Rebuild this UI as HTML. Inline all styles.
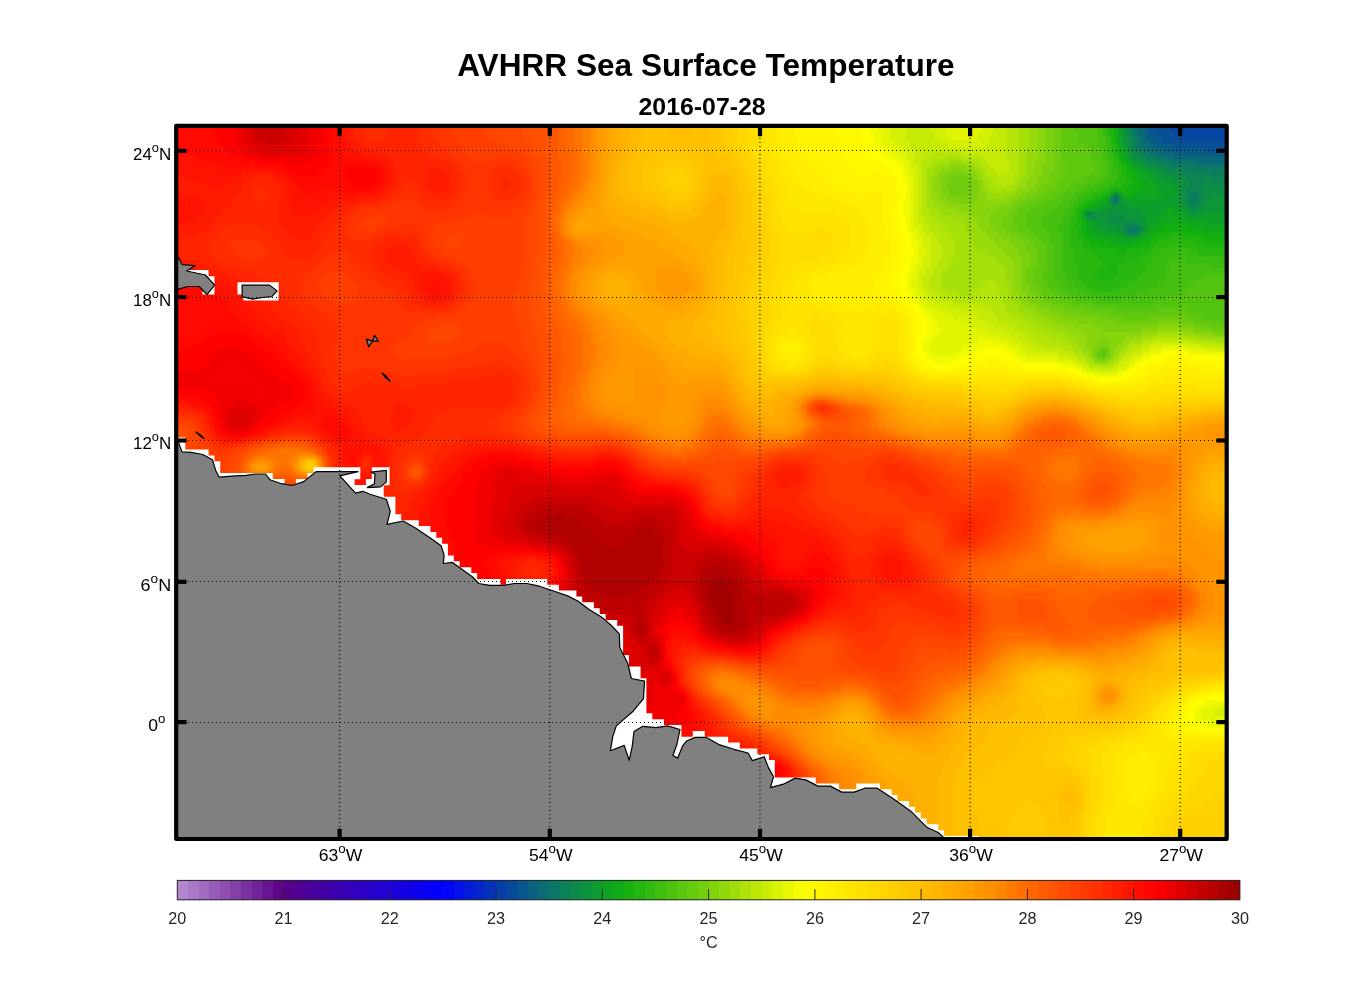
<!DOCTYPE html><html><head><meta charset="utf-8"><title>AVHRR Sea Surface Temperature</title>
<style>html,body{margin:0;padding:0;background:#fff}svg{display:block}text{font-family:"Liberation Sans",sans-serif}</style></head><body>
<svg width="1356" height="1000" viewBox="0 0 1356 1000">
<defs><clipPath id="cp"><rect x="177.2" y="126.9" width="1048.2" height="711.0"/></clipPath>
<filter id="bl" x="-10%" y="-10%" width="120%" height="120%" color-interpolation-filters="sRGB"><feGaussianBlur stdDeviation="1.3"/></filter></defs>
<rect width="1356" height="1000" fill="#fff"/>
<g clip-path="url(#cp)"><g filter="url(#bl)">
<g shape-rendering="crispEdges">
<path fill="#0744a2" d="M1170 104h80v28h-80zM1174 132h76v4h-76zM1182 136h68v4h-68z"/>
<path fill="#085095" d="M1150 104h20v28h-20zM1154 132h20v4h-20zM1158 136h24v4h-24zM1162 140h88v4h-88zM1174 144h76v4h-76zM1206 148h44v4h-44z"/>
<path fill="#085c87" d="M1146 104h4v28h-4zM1146 132h8v4h-8zM1146 136h12v4h-12zM1150 140h12v4h-12zM1154 144h20v4h-20zM1166 148h40v4h-40zM1178 152h72v4h-72z"/>
<path fill="#09687a" d="M1138 104h8v28h-8zM1138 132h8v4h-8zM1142 136h4v4h-4zM1142 140h8v4h-8zM1146 144h8v4h-8zM1150 148h16v4h-16zM1158 152h20v4h-20zM1174 156h76v4h-76zM1198 160h52v4h-52zM1114 196h4v4h-4z"/>
<path fill="#0a746c" d="M1134 104h4v28h-4zM1134 132h4v4h-4zM1138 136h4v4h-4zM1138 140h4v4h-4zM1138 144h8v4h-8zM1142 148h8v4h-8zM1150 152h8v4h-8zM1158 156h16v4h-16zM1170 160h28v4h-28zM1190 164h60v4h-60zM1114 200h4v4h-4zM1130 228h8v4h-8z"/>
<path fill="#0b7d5f" d="M1130 104h4v28h-4zM1130 132h4v4h-4zM1134 136h4v4h-4zM1134 140h4v4h-4zM1134 144h4v4h-4zM1138 148h4v4h-4zM1142 152h8v4h-8zM1146 156h12v4h-12zM1158 160h12v4h-12zM1170 164h20v4h-20zM1186 168h64v4h-64zM1210 172h40v4h-40zM1190 192h8v4h-8zM1190 196h8v4h-8zM1190 200h8v4h-8zM1130 224h4v4h-4zM1126 228h4v4h-4z"/>
<path fill="#0c8552" d="M1126 104h4v28h-4zM1130 136h4v4h-4zM1130 140h4v4h-4zM1130 144h4v4h-4zM1134 148h4v4h-4zM1138 152h4v4h-4zM1142 156h4v4h-4zM1146 160h12v4h-12zM1158 164h12v4h-12zM1166 168h20v4h-20zM1178 172h32v4h-32zM1186 176h64v4h-64zM1190 180h16v4h-16zM1210 180h40v4h-40zM1190 184h12v4h-12zM1186 188h16v4h-16zM1186 192h4v4h-4zM1198 192h4v4h-4zM1110 196h4v4h-4zM1186 196h4v4h-4zM1198 196h4v4h-4zM1110 200h4v4h-4zM1186 200h4v4h-4zM1198 200h4v4h-4zM1190 204h8v4h-8zM1086 212h8v4h-8zM1126 224h4v4h-4zM1134 224h4v4h-4zM1138 228h4v4h-4zM1130 232h8v4h-8z"/>
<path fill="#0d8e45" d="M1126 132h4v4h-4zM1126 136h4v4h-4zM1126 140h4v4h-4zM1126 144h4v4h-4zM1130 148h4v4h-4zM1130 152h8v4h-8zM1134 156h8v4h-8zM1142 160h4v4h-4zM1146 164h12v4h-12zM1158 168h8v4h-8zM1166 172h12v4h-12zM1174 176h12v4h-12zM1182 180h8v4h-8zM1206 180h4v4h-4zM1182 184h8v4h-8zM1202 184h48v4h-48zM1182 188h4v4h-4zM1202 188h48v4h-48zM1114 192h4v4h-4zM1182 192h4v4h-4zM1202 192h48v4h-48zM1118 196h4v4h-4zM1182 196h4v4h-4zM1202 196h8v4h-8zM1118 200h4v4h-4zM1182 200h4v4h-4zM1202 200h4v4h-4zM1114 204h4v4h-4zM1186 204h4v4h-4zM1198 204h4v4h-4zM1190 208h8v4h-8zM1110 212h12v4h-12zM1090 216h4v4h-4zM1106 216h20v4h-20zM1110 220h28v4h-28zM1118 224h8v4h-8zM1138 224h4v4h-4zM1122 228h4v4h-4zM1126 232h4v4h-4z"/>
<path fill="#0d9637" d="M1122 104h4v28h-4zM1122 132h4v4h-4zM1122 136h4v4h-4zM1122 140h4v4h-4zM1126 148h4v4h-4zM1130 156h4v4h-4zM1134 160h8v4h-8zM1142 164h4v4h-4zM1146 168h12v4h-12zM1154 172h12v4h-12zM1158 176h16v4h-16zM1166 180h16v4h-16zM1174 184h8v4h-8zM1178 188h4v4h-4zM1178 192h4v4h-4zM1178 196h4v4h-4zM1210 196h40v4h-40zM1178 200h4v4h-4zM1206 200h44v4h-44zM1110 204h4v4h-4zM1118 204h12v4h-12zM1182 204h4v4h-4zM1202 204h48v4h-48zM1102 208h40v4h-40zM1186 208h4v4h-4zM1198 208h52v4h-52zM1094 212h16v4h-16zM1122 212h24v4h-24zM1190 212h12v4h-12zM1086 216h4v4h-4zM1094 216h12v4h-12zM1126 216h20v4h-20zM1098 220h12v4h-12zM1138 220h8v4h-8zM1098 224h20v4h-20zM1142 224h4v4h-4zM1106 228h16v4h-16zM1142 228h4v4h-4zM1118 232h8v4h-8zM1138 232h4v4h-4z"/>
<path fill="#0e9f2a" d="M1118 104h4v28h-4zM1118 132h4v4h-4zM1122 144h4v4h-4zM1122 148h4v4h-4zM1126 152h4v4h-4zM1126 156h4v4h-4zM1130 160h4v4h-4zM1134 164h8v4h-8zM1138 168h8v4h-8zM1146 172h8v4h-8zM1150 176h8v4h-8zM1154 180h12v4h-12zM1158 184h16v4h-16zM1158 188h20v4h-20zM1110 192h4v4h-4zM1118 192h4v4h-4zM1162 192h16v4h-16zM1158 196h20v4h-20zM1106 200h4v4h-4zM1122 200h56v4h-56zM1102 204h8v4h-8zM1130 204h52v4h-52zM1090 208h12v4h-12zM1142 208h24v4h-24zM1174 208h12v4h-12zM1082 212h4v4h-4zM1146 212h16v4h-16zM1182 212h8v4h-8zM1202 212h48v4h-48zM1146 216h12v4h-12zM1186 216h64v4h-64zM1090 220h8v4h-8zM1146 220h8v4h-8zM1206 220h44v4h-44zM1090 224h8v4h-8zM1146 224h4v4h-4zM1094 228h12v4h-12zM1146 228h4v4h-4zM1102 232h16v4h-16zM1142 232h4v4h-4zM1122 236h16v4h-16z"/>
<path fill="#0fa71d" d="M1118 136h4v4h-4zM1118 140h4v4h-4zM1118 144h4v4h-4zM1118 148h4v4h-4zM1122 152h4v4h-4zM1122 156h4v4h-4zM1126 160h4v4h-4zM1130 164h4v4h-4zM1134 168h4v4h-4zM1138 172h8v4h-8zM1138 176h12v4h-12zM1142 180h12v4h-12zM1142 184h16v4h-16zM1142 188h16v4h-16zM1134 192h28v4h-28zM1106 196h4v4h-4zM1122 196h36v4h-36zM1098 200h8v4h-8zM1094 204h8v4h-8zM1086 208h4v4h-4zM1166 208h8v4h-8zM1162 212h20v4h-20zM1082 216h4v4h-4zM1158 216h28v4h-28zM1086 220h4v4h-4zM1154 220h20v4h-20zM1178 220h28v4h-28zM1086 224h4v4h-4zM1150 224h12v4h-12zM1190 224h60v4h-60zM1086 228h8v4h-8zM1150 228h8v4h-8zM1202 228h48v4h-48zM1090 232h12v4h-12zM1146 232h4v4h-4zM1098 236h24v4h-24zM1138 236h8v4h-8zM1110 240h24v4h-24z"/>
<path fill="#10b010" d="M1114 104h4v28h-4zM1114 132h4v4h-4zM1114 136h4v4h-4zM1114 140h4v4h-4zM1118 152h4v4h-4zM1118 156h4v4h-4zM1122 160h4v4h-4zM1126 164h4v4h-4zM1126 168h8v4h-8zM1130 172h8v4h-8zM1130 176h8v4h-8zM1134 180h8v4h-8zM1130 184h12v4h-12zM1114 188h4v4h-4zM1126 188h16v4h-16zM1122 192h12v4h-12zM1102 196h4v4h-4zM1094 200h4v4h-4zM1086 204h8v4h-8zM1082 208h4v4h-4zM1082 220h4v4h-4zM1174 220h4v4h-4zM1082 224h4v4h-4zM1162 224h28v4h-28zM1082 228h4v4h-4zM1158 228h44v4h-44zM1082 232h8v4h-8zM1150 232h12v4h-12zM1190 232h60v4h-60zM1086 236h12v4h-12zM1146 236h8v4h-8zM1202 236h48v4h-48zM1090 240h20v4h-20zM1134 240h16v4h-16zM1098 244h44v4h-44zM1118 248h8v4h-8z"/>
<path fill="#1db410" d="M1110 104h4v28h-4zM1110 132h4v4h-4zM1110 136h4v4h-4zM1114 144h4v4h-4zM1114 148h4v4h-4zM1114 152h4v4h-4zM1118 160h4v4h-4zM1122 164h4v4h-4zM1122 168h4v4h-4zM1122 172h8v4h-8zM1126 176h4v4h-4zM1126 180h8v4h-8zM1122 184h8v4h-8zM1110 188h4v4h-4zM1118 188h8v4h-8zM1102 192h8v4h-8zM1094 196h8v4h-8zM1086 200h8v4h-8zM1082 204h4v4h-4zM1078 208h4v4h-4zM1078 212h4v4h-4zM1078 216h4v4h-4zM1078 220h4v4h-4zM1074 224h8v4h-8zM1078 228h4v4h-4zM1078 232h4v4h-4zM1162 232h28v4h-28zM1078 236h8v4h-8zM1154 236h16v4h-16zM1182 236h20v4h-20zM1082 240h8v4h-8zM1150 240h8v4h-8zM1194 240h56v4h-56zM1082 244h16v4h-16zM1142 244h12v4h-12zM1202 244h48v4h-48zM1086 248h32v4h-32zM1126 248h24v4h-24zM1094 252h48v4h-48zM1098 256h40v4h-40zM1102 260h24v4h-24zM1106 264h12v4h-12zM1098 268h20v4h-20zM1094 272h24v4h-24zM1098 276h16v4h-16z"/>
<path fill="#2ab810" d="M1106 104h4v28h-4zM1106 132h4v4h-4zM1110 140h4v4h-4zM1110 144h4v4h-4zM1110 148h4v4h-4zM1110 152h4v4h-4zM1114 156h4v4h-4zM1114 160h4v4h-4zM1114 164h8v4h-8zM1118 168h4v4h-4zM1118 172h4v4h-4zM1118 176h8v4h-8zM1114 180h12v4h-12zM1110 184h12v4h-12zM1102 188h8v4h-8zM1090 192h12v4h-12zM1086 196h8v4h-8zM1078 200h8v4h-8zM1078 204h4v4h-4zM1074 208h4v4h-4zM1074 212h4v4h-4zM1070 216h8v4h-8zM1070 220h8v4h-8zM1070 224h4v4h-4zM1070 228h8v4h-8zM1070 232h8v4h-8zM1070 236h8v4h-8zM1170 236h12v4h-12zM1070 240h12v4h-12zM1158 240h36v4h-36zM1070 244h12v4h-12zM1154 244h20v4h-20zM1178 244h24v4h-24zM1074 248h12v4h-12zM1150 248h12v4h-12zM1190 248h60v4h-60zM1074 252h20v4h-20zM1142 252h16v4h-16zM1198 252h52v4h-52zM1074 256h24v4h-24zM1138 256h16v4h-16zM1222 256h28v4h-28zM1074 260h28v4h-28zM1126 260h24v4h-24zM1078 264h28v4h-28zM1118 264h28v4h-28zM1078 268h20v4h-20zM1118 268h28v4h-28zM1078 272h16v4h-16zM1118 272h24v4h-24zM1078 276h20v4h-20zM1114 276h24v4h-24zM1082 280h52v4h-52zM1086 284h40v4h-40zM1094 288h24v4h-24z"/>
<path fill="#38bc0f" d="M1102 104h4v28h-4zM1102 132h4v4h-4zM1106 136h4v4h-4zM1106 140h4v4h-4zM1106 144h4v4h-4zM1106 148h4v4h-4zM1106 152h4v4h-4zM1106 156h8v4h-8zM1110 160h4v4h-4zM1110 164h4v4h-4zM1110 168h8v4h-8zM1110 172h8v4h-8zM1110 176h8v4h-8zM1106 180h8v4h-8zM1098 184h12v4h-12zM1090 188h12v4h-12zM1082 192h8v4h-8zM1078 196h8v4h-8zM1074 200h4v4h-4zM1070 204h8v4h-8zM1066 208h8v4h-8zM1066 212h8v4h-8zM1062 216h8v4h-8zM1062 220h8v4h-8zM1058 224h12v4h-12zM1058 228h12v4h-12zM1062 232h8v4h-8zM1062 236h8v4h-8zM1062 240h8v4h-8zM1062 244h8v4h-8zM1174 244h4v4h-4zM1062 248h12v4h-12zM1162 248h28v4h-28zM1062 252h12v4h-12zM1158 252h40v4h-40zM1062 256h12v4h-12zM1154 256h68v4h-68zM1062 260h12v4h-12zM1150 260h20v4h-20zM1186 260h64v4h-64zM1062 264h16v4h-16zM1146 264h24v4h-24zM1210 264h40v4h-40zM1062 268h16v4h-16zM1146 268h20v4h-20zM1066 272h12v4h-12zM1142 272h24v4h-24zM1066 276h12v4h-12zM1138 276h28v4h-28zM1070 280h12v4h-12zM1134 280h28v4h-28zM1074 284h12v4h-12zM1126 284h32v4h-32zM1078 288h16v4h-16zM1118 288h28v4h-28zM1086 292h52v4h-52zM1102 296h20v4h-20z"/>
<path fill="#45c00f" d="M1098 104h4v28h-4zM1098 132h4v4h-4zM1098 136h8v4h-8zM1098 140h8v4h-8zM1098 144h8v4h-8zM1102 148h4v4h-4zM1102 152h4v4h-4zM1102 156h4v4h-4zM1102 160h8v4h-8zM1106 164h4v4h-4zM1106 168h4v4h-4zM1102 172h8v4h-8zM1102 176h8v4h-8zM1094 180h12v4h-12zM1086 184h12v4h-12zM1078 188h12v4h-12zM1074 192h8v4h-8zM1070 196h8v4h-8zM1062 200h12v4h-12zM1058 204h12v4h-12zM1054 208h12v4h-12zM1046 212h20v4h-20zM1042 216h20v4h-20zM1042 220h20v4h-20zM1042 224h16v4h-16zM1046 228h12v4h-12zM1050 232h12v4h-12zM1050 236h12v4h-12zM1050 240h12v4h-12zM1054 244h8v4h-8zM1054 248h8v4h-8zM1054 252h8v4h-8zM1054 256h8v4h-8zM1054 260h8v4h-8zM1170 260h16v4h-16zM1054 264h8v4h-8zM1170 264h40v4h-40zM1054 268h8v4h-8zM1166 268h84v4h-84zM1054 272h12v4h-12zM1166 272h84v4h-84zM1054 276h12v4h-12zM1166 276h36v4h-36zM1054 280h16v4h-16zM1162 280h32v4h-32zM1058 284h16v4h-16zM1158 284h32v4h-32zM1062 288h16v4h-16zM1146 288h40v4h-40zM1070 292h16v4h-16zM1138 292h40v4h-40zM1078 296h24v4h-24zM1122 296h44v4h-44zM1094 300h60v4h-60z"/>
<path fill="#52c40f" d="M1074 104h24v28h-24zM1078 132h20v4h-20zM1078 136h20v4h-20zM1078 140h20v4h-20zM1086 144h12v4h-12zM1090 148h12v4h-12zM1090 152h12v4h-12zM1090 156h12v4h-12zM1094 160h8v4h-8zM1094 164h12v4h-12zM1094 168h12v4h-12zM1090 172h12v4h-12zM1082 176h20v4h-20zM1074 180h20v4h-20zM1070 184h16v4h-16zM1066 188h12v4h-12zM1062 192h12v4h-12zM1054 196h16v4h-16zM1046 200h16v4h-16zM1038 204h20v4h-20zM1030 208h24v4h-24zM1026 212h20v4h-20zM1026 216h16v4h-16zM1026 220h16v4h-16zM1026 224h16v4h-16zM1030 228h16v4h-16zM1034 232h16v4h-16zM1038 236h12v4h-12zM1042 240h8v4h-8zM1046 244h8v4h-8zM1046 248h8v4h-8zM1046 252h8v4h-8zM1046 256h8v4h-8zM1046 260h8v4h-8zM1046 264h8v4h-8zM1046 268h8v4h-8zM1042 272h12v4h-12zM1042 276h12v4h-12zM1202 276h48v4h-48zM1046 280h8v4h-8zM1194 280h56v4h-56zM1046 284h12v4h-12zM1190 284h60v4h-60zM1050 288h12v4h-12zM1186 288h64v4h-64zM1054 292h16v4h-16zM1178 292h72v4h-72zM1062 296h16v4h-16zM1166 296h84v4h-84zM1074 300h20v4h-20zM1154 300h96v4h-96zM1094 304h156v4h-156zM1118 308h40v4h-40zM1186 308h64v4h-64zM1194 312h56v4h-56zM1202 316h48v4h-48zM1222 320h28v4h-28zM1102 352h4v4h-4z"/>
<path fill="#60c80e" d="M1062 104h12v28h-12zM1062 132h16v4h-16zM1062 136h16v4h-16zM1062 140h16v4h-16zM1062 144h24v4h-24zM1062 148h28v4h-28zM1062 152h28v4h-28zM1062 156h28v4h-28zM1062 160h32v4h-32zM1066 164h28v4h-28zM1066 168h28v4h-28zM1062 172h28v4h-28zM1062 176h20v4h-20zM1058 180h16v4h-16zM1058 184h12v4h-12zM1050 188h16v4h-16zM1046 192h16v4h-16zM1038 196h16v4h-16zM1030 200h16v4h-16zM1022 204h16v4h-16zM1018 208h12v4h-12zM1014 212h12v4h-12zM1014 216h12v4h-12zM1014 220h12v4h-12zM1014 224h12v4h-12zM1018 228h12v4h-12zM1022 232h12v4h-12zM1030 236h8v4h-8zM1034 240h8v4h-8zM1034 244h12v4h-12zM1038 248h8v4h-8zM1038 252h8v4h-8zM1038 256h8v4h-8zM1038 260h8v4h-8zM1038 264h8v4h-8zM1034 268h12v4h-12zM1034 272h8v4h-8zM1034 276h8v4h-8zM1034 280h12v4h-12zM1038 284h8v4h-8zM1038 288h12v4h-12zM1042 292h12v4h-12zM1046 296h16v4h-16zM1054 300h20v4h-20zM1066 304h28v4h-28zM1086 308h32v4h-32zM1158 308h28v4h-28zM1110 312h84v4h-84zM1122 316h28v4h-28zM1186 316h16v4h-16zM1194 320h28v4h-28zM1210 324h40v4h-40zM1102 348h4v4h-4zM1098 352h4v4h-4z"/>
<path fill="#6dcc0e" d="M1054 104h8v28h-8zM1054 132h8v4h-8zM1054 136h8v4h-8zM1054 140h8v4h-8zM1054 144h8v4h-8zM1054 148h8v4h-8zM1054 152h8v4h-8zM1054 156h8v4h-8zM1054 160h8v4h-8zM1054 164h12v4h-12zM1054 168h12v4h-12zM1050 172h12v4h-12zM950 176h16v4h-16zM1050 176h12v4h-12zM950 180h20v4h-20zM1046 180h12v4h-12zM946 184h24v4h-24zM1042 184h16v4h-16zM950 188h20v4h-20zM1038 188h12v4h-12zM950 192h20v4h-20zM1034 192h12v4h-12zM1026 196h12v4h-12zM1018 200h12v4h-12zM1014 204h8v4h-8zM1010 208h8v4h-8zM1006 212h8v4h-8zM1002 216h12v4h-12zM1002 220h12v4h-12zM1002 224h12v4h-12zM1006 228h12v4h-12zM1010 232h12v4h-12zM1018 236h12v4h-12zM1022 240h12v4h-12zM1026 244h8v4h-8zM1026 248h12v4h-12zM1030 252h8v4h-8zM1030 256h8v4h-8zM1030 260h8v4h-8zM1030 264h8v4h-8zM1026 268h8v4h-8zM1026 272h8v4h-8zM1026 276h8v4h-8zM1026 280h8v4h-8zM1030 284h8v4h-8zM1030 288h8v4h-8zM1034 292h8v4h-8zM1038 296h8v4h-8zM1042 300h12v4h-12zM1050 304h16v4h-16zM1062 308h24v4h-24zM1074 312h36v4h-36zM1098 316h24v4h-24zM1150 316h36v4h-36zM1114 320h44v4h-44zM1182 320h12v4h-12zM1194 324h16v4h-16zM1210 328h40v4h-40zM1098 348h4v4h-4zM1106 348h4v4h-4zM1094 352h4v4h-4zM1106 352h4v4h-4zM1098 356h8v4h-8z"/>
<path fill="#7ad00e" d="M1046 104h8v28h-8zM1046 132h8v4h-8zM1046 136h8v4h-8zM1046 140h8v4h-8zM1046 144h8v4h-8zM1046 148h8v4h-8zM1046 152h8v4h-8zM1046 156h8v4h-8zM1046 160h8v4h-8zM1042 164h12v4h-12zM954 168h8v4h-8zM1042 168h12v4h-12zM946 172h24v4h-24zM1042 172h8v4h-8zM942 176h8v4h-8zM966 176h8v4h-8zM1038 176h12v4h-12zM942 180h8v4h-8zM970 180h8v4h-8zM1038 180h8v4h-8zM942 184h4v4h-4zM970 184h8v4h-8zM1034 184h8v4h-8zM942 188h8v4h-8zM970 188h8v4h-8zM1030 188h8v4h-8zM942 192h8v4h-8zM970 192h8v4h-8zM1022 192h12v4h-12zM946 196h32v4h-32zM1018 196h8v4h-8zM954 200h20v4h-20zM1010 200h8v4h-8zM1002 204h12v4h-12zM994 208h16v4h-16zM990 212h16v4h-16zM990 216h12v4h-12zM990 220h12v4h-12zM990 224h12v4h-12zM994 228h12v4h-12zM998 232h12v4h-12zM1002 236h16v4h-16zM1010 240h12v4h-12zM1014 244h12v4h-12zM1018 248h8v4h-8zM1018 252h12v4h-12zM1022 256h8v4h-8zM1022 260h8v4h-8zM1022 264h8v4h-8zM1022 268h4v4h-4zM1022 272h4v4h-4zM1022 276h4v4h-4zM1022 280h4v4h-4zM1022 284h8v4h-8zM1022 288h8v4h-8zM1026 292h8v4h-8zM1026 296h12v4h-12zM1030 300h12v4h-12zM1038 304h12v4h-12zM1046 308h16v4h-16zM1054 312h20v4h-20zM1062 316h36v4h-36zM1078 320h36v4h-36zM1158 320h24v4h-24zM1094 324h64v4h-64zM1178 324h16v4h-16zM1102 328h40v4h-40zM1194 328h16v4h-16zM1214 332h36v4h-36zM1098 340h12v4h-12zM1094 344h16v4h-16zM1094 348h4v4h-4zM1094 356h4v4h-4zM1106 356h4v4h-4z"/>
<path fill="#89d50c" d="M1038 104h8v28h-8zM1038 132h8v4h-8zM1038 136h8v4h-8zM1038 140h8v4h-8zM1038 144h8v4h-8zM1038 148h8v4h-8zM1038 152h8v4h-8zM1038 156h8v4h-8zM1034 160h12v4h-12zM950 164h16v4h-16zM1034 164h8v4h-8zM942 168h12v4h-12zM962 168h12v4h-12zM1034 168h8v4h-8zM938 172h8v4h-8zM970 172h8v4h-8zM1034 172h8v4h-8zM938 176h4v4h-4zM974 176h4v4h-4zM1030 176h8v4h-8zM934 180h8v4h-8zM978 180h4v4h-4zM1026 180h12v4h-12zM934 184h8v4h-8zM978 184h4v4h-4zM1026 184h8v4h-8zM934 188h8v4h-8zM978 188h4v4h-4zM1018 188h12v4h-12zM938 192h4v4h-4zM978 192h8v4h-8zM1014 192h8v4h-8zM938 196h8v4h-8zM978 196h8v4h-8zM1006 196h12v4h-12zM942 200h12v4h-12zM974 200h36v4h-36zM946 204h56v4h-56zM958 208h36v4h-36zM970 212h20v4h-20zM974 216h16v4h-16zM978 220h12v4h-12zM978 224h12v4h-12zM982 228h12v4h-12zM986 232h12v4h-12zM990 236h12v4h-12zM994 240h16v4h-16zM998 244h16v4h-16zM1002 248h16v4h-16zM1006 252h12v4h-12zM1010 256h12v4h-12zM1014 260h8v4h-8zM1014 264h8v4h-8zM1014 268h8v4h-8zM1014 272h8v4h-8zM1014 276h8v4h-8zM1014 280h8v4h-8zM1014 284h8v4h-8zM1014 288h8v4h-8zM1018 292h8v4h-8zM1018 296h8v4h-8zM1022 300h8v4h-8zM1026 304h12v4h-12zM1034 308h12v4h-12zM1038 312h16v4h-16zM1046 316h16v4h-16zM1054 320h24v4h-24zM1066 324h28v4h-28zM1158 324h20v4h-20zM1074 328h28v4h-28zM1142 328h16v4h-16zM1182 328h12v4h-12zM1082 332h60v4h-60zM1194 332h20v4h-20zM1086 336h40v4h-40zM1086 340h12v4h-12zM1110 340h12v4h-12zM1086 344h8v4h-8zM1110 344h8v4h-8zM1090 348h4v4h-4zM1110 348h4v4h-4zM1090 352h4v4h-4zM1110 352h4v4h-4zM1110 356h4v4h-4zM1098 360h8v4h-8z"/>
<path fill="#98da0b" d="M1030 104h8v28h-8zM1030 132h8v4h-8zM1030 136h8v4h-8zM1030 140h8v4h-8zM1030 144h8v4h-8zM1026 148h12v4h-12zM1026 152h12v4h-12zM1026 156h12v4h-12zM950 160h12v4h-12zM1026 160h8v4h-8zM938 164h12v4h-12zM966 164h8v4h-8zM1026 164h8v4h-8zM934 168h8v4h-8zM974 168h4v4h-4zM1026 168h8v4h-8zM934 172h4v4h-4zM978 172h4v4h-4zM1026 172h8v4h-8zM930 176h8v4h-8zM978 176h4v4h-4zM1022 176h8v4h-8zM930 180h4v4h-4zM982 180h4v4h-4zM1018 180h8v4h-8zM930 184h4v4h-4zM982 184h4v4h-4zM1018 184h8v4h-8zM930 188h4v4h-4zM982 188h8v4h-8zM1014 188h4v4h-4zM930 192h8v4h-8zM986 192h12v4h-12zM1002 192h12v4h-12zM930 196h8v4h-8zM986 196h20v4h-20zM934 200h8v4h-8zM934 204h12v4h-12zM938 208h20v4h-20zM942 212h28v4h-28zM954 216h20v4h-20zM962 220h16v4h-16zM966 224h12v4h-12zM966 228h16v4h-16zM970 232h16v4h-16zM970 236h20v4h-20zM974 240h20v4h-20zM974 244h24v4h-24zM978 248h24v4h-24zM986 252h20v4h-20zM994 256h16v4h-16zM998 260h16v4h-16zM1002 264h12v4h-12zM1006 268h8v4h-8zM1006 272h8v4h-8zM1006 276h8v4h-8zM1006 280h8v4h-8zM1010 284h4v4h-4zM1010 288h4v4h-4zM1010 292h8v4h-8zM1010 296h8v4h-8zM1014 300h8v4h-8zM1018 304h8v4h-8zM1018 308h16v4h-16zM1026 312h12v4h-12zM1034 316h12v4h-12zM1038 320h16v4h-16zM1046 324h20v4h-20zM1054 328h20v4h-20zM1158 328h24v4h-24zM1066 332h16v4h-16zM1142 332h16v4h-16zM1182 332h12v4h-12zM1070 336h16v4h-16zM1126 336h16v4h-16zM1202 336h48v4h-48zM1074 340h12v4h-12zM1122 340h8v4h-8zM1078 344h8v4h-8zM1118 344h8v4h-8zM1082 348h8v4h-8zM1114 348h8v4h-8zM1086 352h4v4h-4zM1114 352h4v4h-4zM1090 356h4v4h-4zM1094 360h4v4h-4zM1106 360h4v4h-4z"/>
<path fill="#a6e009" d="M1018 104h12v28h-12zM1018 132h12v4h-12zM1018 136h12v4h-12zM1018 140h12v4h-12zM1018 144h12v4h-12zM1018 148h8v4h-8zM1018 152h8v4h-8zM946 156h12v4h-12zM1018 156h8v4h-8zM934 160h16v4h-16zM962 160h16v4h-16zM1018 160h8v4h-8zM930 164h8v4h-8zM974 164h8v4h-8zM1018 164h8v4h-8zM926 168h8v4h-8zM978 168h8v4h-8zM1018 168h8v4h-8zM926 172h8v4h-8zM982 172h4v4h-4zM1018 172h8v4h-8zM926 176h4v4h-4zM982 176h8v4h-8zM1014 176h8v4h-8zM926 180h4v4h-4zM986 180h8v4h-8zM1014 180h4v4h-4zM926 184h4v4h-4zM986 184h12v4h-12zM1006 184h12v4h-12zM926 188h4v4h-4zM990 188h24v4h-24zM926 192h4v4h-4zM998 192h4v4h-4zM926 196h4v4h-4zM926 200h8v4h-8zM926 204h8v4h-8zM930 208h8v4h-8zM930 212h12v4h-12zM934 216h20v4h-20zM938 220h24v4h-24zM942 224h24v4h-24zM946 228h20v4h-20zM950 232h20v4h-20zM954 236h16v4h-16zM954 240h20v4h-20zM954 244h20v4h-20zM954 248h24v4h-24zM954 252h32v4h-32zM954 256h40v4h-40zM950 260h48v4h-48zM950 264h52v4h-52zM946 268h60v4h-60zM942 272h64v4h-64zM942 276h64v4h-64zM942 280h44v4h-44zM994 280h12v4h-12zM942 284h40v4h-40zM998 284h12v4h-12zM946 288h32v4h-32zM998 288h12v4h-12zM958 292h12v4h-12zM1002 292h8v4h-8zM1002 296h8v4h-8zM1002 300h12v4h-12zM1006 304h12v4h-12zM1006 308h12v4h-12zM1010 312h16v4h-16zM1018 316h16v4h-16zM1022 320h16v4h-16zM1030 324h16v4h-16zM1034 328h20v4h-20zM1042 332h24v4h-24zM1158 332h24v4h-24zM1050 336h20v4h-20zM1142 336h12v4h-12zM1186 336h16v4h-16zM1062 340h12v4h-12zM1130 340h12v4h-12zM1214 340h36v4h-36zM1070 344h8v4h-8zM1126 344h4v4h-4zM1074 348h8v4h-8zM1122 348h4v4h-4zM1082 352h4v4h-4zM1118 352h4v4h-4zM1086 356h4v4h-4zM1114 356h4v4h-4zM1090 360h4v4h-4zM1110 360h4v4h-4z"/>
<path fill="#b5e508" d="M1006 104h12v28h-12zM1006 132h12v4h-12zM1006 136h12v4h-12zM1006 140h12v4h-12zM1006 144h12v4h-12zM1006 148h12v4h-12zM930 152h32v4h-32zM1006 152h12v4h-12zM926 156h20v4h-20zM958 156h24v4h-24zM1006 156h12v4h-12zM922 160h12v4h-12zM978 160h8v4h-8zM1010 160h8v4h-8zM922 164h8v4h-8zM982 164h8v4h-8zM1010 164h8v4h-8zM922 168h4v4h-4zM986 168h8v4h-8zM1010 168h8v4h-8zM922 172h4v4h-4zM986 172h12v4h-12zM1006 172h12v4h-12zM922 176h4v4h-4zM990 176h24v4h-24zM922 180h4v4h-4zM994 180h20v4h-20zM922 184h4v4h-4zM998 184h8v4h-8zM922 188h4v4h-4zM922 192h4v4h-4zM922 196h4v4h-4zM922 200h4v4h-4zM922 204h4v4h-4zM922 208h8v4h-8zM922 212h8v4h-8zM926 216h8v4h-8zM926 220h12v4h-12zM930 224h12v4h-12zM930 228h16v4h-16zM934 232h16v4h-16zM938 236h16v4h-16zM938 240h16v4h-16zM942 244h12v4h-12zM942 248h12v4h-12zM942 252h12v4h-12zM942 256h12v4h-12zM938 260h12v4h-12zM938 264h12v4h-12zM934 268h12v4h-12zM934 272h8v4h-8zM930 276h12v4h-12zM930 280h12v4h-12zM986 280h8v4h-8zM930 284h12v4h-12zM982 284h16v4h-16zM934 288h12v4h-12zM978 288h20v4h-20zM938 292h20v4h-20zM970 292h32v4h-32zM942 296h60v4h-60zM954 300h48v4h-48zM982 304h24v4h-24zM990 308h16v4h-16zM994 312h16v4h-16zM998 316h20v4h-20zM1006 320h16v4h-16zM1014 324h16v4h-16zM1018 328h16v4h-16zM1026 332h16v4h-16zM1030 336h20v4h-20zM1154 336h32v4h-32zM1034 340h28v4h-28zM1142 340h8v4h-8zM1194 340h20v4h-20zM1042 344h28v4h-28zM1130 344h12v4h-12zM1062 348h12v4h-12zM1126 348h8v4h-8zM1074 352h8v4h-8zM1122 352h4v4h-4zM1078 356h8v4h-8zM1118 356h4v4h-4zM1086 360h4v4h-4zM1114 360h4v4h-4zM1090 364h24v4h-24z"/>
<path fill="#c4ea06" d="M906 104h24v28h-24zM994 104h12v28h-12zM906 132h28v4h-28zM990 132h16v4h-16zM906 136h28v4h-28zM990 136h16v4h-16zM910 140h32v4h-32zM990 140h16v4h-16zM910 144h36v4h-36zM986 144h20v4h-20zM914 148h92v4h-92zM914 152h16v4h-16zM962 152h44v4h-44zM914 156h12v4h-12zM982 156h24v4h-24zM914 160h8v4h-8zM986 160h24v4h-24zM918 164h4v4h-4zM990 164h20v4h-20zM918 168h4v4h-4zM994 168h16v4h-16zM918 172h4v4h-4zM998 172h8v4h-8zM918 176h4v4h-4zM918 180h4v4h-4zM918 184h4v4h-4zM918 188h4v4h-4zM918 192h4v4h-4zM918 196h4v4h-4zM918 200h4v4h-4zM918 204h4v4h-4zM918 208h4v4h-4zM918 212h4v4h-4zM918 216h8v4h-8zM918 220h8v4h-8zM922 224h8v4h-8zM922 228h8v4h-8zM926 232h8v4h-8zM930 236h8v4h-8zM930 240h8v4h-8zM930 244h12v4h-12zM930 248h12v4h-12zM930 252h12v4h-12zM930 256h12v4h-12zM930 260h8v4h-8zM930 264h8v4h-8zM926 268h8v4h-8zM926 272h8v4h-8zM922 276h8v4h-8zM922 280h8v4h-8zM922 284h8v4h-8zM926 288h8v4h-8zM926 292h12v4h-12zM930 296h12v4h-12zM934 300h20v4h-20zM946 304h36v4h-36zM958 308h32v4h-32zM970 312h24v4h-24zM978 316h20v4h-20zM986 320h20v4h-20zM994 324h20v4h-20zM1002 328h16v4h-16zM1010 332h16v4h-16zM1018 336h12v4h-12zM1022 340h12v4h-12zM1150 340h44v4h-44zM1026 344h16v4h-16zM1142 344h8v4h-8zM1202 344h48v4h-48zM1034 348h28v4h-28zM1134 348h8v4h-8zM1058 352h16v4h-16zM1126 352h8v4h-8zM1070 356h8v4h-8zM1122 356h8v4h-8zM1078 360h8v4h-8zM1118 360h4v4h-4zM1086 364h4v4h-4zM1114 364h4v4h-4zM1098 368h12v4h-12z"/>
<path fill="#d3ef05" d="M890 104h16v28h-16zM930 104h16v28h-16zM982 104h12v28h-12zM890 132h16v4h-16zM934 132h12v4h-12zM978 132h12v4h-12zM890 136h16v4h-16zM934 136h16v4h-16zM978 136h12v4h-12zM894 140h16v4h-16zM942 140h48v4h-48zM898 144h12v4h-12zM946 144h40v4h-40zM902 148h12v4h-12zM906 152h8v4h-8zM906 156h8v4h-8zM910 160h4v4h-4zM910 164h8v4h-8zM910 168h8v4h-8zM914 172h4v4h-4zM914 176h4v4h-4zM914 180h4v4h-4zM914 184h4v4h-4zM914 188h4v4h-4zM914 192h4v4h-4zM914 196h4v4h-4zM914 200h4v4h-4zM914 204h4v4h-4zM914 208h4v4h-4zM914 212h4v4h-4zM914 216h4v4h-4zM914 220h4v4h-4zM914 224h8v4h-8zM918 228h4v4h-4zM918 232h8v4h-8zM922 236h8v4h-8zM922 240h8v4h-8zM922 244h8v4h-8zM926 248h4v4h-4zM926 252h4v4h-4zM922 256h8v4h-8zM922 260h8v4h-8zM922 264h8v4h-8zM918 268h8v4h-8zM918 272h8v4h-8zM918 276h4v4h-4zM918 280h4v4h-4zM918 284h4v4h-4zM918 288h8v4h-8zM922 292h4v4h-4zM922 296h8v4h-8zM926 300h8v4h-8zM930 304h16v4h-16zM938 308h20v4h-20zM946 312h24v4h-24zM954 316h24v4h-24zM962 320h24v4h-24zM970 324h24v4h-24zM978 328h24v4h-24zM990 332h20v4h-20zM1002 336h16v4h-16zM1010 340h12v4h-12zM1018 344h8v4h-8zM1150 344h12v4h-12zM1186 344h16v4h-16zM1022 348h12v4h-12zM1142 348h8v4h-8zM1210 348h40v4h-40zM1026 352h32v4h-32zM1134 352h8v4h-8zM1058 356h12v4h-12zM1130 356h4v4h-4zM1074 360h4v4h-4zM1122 360h8v4h-8zM1082 364h4v4h-4zM1118 364h8v4h-8zM1086 368h12v4h-12zM1110 368h8v4h-8zM1218 708h32v4h-32zM1214 712h36v4h-36z"/>
<path fill="#e1f503" d="M878 104h12v28h-12zM946 104h36v28h-36zM882 132h8v4h-8zM946 132h32v4h-32zM882 136h8v4h-8zM950 136h28v4h-28zM882 140h12v4h-12zM886 144h12v4h-12zM890 148h12v4h-12zM894 152h12v4h-12zM898 156h8v4h-8zM902 160h8v4h-8zM906 164h4v4h-4zM906 168h4v4h-4zM906 172h8v4h-8zM910 176h4v4h-4zM910 180h4v4h-4zM910 184h4v4h-4zM910 188h4v4h-4zM910 192h4v4h-4zM910 196h4v4h-4zM910 200h4v4h-4zM910 204h4v4h-4zM910 208h4v4h-4zM910 212h4v4h-4zM910 216h4v4h-4zM910 220h4v4h-4zM910 224h4v4h-4zM910 228h8v4h-8zM914 232h4v4h-4zM914 236h8v4h-8zM918 240h4v4h-4zM918 244h4v4h-4zM918 248h8v4h-8zM918 252h8v4h-8zM918 256h4v4h-4zM918 260h4v4h-4zM914 264h8v4h-8zM914 268h4v4h-4zM914 272h4v4h-4zM910 276h8v4h-8zM910 280h8v4h-8zM910 284h8v4h-8zM914 288h4v4h-4zM914 292h8v4h-8zM918 296h4v4h-4zM918 300h8v4h-8zM922 304h8v4h-8zM926 308h12v4h-12zM930 312h16v4h-16zM934 316h20v4h-20zM938 320h24v4h-24zM938 324h32v4h-32zM942 328h36v4h-36zM938 332h52v4h-52zM934 336h68v4h-68zM930 340h48v4h-48zM994 340h16v4h-16zM930 344h40v4h-40zM1006 344h12v4h-12zM1162 344h24v4h-24zM930 348h32v4h-32zM1014 348h8v4h-8zM1150 348h12v4h-12zM1190 348h20v4h-20zM934 352h20v4h-20zM1018 352h8v4h-8zM1142 352h8v4h-8zM1026 356h32v4h-32zM1134 356h8v4h-8zM1058 360h16v4h-16zM1130 360h4v4h-4zM1074 364h8v4h-8zM1126 364h4v4h-4zM1082 368h4v4h-4zM1118 368h8v4h-8zM1094 372h24v4h-24zM1210 704h40v4h-40zM1202 708h16v4h-16zM1202 712h12v4h-12zM1202 716h48v4h-48zM1210 720h40v4h-40z"/>
<path fill="#f0fa02" d="M870 104h8v28h-8zM870 132h12v4h-12zM874 136h8v4h-8zM874 140h8v4h-8zM874 144h12v4h-12zM878 148h12v4h-12zM882 152h12v4h-12zM886 156h12v4h-12zM894 160h8v4h-8zM898 164h8v4h-8zM902 168h4v4h-4zM902 172h4v4h-4zM902 176h8v4h-8zM906 180h4v4h-4zM906 184h4v4h-4zM906 188h4v4h-4zM906 192h4v4h-4zM906 196h4v4h-4zM902 200h8v4h-8zM902 204h8v4h-8zM902 208h8v4h-8zM902 212h8v4h-8zM906 216h4v4h-4zM906 220h4v4h-4zM906 224h4v4h-4zM906 228h4v4h-4zM910 232h4v4h-4zM910 236h4v4h-4zM910 240h8v4h-8zM910 244h8v4h-8zM914 248h4v4h-4zM914 252h4v4h-4zM910 256h8v4h-8zM910 260h8v4h-8zM910 264h4v4h-4zM910 268h4v4h-4zM906 272h8v4h-8zM906 276h4v4h-4zM906 280h4v4h-4zM906 284h4v4h-4zM906 288h8v4h-8zM910 292h4v4h-4zM910 296h8v4h-8zM914 300h4v4h-4zM918 304h4v4h-4zM922 308h4v4h-4zM922 312h8v4h-8zM926 316h8v4h-8zM926 320h12v4h-12zM930 324h8v4h-8zM930 328h12v4h-12zM926 332h12v4h-12zM926 336h8v4h-8zM922 340h8v4h-8zM978 340h16v4h-16zM922 344h8v4h-8zM970 344h36v4h-36zM922 348h8v4h-8zM962 348h20v4h-20zM1002 348h12v4h-12zM1162 348h28v4h-28zM926 352h8v4h-8zM954 352h20v4h-20zM1010 352h8v4h-8zM1150 352h12v4h-12zM1190 352h60v4h-60zM926 356h36v4h-36zM1014 356h12v4h-12zM1142 356h8v4h-8zM934 360h16v4h-16zM1022 360h36v4h-36zM1134 360h8v4h-8zM1062 364h12v4h-12zM1130 364h8v4h-8zM1078 368h4v4h-4zM1126 368h4v4h-4zM1086 372h8v4h-8zM1118 372h4v4h-4zM1206 700h44v4h-44zM1198 704h12v4h-12zM1194 708h8v4h-8zM1194 712h8v4h-8zM1194 716h8v4h-8zM1194 720h16v4h-16zM1206 724h44v4h-44z"/>
<path fill="#ffff00" d="M862 104h8v28h-8zM862 132h8v4h-8zM862 136h12v4h-12zM862 140h12v4h-12zM862 144h12v4h-12zM866 148h12v4h-12zM866 152h16v4h-16zM870 156h16v4h-16zM878 160h16v4h-16zM886 164h12v4h-12zM894 168h8v4h-8zM894 172h8v4h-8zM898 176h4v4h-4zM898 180h8v4h-8zM898 184h8v4h-8zM902 188h4v4h-4zM902 192h4v4h-4zM898 196h8v4h-8zM898 200h4v4h-4zM898 204h4v4h-4zM898 208h4v4h-4zM898 212h4v4h-4zM898 216h8v4h-8zM898 220h8v4h-8zM898 224h8v4h-8zM902 228h4v4h-4zM902 232h8v4h-8zM906 236h4v4h-4zM906 240h4v4h-4zM906 244h4v4h-4zM906 248h8v4h-8zM906 252h8v4h-8zM906 256h4v4h-4zM906 260h4v4h-4zM902 264h8v4h-8zM902 268h8v4h-8zM898 272h8v4h-8zM898 276h8v4h-8zM898 280h8v4h-8zM898 284h8v4h-8zM902 288h4v4h-4zM902 292h8v4h-8zM906 296h4v4h-4zM910 300h4v4h-4zM910 304h8v4h-8zM914 308h8v4h-8zM918 312h4v4h-4zM918 316h8v4h-8zM922 320h4v4h-4zM922 324h8v4h-8zM922 328h8v4h-8zM922 332h4v4h-4zM918 336h8v4h-8zM918 340h4v4h-4zM918 344h4v4h-4zM918 348h4v4h-4zM982 348h20v4h-20zM918 352h8v4h-8zM974 352h36v4h-36zM1162 352h28v4h-28zM922 356h4v4h-4zM962 356h16v4h-16zM1006 356h8v4h-8zM1150 356h12v4h-12zM1190 356h60v4h-60zM926 360h8v4h-8zM950 360h20v4h-20zM1014 360h8v4h-8zM1142 360h8v4h-8zM934 364h20v4h-20zM1022 364h40v4h-40zM1138 364h8v4h-8zM1066 368h12v4h-12zM1130 368h8v4h-8zM1078 372h8v4h-8zM1122 372h8v4h-8zM1090 376h32v4h-32zM1206 696h44v4h-44zM1198 700h8v4h-8zM1190 704h8v4h-8zM1190 708h4v4h-4zM1186 712h8v4h-8zM1186 716h8v4h-8zM1186 720h8v4h-8zM1190 724h16v4h-16zM1206 728h44v4h-44z"/>
<path fill="#fff900" d="M834 104h28v28h-28zM834 132h28v4h-28zM834 136h28v4h-28zM838 140h24v4h-24zM838 144h24v4h-24zM842 148h24v4h-24zM842 152h24v4h-24zM842 156h28v4h-28zM846 160h32v4h-32zM846 164h40v4h-40zM850 168h44v4h-44zM858 172h12v4h-12zM882 172h12v4h-12zM890 176h8v4h-8zM890 180h8v4h-8zM894 184h4v4h-4zM894 188h8v4h-8zM894 192h8v4h-8zM894 196h4v4h-4zM894 200h4v4h-4zM890 204h8v4h-8zM890 208h8v4h-8zM890 212h8v4h-8zM890 216h8v4h-8zM894 220h4v4h-4zM894 224h4v4h-4zM894 228h8v4h-8zM898 232h4v4h-4zM898 236h8v4h-8zM898 240h8v4h-8zM898 244h8v4h-8zM898 248h8v4h-8zM898 252h8v4h-8zM898 256h8v4h-8zM898 260h8v4h-8zM898 264h4v4h-4zM894 268h8v4h-8zM890 272h8v4h-8zM890 276h8v4h-8zM890 280h8v4h-8zM890 284h8v4h-8zM894 288h8v4h-8zM894 292h8v4h-8zM898 296h8v4h-8zM902 300h8v4h-8zM906 304h4v4h-4zM910 308h4v4h-4zM910 312h8v4h-8zM914 316h4v4h-4zM914 320h8v4h-8zM914 324h8v4h-8zM914 328h8v4h-8zM914 332h8v4h-8zM914 336h4v4h-4zM914 340h4v4h-4zM914 344h4v4h-4zM914 348h4v4h-4zM914 352h4v4h-4zM914 356h8v4h-8zM978 356h28v4h-28zM1162 356h28v4h-28zM918 360h8v4h-8zM970 360h16v4h-16zM1002 360h12v4h-12zM1150 360h16v4h-16zM1190 360h60v4h-60zM922 364h12v4h-12zM954 364h20v4h-20zM1010 364h12v4h-12zM1146 364h8v4h-8zM1218 364h32v4h-32zM934 368h16v4h-16zM1026 368h40v4h-40zM1138 368h8v4h-8zM1074 372h4v4h-4zM1130 372h12v4h-12zM1086 376h4v4h-4zM1122 376h12v4h-12zM1098 380h20v4h-20zM1214 692h36v4h-36zM1198 696h8v4h-8zM1190 700h8v4h-8zM1186 704h4v4h-4zM1182 708h8v4h-8zM1182 712h4v4h-4zM1178 716h8v4h-8zM1178 720h8v4h-8zM1182 724h8v4h-8zM1186 728h20v4h-20z"/>
<path fill="#fff400" d="M794 104h40v28h-40zM794 132h40v4h-40zM798 136h36v4h-36zM798 140h40v4h-40zM798 144h40v4h-40zM802 148h40v4h-40zM802 152h40v4h-40zM806 156h36v4h-36zM810 160h36v4h-36zM814 164h32v4h-32zM818 168h32v4h-32zM822 172h36v4h-36zM870 172h12v4h-12zM830 176h60v4h-60zM834 180h56v4h-56zM838 184h56v4h-56zM846 188h48v4h-48zM862 192h4v4h-4zM882 192h12v4h-12zM882 196h12v4h-12zM882 200h12v4h-12zM882 204h8v4h-8zM882 208h8v4h-8zM882 212h8v4h-8zM882 216h8v4h-8zM882 220h12v4h-12zM886 224h8v4h-8zM886 228h8v4h-8zM886 232h12v4h-12zM890 236h8v4h-8zM890 240h8v4h-8zM890 244h8v4h-8zM890 248h8v4h-8zM890 252h8v4h-8zM890 256h8v4h-8zM886 260h12v4h-12zM886 264h12v4h-12zM882 268h12v4h-12zM878 272h12v4h-12zM874 276h16v4h-16zM874 280h16v4h-16zM874 284h16v4h-16zM878 288h16v4h-16zM882 292h12v4h-12zM886 296h12v4h-12zM894 300h8v4h-8zM898 304h8v4h-8zM902 308h8v4h-8zM906 312h4v4h-4zM910 316h4v4h-4zM910 320h4v4h-4zM910 324h4v4h-4zM910 328h4v4h-4zM910 332h4v4h-4zM910 336h4v4h-4zM910 340h4v4h-4zM910 344h4v4h-4zM786 348h8v4h-8zM910 348h4v4h-4zM910 352h4v4h-4zM910 356h4v4h-4zM914 360h4v4h-4zM986 360h16v4h-16zM1166 360h24v4h-24zM918 364h4v4h-4zM974 364h36v4h-36zM1154 364h64v4h-64zM922 368h12v4h-12zM950 368h28v4h-28zM1010 368h16v4h-16zM1146 368h12v4h-12zM1198 368h52v4h-52zM1058 372h16v4h-16zM1142 372h8v4h-8zM1078 376h8v4h-8zM1134 376h12v4h-12zM1090 380h8v4h-8zM1118 380h16v4h-16zM1202 692h12v4h-12zM1190 696h8v4h-8zM1186 700h4v4h-4zM1182 704h4v4h-4zM1178 708h4v4h-4zM1174 712h8v4h-8zM1174 716h4v4h-4zM1174 720h4v4h-4zM1174 724h8v4h-8zM1174 728h12v4h-12zM1182 732h68v4h-68z"/>
<path fill="#ffee00" d="M778 104h16v28h-16zM778 132h16v4h-16zM778 136h20v4h-20zM778 140h20v4h-20zM782 144h16v4h-16zM782 148h20v4h-20zM782 152h20v4h-20zM786 156h20v4h-20zM786 160h24v4h-24zM790 164h24v4h-24zM790 168h28v4h-28zM794 172h28v4h-28zM794 176h36v4h-36zM798 180h36v4h-36zM802 184h36v4h-36zM810 188h36v4h-36zM822 192h40v4h-40zM866 192h16v4h-16zM834 196h48v4h-48zM842 200h40v4h-40zM854 204h28v4h-28zM858 208h24v4h-24zM862 212h20v4h-20zM866 216h16v4h-16zM866 220h16v4h-16zM870 224h16v4h-16zM870 228h16v4h-16zM870 232h16v4h-16zM870 236h20v4h-20zM870 240h20v4h-20zM870 244h20v4h-20zM866 248h24v4h-24zM866 252h24v4h-24zM862 256h28v4h-28zM858 260h28v4h-28zM854 264h32v4h-32zM846 268h36v4h-36zM826 272h52v4h-52zM814 276h60v4h-60zM810 280h64v4h-64zM810 284h64v4h-64zM810 288h68v4h-68zM810 292h72v4h-72zM814 296h72v4h-72zM830 300h64v4h-64zM846 304h28v4h-28zM886 304h12v4h-12zM854 308h8v4h-8zM894 308h8v4h-8zM898 312h8v4h-8zM902 316h8v4h-8zM906 320h4v4h-4zM906 324h4v4h-4zM906 328h4v4h-4zM906 332h4v4h-4zM906 336h4v4h-4zM782 340h20v4h-20zM906 340h4v4h-4zM778 344h24v4h-24zM906 344h4v4h-4zM778 348h8v4h-8zM794 348h8v4h-8zM906 348h4v4h-4zM778 352h24v4h-24zM906 352h4v4h-4zM782 356h16v4h-16zM906 356h4v4h-4zM910 360h4v4h-4zM914 364h4v4h-4zM918 368h4v4h-4zM978 368h32v4h-32zM1158 368h40v4h-40zM926 372h64v4h-64zM998 372h60v4h-60zM1150 372h24v4h-24zM1182 372h68v4h-68zM1070 376h8v4h-8zM1146 376h16v4h-16zM1194 376h56v4h-56zM1082 380h8v4h-8zM1134 380h16v4h-16zM1094 384h44v4h-44zM1206 688h44v4h-44zM1194 692h8v4h-8zM1186 696h4v4h-4zM1178 700h8v4h-8zM1174 704h8v4h-8zM1170 708h8v4h-8zM1170 712h4v4h-4zM1166 716h8v4h-8zM1166 720h8v4h-8zM1166 724h8v4h-8zM1166 728h8v4h-8zM1166 732h16v4h-16zM1170 736h80v4h-80zM1138 752h12v4h-12zM1130 756h24v4h-24zM1126 760h28v4h-28zM1126 764h32v4h-32zM1126 768h32v4h-32zM1126 772h28v4h-28zM1126 776h28v4h-28zM1126 780h28v4h-28zM1126 784h28v4h-28zM1126 788h24v4h-24zM1126 792h20v4h-20zM1130 796h12v4h-12zM1130 800h8v4h-8z"/>
<path fill="#ffe800" d="M766 104h12v28h-12zM766 132h12v4h-12zM766 136h12v4h-12zM766 140h12v4h-12zM770 144h12v4h-12zM770 148h12v4h-12zM770 152h12v4h-12zM774 156h12v4h-12zM774 160h12v4h-12zM778 164h12v4h-12zM778 168h12v4h-12zM778 172h16v4h-16zM782 176h12v4h-12zM782 180h16v4h-16zM782 184h20v4h-20zM786 188h24v4h-24zM786 192h36v4h-36zM786 196h48v4h-48zM790 200h52v4h-52zM790 204h64v4h-64zM794 208h64v4h-64zM834 212h28v4h-28zM842 216h24v4h-24zM846 220h20v4h-20zM850 224h20v4h-20zM850 228h20v4h-20zM850 232h20v4h-20zM850 236h20v4h-20zM850 240h20v4h-20zM850 244h20v4h-20zM846 248h20v4h-20zM846 252h20v4h-20zM842 256h20v4h-20zM838 260h20v4h-20zM826 264h28v4h-28zM810 268h36v4h-36zM802 272h24v4h-24zM798 276h16v4h-16zM798 280h12v4h-12zM794 284h16v4h-16zM794 288h16v4h-16zM794 292h16v4h-16zM798 296h16v4h-16zM802 300h28v4h-28zM810 304h36v4h-36zM874 304h12v4h-12zM830 308h24v4h-24zM862 308h32v4h-32zM838 312h60v4h-60zM842 316h36v4h-36zM894 316h8v4h-8zM842 320h32v4h-32zM898 320h8v4h-8zM846 324h28v4h-28zM898 324h8v4h-8zM786 328h8v4h-8zM846 328h28v4h-28zM898 328h8v4h-8zM782 332h20v4h-20zM846 332h28v4h-28zM902 332h4v4h-4zM778 336h28v4h-28zM846 336h28v4h-28zM898 336h8v4h-8zM774 340h8v4h-8zM802 340h4v4h-4zM842 340h32v4h-32zM898 340h8v4h-8zM774 344h4v4h-4zM802 344h8v4h-8zM846 344h28v4h-28zM898 344h8v4h-8zM774 348h4v4h-4zM802 348h8v4h-8zM846 348h28v4h-28zM898 348h8v4h-8zM774 352h4v4h-4zM802 352h4v4h-4zM850 352h20v4h-20zM902 352h4v4h-4zM774 356h8v4h-8zM798 356h8v4h-8zM902 356h4v4h-4zM778 360h24v4h-24zM906 360h4v4h-4zM786 364h8v4h-8zM910 364h4v4h-4zM910 368h8v4h-8zM918 372h8v4h-8zM990 372h8v4h-8zM1174 372h8v4h-8zM930 376h140v4h-140zM1162 376h32v4h-32zM1074 380h8v4h-8zM1150 380h100v4h-100zM1086 384h8v4h-8zM1138 384h24v4h-24zM1198 384h52v4h-52zM1102 388h44v4h-44zM1218 684h32v4h-32zM1198 688h8v4h-8zM1186 692h8v4h-8zM1178 696h8v4h-8zM1174 700h4v4h-4zM1170 704h4v4h-4zM1166 708h4v4h-4zM1162 712h8v4h-8zM1162 716h4v4h-4zM1158 720h8v4h-8zM1158 724h8v4h-8zM1154 728h12v4h-12zM1154 732h12v4h-12zM1150 736h20v4h-20zM1142 740h108v4h-108zM1130 744h72v4h-72zM1122 748h64v4h-64zM1118 752h20v4h-20zM1150 752h28v4h-28zM1114 756h16v4h-16zM1154 756h20v4h-20zM1114 760h12v4h-12zM1154 760h20v4h-20zM1114 764h12v4h-12zM1158 764h12v4h-12zM1114 768h12v4h-12zM1158 768h12v4h-12zM1114 772h12v4h-12zM1154 772h16v4h-16zM1118 776h8v4h-8zM1154 776h16v4h-16zM1118 780h8v4h-8zM1154 780h12v4h-12zM1118 784h8v4h-8zM1154 784h12v4h-12zM1118 788h8v4h-8zM1150 788h12v4h-12zM1114 792h12v4h-12zM1146 792h12v4h-12zM1114 796h16v4h-16zM1142 796h16v4h-16zM1114 800h16v4h-16zM1138 800h16v4h-16zM1110 804h40v4h-40zM1110 808h40v4h-40zM1110 812h36v4h-36zM1106 816h40v4h-40zM1106 820h40v4h-40zM1106 824h36v4h-36zM1106 828h36v4h-36zM1106 832h36v4h-36zM1106 836h36v28h-36z"/>
<path fill="#ffe200" d="M754 104h12v28h-12zM754 132h12v4h-12zM758 136h8v4h-8zM758 140h8v4h-8zM758 144h12v4h-12zM758 148h12v4h-12zM762 152h8v4h-8zM762 156h12v4h-12zM766 160h8v4h-8zM766 164h12v4h-12zM770 168h8v4h-8zM770 172h8v4h-8zM770 176h12v4h-12zM774 180h8v4h-8zM774 184h8v4h-8zM774 188h12v4h-12zM774 192h12v4h-12zM778 196h8v4h-8zM778 200h12v4h-12zM778 204h12v4h-12zM778 208h16v4h-16zM782 212h52v4h-52zM782 216h60v4h-60zM782 220h64v4h-64zM786 224h64v4h-64zM790 228h20v4h-20zM826 228h24v4h-24zM794 232h8v4h-8zM834 232h16v4h-16zM834 236h16v4h-16zM834 240h16v4h-16zM834 244h16v4h-16zM834 248h12v4h-12zM830 252h16v4h-16zM822 256h20v4h-20zM798 260h40v4h-40zM794 264h32v4h-32zM790 268h20v4h-20zM786 272h16v4h-16zM786 276h12v4h-12zM782 280h16v4h-16zM782 284h12v4h-12zM782 288h12v4h-12zM782 292h12v4h-12zM782 296h16v4h-16zM782 300h20v4h-20zM782 304h28v4h-28zM786 308h44v4h-44zM782 312h56v4h-56zM782 316h28v4h-28zM822 316h20v4h-20zM878 316h16v4h-16zM778 320h32v4h-32zM830 320h12v4h-12zM874 320h24v4h-24zM778 324h28v4h-28zM834 324h12v4h-12zM874 324h24v4h-24zM774 328h12v4h-12zM794 328h16v4h-16zM834 328h12v4h-12zM874 328h24v4h-24zM770 332h12v4h-12zM802 332h8v4h-8zM838 332h8v4h-8zM874 332h28v4h-28zM770 336h8v4h-8zM806 336h8v4h-8zM838 336h8v4h-8zM874 336h24v4h-24zM770 340h4v4h-4zM806 340h8v4h-8zM834 340h8v4h-8zM874 340h24v4h-24zM770 344h4v4h-4zM810 344h4v4h-4zM838 344h8v4h-8zM874 344h24v4h-24zM770 348h4v4h-4zM810 348h4v4h-4zM838 348h8v4h-8zM874 348h24v4h-24zM770 352h4v4h-4zM806 352h8v4h-8zM842 352h8v4h-8zM870 352h8v4h-8zM894 352h8v4h-8zM770 356h4v4h-4zM806 356h4v4h-4zM846 356h28v4h-28zM894 356h8v4h-8zM770 360h8v4h-8zM802 360h4v4h-4zM858 360h8v4h-8zM898 360h8v4h-8zM774 364h12v4h-12zM794 364h8v4h-8zM902 364h8v4h-8zM906 368h4v4h-4zM914 372h4v4h-4zM922 376h8v4h-8zM942 380h84v4h-84zM1062 380h12v4h-12zM1082 384h4v4h-4zM1162 384h36v4h-36zM1094 388h8v4h-8zM1146 388h104v4h-104zM1110 392h44v4h-44zM1202 684h16v4h-16zM1190 688h8v4h-8zM1182 692h4v4h-4zM1174 696h4v4h-4zM1166 700h8v4h-8zM1162 704h8v4h-8zM1158 708h8v4h-8zM1158 712h4v4h-4zM1154 716h8v4h-8zM1154 720h4v4h-4zM1150 724h8v4h-8zM1146 728h8v4h-8zM1142 732h12v4h-12zM1134 736h16v4h-16zM1122 740h20v4h-20zM1114 744h16v4h-16zM1202 744h48v4h-48zM1106 748h16v4h-16zM1186 748h64v4h-64zM1102 752h16v4h-16zM1178 752h20v4h-20zM1102 756h12v4h-12zM1174 756h16v4h-16zM1102 760h12v4h-12zM1174 760h16v4h-16zM1102 764h12v4h-12zM1170 764h16v4h-16zM1106 768h8v4h-8zM1170 768h16v4h-16zM1106 772h8v4h-8zM1170 772h12v4h-12zM1106 776h12v4h-12zM1170 776h12v4h-12zM1106 780h12v4h-12zM1166 780h16v4h-16zM1106 784h12v4h-12zM1166 784h12v4h-12zM1106 788h12v4h-12zM1162 788h12v4h-12zM1106 792h8v4h-8zM1158 792h12v4h-12zM1106 796h8v4h-8zM1158 796h12v4h-12zM1102 800h12v4h-12zM1154 800h12v4h-12zM1102 804h8v4h-8zM1150 804h12v4h-12zM1102 808h8v4h-8zM1150 808h8v4h-8zM1098 812h12v4h-12zM1146 812h12v4h-12zM1098 816h8v4h-8zM1146 816h8v4h-8zM1098 820h8v4h-8zM1146 820h8v4h-8zM1098 824h8v4h-8zM1142 824h12v4h-12zM1098 828h8v4h-8zM1142 828h12v4h-12zM1098 832h8v4h-8zM1142 832h12v4h-12zM1098 836h8v28h-8zM1142 836h12v28h-12z"/>
<path fill="#ffdd00" d="M746 104h8v28h-8zM746 132h8v4h-8zM746 136h12v4h-12zM750 140h8v4h-8zM750 144h8v4h-8zM750 148h8v4h-8zM754 152h8v4h-8zM754 156h8v4h-8zM758 160h8v4h-8zM758 164h8v4h-8zM762 168h8v4h-8zM762 172h8v4h-8zM762 176h8v4h-8zM766 180h8v4h-8zM766 184h8v4h-8zM766 188h8v4h-8zM766 192h8v4h-8zM770 196h8v4h-8zM770 200h8v4h-8zM770 204h8v4h-8zM770 208h8v4h-8zM770 212h12v4h-12zM774 216h8v4h-8zM774 220h8v4h-8zM774 224h12v4h-12zM774 228h16v4h-16zM810 228h16v4h-16zM778 232h16v4h-16zM802 232h32v4h-32zM778 236h56v4h-56zM778 240h56v4h-56zM778 244h56v4h-56zM778 248h56v4h-56zM778 252h52v4h-52zM778 256h44v4h-44zM778 260h20v4h-20zM778 264h16v4h-16zM774 268h16v4h-16zM774 272h12v4h-12zM774 276h12v4h-12zM770 280h12v4h-12zM770 284h12v4h-12zM770 288h12v4h-12zM770 292h12v4h-12zM770 296h12v4h-12zM770 300h12v4h-12zM770 304h12v4h-12zM770 308h16v4h-16zM770 312h12v4h-12zM770 316h12v4h-12zM810 316h12v4h-12zM770 320h8v4h-8zM810 320h20v4h-20zM766 324h12v4h-12zM806 324h28v4h-28zM766 328h8v4h-8zM810 328h24v4h-24zM766 332h4v4h-4zM810 332h28v4h-28zM766 336h4v4h-4zM814 336h24v4h-24zM766 340h4v4h-4zM814 340h20v4h-20zM766 344h4v4h-4zM814 344h24v4h-24zM766 348h4v4h-4zM814 348h24v4h-24zM766 352h4v4h-4zM814 352h28v4h-28zM878 352h16v4h-16zM766 356h4v4h-4zM810 356h8v4h-8zM834 356h12v4h-12zM874 356h20v4h-20zM766 360h4v4h-4zM806 360h8v4h-8zM842 360h16v4h-16zM866 360h16v4h-16zM890 360h8v4h-8zM770 364h4v4h-4zM802 364h8v4h-8zM854 364h16v4h-16zM898 364h4v4h-4zM774 368h28v4h-28zM902 368h4v4h-4zM906 372h8v4h-8zM914 376h8v4h-8zM922 380h20v4h-20zM1026 380h36v4h-36zM962 384h56v4h-56zM1070 384h12v4h-12zM982 388h24v4h-24zM1086 388h8v4h-8zM1098 392h12v4h-12zM1154 392h96v4h-96zM1118 396h44v4h-44zM1214 680h36v4h-36zM1194 684h8v4h-8zM1182 688h8v4h-8zM1174 692h8v4h-8zM1166 696h8v4h-8zM1162 700h4v4h-4zM1158 704h4v4h-4zM1154 708h4v4h-4zM1150 712h8v4h-8zM1150 716h4v4h-4zM1146 720h8v4h-8zM1142 724h8v4h-8zM1138 728h8v4h-8zM1130 732h12v4h-12zM1118 736h16v4h-16zM1106 740h16v4h-16zM1098 744h16v4h-16zM1090 748h16v4h-16zM1090 752h12v4h-12zM1198 752h52v4h-52zM1090 756h12v4h-12zM1190 756h32v4h-32zM1090 760h12v4h-12zM1190 760h16v4h-16zM1090 764h12v4h-12zM1186 764h16v4h-16zM1094 768h12v4h-12zM1186 768h16v4h-16zM1094 772h12v4h-12zM1182 772h20v4h-20zM1098 776h8v4h-8zM1182 776h16v4h-16zM1098 780h8v4h-8zM1182 780h16v4h-16zM1098 784h8v4h-8zM1178 784h16v4h-16zM1098 788h8v4h-8zM1174 788h16v4h-16zM1098 792h8v4h-8zM1170 792h16v4h-16zM1098 796h8v4h-8zM1170 796h12v4h-12zM1094 800h8v4h-8zM1166 800h12v4h-12zM1094 804h8v4h-8zM1162 804h12v4h-12zM1094 808h8v4h-8zM1158 808h12v4h-12zM1094 812h4v4h-4zM1158 812h12v4h-12zM1094 816h4v4h-4zM1154 816h12v4h-12zM1090 820h8v4h-8zM1154 820h12v4h-12zM1090 824h8v4h-8zM1154 824h8v4h-8zM1090 828h8v4h-8zM1154 828h8v4h-8zM1090 832h8v4h-8zM1154 832h8v4h-8zM1090 836h8v28h-8zM1154 836h8v28h-8z"/>
<path fill="#ffd700" d="M738 104h8v28h-8zM738 132h8v4h-8zM738 136h8v4h-8zM738 140h12v4h-12zM742 144h8v4h-8zM742 148h8v4h-8zM746 152h8v4h-8zM746 156h8v4h-8zM750 160h8v4h-8zM750 164h8v4h-8zM754 168h8v4h-8zM754 172h8v4h-8zM758 176h4v4h-4zM758 180h8v4h-8zM758 184h8v4h-8zM758 188h8v4h-8zM762 192h4v4h-4zM762 196h8v4h-8zM762 200h8v4h-8zM762 204h8v4h-8zM762 208h8v4h-8zM766 212h4v4h-4zM766 216h8v4h-8zM766 220h8v4h-8zM766 224h8v4h-8zM766 228h8v4h-8zM766 232h12v4h-12zM770 236h8v4h-8zM770 240h8v4h-8zM770 244h8v4h-8zM770 248h8v4h-8zM770 252h8v4h-8zM766 256h12v4h-12zM766 260h12v4h-12zM766 264h12v4h-12zM766 268h8v4h-8zM762 272h12v4h-12zM762 276h12v4h-12zM758 280h12v4h-12zM758 284h12v4h-12zM758 288h12v4h-12zM758 292h12v4h-12zM758 296h12v4h-12zM758 300h12v4h-12zM758 304h12v4h-12zM758 308h12v4h-12zM758 312h12v4h-12zM758 316h12v4h-12zM758 320h12v4h-12zM758 324h8v4h-8zM758 328h8v4h-8zM758 332h8v4h-8zM758 336h8v4h-8zM758 340h8v4h-8zM758 344h8v4h-8zM758 348h8v4h-8zM762 352h4v4h-4zM762 356h4v4h-4zM818 356h16v4h-16zM762 360h4v4h-4zM814 360h28v4h-28zM882 360h8v4h-8zM766 364h4v4h-4zM810 364h8v4h-8zM838 364h16v4h-16zM870 364h28v4h-28zM766 368h8v4h-8zM802 368h8v4h-8zM854 368h16v4h-16zM894 368h8v4h-8zM774 372h24v4h-24zM902 372h4v4h-4zM906 376h8v4h-8zM914 380h8v4h-8zM926 384h36v4h-36zM1018 384h52v4h-52zM962 388h20v4h-20zM1006 388h12v4h-12zM1078 388h8v4h-8zM982 392h24v4h-24zM1090 392h8v4h-8zM1102 396h16v4h-16zM1162 396h88v4h-88zM1118 400h52v4h-52zM1222 676h28v4h-28zM1198 680h16v4h-16zM1182 684h12v4h-12zM1174 688h8v4h-8zM1166 692h8v4h-8zM1158 696h8v4h-8zM1154 700h8v4h-8zM1150 704h8v4h-8zM1150 708h4v4h-4zM1146 712h4v4h-4zM1142 716h8v4h-8zM1138 720h8v4h-8zM1134 724h8v4h-8zM1126 728h12v4h-12zM1114 732h16v4h-16zM1102 736h16v4h-16zM1086 740h20v4h-20zM1078 744h20v4h-20zM1074 748h16v4h-16zM1074 752h16v4h-16zM1078 756h12v4h-12zM1222 756h28v4h-28zM1078 760h12v4h-12zM1206 760h44v4h-44zM1082 764h8v4h-8zM1202 764h48v4h-48zM1086 768h8v4h-8zM1202 768h48v4h-48zM1086 772h8v4h-8zM1202 772h48v4h-48zM1090 776h8v4h-8zM1198 776h52v4h-52zM1090 780h8v4h-8zM1198 780h52v4h-52zM1090 784h8v4h-8zM1194 784h56v4h-56zM1090 788h8v4h-8zM1190 788h60v4h-60zM1090 792h8v4h-8zM1186 792h36v4h-36zM1090 796h8v4h-8zM1182 796h28v4h-28zM1090 800h4v4h-4zM1178 800h28v4h-28zM1090 804h4v4h-4zM1174 804h24v4h-24zM1090 808h4v4h-4zM1170 808h24v4h-24zM1086 812h8v4h-8zM1170 812h16v4h-16zM1086 816h8v4h-8zM1166 816h16v4h-16zM1086 820h4v4h-4zM1166 820h12v4h-12zM1086 824h4v4h-4zM1162 824h16v4h-16zM1086 828h4v4h-4zM1162 828h12v4h-12zM1086 832h4v4h-4zM1162 832h12v4h-12zM1086 836h4v28h-4zM1162 836h12v28h-12z"/>
<path fill="#ffd100" d="M730 104h8v28h-8zM730 132h8v4h-8zM730 136h8v4h-8zM734 140h4v4h-4zM734 144h8v4h-8zM734 148h8v4h-8zM738 152h8v4h-8zM738 156h8v4h-8zM742 160h8v4h-8zM742 164h8v4h-8zM670 168h16v4h-16zM746 168h8v4h-8zM666 172h24v4h-24zM746 172h8v4h-8zM666 176h24v4h-24zM750 176h8v4h-8zM666 180h24v4h-24zM750 180h8v4h-8zM666 184h24v4h-24zM750 184h8v4h-8zM674 188h12v4h-12zM754 188h4v4h-4zM754 192h8v4h-8zM754 196h8v4h-8zM754 200h8v4h-8zM754 204h8v4h-8zM758 208h4v4h-4zM758 212h8v4h-8zM758 216h8v4h-8zM758 220h8v4h-8zM758 224h8v4h-8zM758 228h8v4h-8zM758 232h8v4h-8zM758 236h12v4h-12zM758 240h12v4h-12zM758 244h12v4h-12zM758 248h12v4h-12zM758 252h12v4h-12zM758 256h8v4h-8zM758 260h8v4h-8zM754 264h12v4h-12zM754 268h12v4h-12zM754 272h8v4h-8zM750 276h12v4h-12zM750 280h8v4h-8zM750 284h8v4h-8zM750 288h8v4h-8zM746 292h12v4h-12zM746 296h12v4h-12zM746 300h12v4h-12zM746 304h12v4h-12zM746 308h12v4h-12zM746 312h12v4h-12zM746 316h12v4h-12zM750 320h8v4h-8zM750 324h8v4h-8zM750 328h8v4h-8zM750 332h8v4h-8zM750 336h8v4h-8zM754 340h4v4h-4zM754 344h4v4h-4zM754 348h4v4h-4zM754 352h8v4h-8zM758 356h4v4h-4zM758 360h4v4h-4zM758 364h8v4h-8zM818 364h20v4h-20zM762 368h4v4h-4zM810 368h8v4h-8zM838 368h16v4h-16zM870 368h24v4h-24zM766 372h8v4h-8zM798 372h8v4h-8zM890 372h12v4h-12zM782 376h4v4h-4zM898 376h8v4h-8zM906 380h8v4h-8zM914 384h12v4h-12zM930 388h32v4h-32zM1018 388h12v4h-12zM1066 388h12v4h-12zM966 392h16v4h-16zM1006 392h12v4h-12zM1082 392h8v4h-8zM978 396h28v4h-28zM1094 396h8v4h-8zM1106 400h12v4h-12zM1170 400h80v4h-80zM1122 404h52v4h-52zM1138 408h12v4h-12zM306 464h8v4h-8zM1222 672h28v4h-28zM1210 676h12v4h-12zM1182 680h16v4h-16zM1174 684h8v4h-8zM1166 688h8v4h-8zM1158 692h8v4h-8zM1150 696h8v4h-8zM1150 700h4v4h-4zM1146 704h4v4h-4zM1142 708h8v4h-8zM1138 712h8v4h-8zM1138 716h4v4h-4zM1130 720h8v4h-8zM1126 724h8v4h-8zM1114 728h12v4h-12zM1090 732h24v4h-24zM1066 736h36v4h-36zM1062 740h24v4h-24zM1062 744h16v4h-16zM1058 748h16v4h-16zM1058 752h16v4h-16zM1062 756h16v4h-16zM1062 760h16v4h-16zM1070 764h12v4h-12zM1074 768h12v4h-12zM1078 772h8v4h-8zM1082 776h8v4h-8zM1082 780h8v4h-8zM1086 784h4v4h-4zM1086 788h4v4h-4zM1086 792h4v4h-4zM1222 792h28v4h-28zM1086 796h4v4h-4zM1210 796h40v4h-40zM1086 800h4v4h-4zM1206 800h44v4h-44zM1086 804h4v4h-4zM1198 804h52v4h-52zM1086 808h4v4h-4zM1194 808h56v4h-56zM1082 812h4v4h-4zM1186 812h64v4h-64zM1082 816h4v4h-4zM1182 816h68v4h-68zM1082 820h4v4h-4zM1178 820h72v4h-72zM1082 824h4v4h-4zM1178 824h72v4h-72zM1082 828h4v4h-4zM1174 828h76v4h-76zM1082 832h4v4h-4zM1174 832h76v4h-76zM1082 836h4v28h-4zM1174 836h76v28h-76z"/>
<path fill="#ffcb00" d="M722 104h8v28h-8zM722 132h8v4h-8zM722 136h8v4h-8zM722 140h12v4h-12zM726 144h8v4h-8zM726 148h8v4h-8zM730 152h8v4h-8zM730 156h8v4h-8zM666 160h24v4h-24zM734 160h8v4h-8zM658 164h36v4h-36zM738 164h4v4h-4zM654 168h16v4h-16zM686 168h12v4h-12zM738 168h8v4h-8zM654 172h12v4h-12zM690 172h8v4h-8zM742 172h4v4h-4zM654 176h12v4h-12zM690 176h8v4h-8zM742 176h8v4h-8zM654 180h12v4h-12zM690 180h8v4h-8zM742 180h8v4h-8zM658 184h8v4h-8zM690 184h8v4h-8zM746 184h4v4h-4zM662 188h12v4h-12zM686 188h8v4h-8zM746 188h8v4h-8zM666 192h24v4h-24zM746 192h8v4h-8zM674 196h12v4h-12zM746 196h8v4h-8zM750 200h4v4h-4zM750 204h4v4h-4zM750 208h8v4h-8zM750 212h8v4h-8zM750 216h8v4h-8zM750 220h8v4h-8zM750 224h8v4h-8zM750 228h8v4h-8zM750 232h8v4h-8zM750 236h8v4h-8zM750 240h8v4h-8zM750 244h8v4h-8zM750 248h8v4h-8zM746 252h12v4h-12zM746 256h12v4h-12zM746 260h12v4h-12zM746 264h8v4h-8zM742 268h12v4h-12zM742 272h12v4h-12zM742 276h8v4h-8zM742 280h8v4h-8zM738 284h12v4h-12zM738 288h12v4h-12zM738 292h8v4h-8zM738 296h8v4h-8zM738 300h8v4h-8zM738 304h8v4h-8zM738 308h8v4h-8zM738 312h8v4h-8zM738 316h8v4h-8zM738 320h12v4h-12zM738 324h12v4h-12zM738 328h12v4h-12zM742 332h8v4h-8zM742 336h8v4h-8zM746 340h8v4h-8zM746 344h8v4h-8zM750 348h4v4h-4zM750 352h4v4h-4zM750 356h8v4h-8zM750 360h8v4h-8zM754 364h4v4h-4zM754 368h8v4h-8zM818 368h20v4h-20zM758 372h8v4h-8zM806 372h12v4h-12zM838 372h52v4h-52zM762 376h20v4h-20zM786 376h20v4h-20zM886 376h12v4h-12zM898 380h8v4h-8zM906 384h8v4h-8zM914 388h16v4h-16zM1030 388h36v4h-36zM930 392h36v4h-36zM1018 392h8v4h-8zM1074 392h8v4h-8zM962 396h16v4h-16zM1006 396h8v4h-8zM1086 396h8v4h-8zM978 400h28v4h-28zM1098 400h8v4h-8zM986 404h12v4h-12zM1110 404h12v4h-12zM1174 404h32v4h-32zM1122 408h16v4h-16zM1150 408h24v4h-24zM1138 412h16v4h-16zM1222 668h28v4h-28zM1214 672h8v4h-8zM1182 676h28v4h-28zM1046 680h24v4h-24zM1170 680h12v4h-12zM1042 684h32v4h-32zM1162 684h12v4h-12zM1042 688h32v4h-32zM1154 688h12v4h-12zM1046 692h28v4h-28zM1146 692h12v4h-12zM1050 696h16v4h-16zM1146 696h4v4h-4zM1142 700h8v4h-8zM1138 704h8v4h-8zM1134 708h8v4h-8zM1134 712h4v4h-4zM1130 716h8v4h-8zM1122 720h8v4h-8zM1066 724h8v4h-8zM1114 724h12v4h-12zM1054 728h60v4h-60zM1050 732h40v4h-40zM1046 736h20v4h-20zM1046 740h16v4h-16zM1042 744h20v4h-20zM1042 748h16v4h-16zM1042 752h16v4h-16zM1042 756h20v4h-20zM1042 760h20v4h-20zM1046 764h24v4h-24zM1050 768h24v4h-24zM1054 772h24v4h-24zM1074 776h8v4h-8zM1078 780h4v4h-4zM1082 784h4v4h-4zM1082 788h4v4h-4zM1082 792h4v4h-4zM1082 796h4v4h-4zM1022 800h8v4h-8zM1082 800h4v4h-4zM1014 804h28v4h-28zM1082 804h4v4h-4zM1014 808h28v4h-28zM1082 808h4v4h-4zM1010 812h36v4h-36zM1078 812h4v4h-4zM1010 816h36v4h-36zM1078 816h4v4h-4zM1010 820h36v4h-36zM1078 820h4v4h-4zM1010 824h36v4h-36zM1078 824h4v4h-4zM1010 828h36v4h-36zM1074 828h8v4h-8zM1010 832h36v4h-36zM1074 832h8v4h-8zM1010 836h36v28h-36zM1074 836h8v28h-8z"/>
<path fill="#ffc600" d="M710 104h12v28h-12zM710 132h12v4h-12zM710 136h12v4h-12zM710 140h12v4h-12zM710 144h16v4h-16zM714 148h12v4h-12zM654 152h44v4h-44zM714 152h16v4h-16zM650 156h52v4h-52zM722 156h8v4h-8zM646 160h20v4h-20zM690 160h12v4h-12zM726 160h8v4h-8zM642 164h16v4h-16zM694 164h12v4h-12zM730 164h8v4h-8zM642 168h12v4h-12zM698 168h8v4h-8zM734 168h4v4h-4zM642 172h12v4h-12zM698 172h8v4h-8zM734 172h8v4h-8zM642 176h12v4h-12zM698 176h4v4h-4zM738 176h4v4h-4zM642 180h12v4h-12zM698 180h4v4h-4zM738 180h4v4h-4zM646 184h12v4h-12zM698 184h4v4h-4zM738 184h8v4h-8zM650 188h12v4h-12zM694 188h8v4h-8zM738 188h8v4h-8zM654 192h12v4h-12zM690 192h8v4h-8zM742 192h4v4h-4zM658 196h16v4h-16zM686 196h12v4h-12zM742 196h4v4h-4zM666 200h24v4h-24zM742 200h8v4h-8zM742 204h8v4h-8zM742 208h8v4h-8zM742 212h8v4h-8zM742 216h8v4h-8zM742 220h8v4h-8zM742 224h8v4h-8zM742 228h8v4h-8zM742 232h8v4h-8zM742 236h8v4h-8zM738 240h12v4h-12zM738 244h12v4h-12zM738 248h12v4h-12zM738 252h8v4h-8zM734 256h12v4h-12zM734 260h12v4h-12zM734 264h12v4h-12zM734 268h8v4h-8zM734 272h8v4h-8zM734 276h8v4h-8zM730 280h12v4h-12zM730 284h8v4h-8zM730 288h8v4h-8zM730 292h8v4h-8zM730 296h8v4h-8zM730 300h8v4h-8zM726 304h12v4h-12zM726 308h12v4h-12zM726 312h12v4h-12zM726 316h12v4h-12zM726 320h12v4h-12zM726 324h12v4h-12zM726 328h12v4h-12zM730 332h12v4h-12zM734 336h8v4h-8zM734 340h12v4h-12zM738 344h8v4h-8zM742 348h8v4h-8zM742 352h8v4h-8zM746 356h4v4h-4zM746 360h4v4h-4zM746 364h8v4h-8zM750 368h4v4h-4zM750 372h8v4h-8zM818 372h20v4h-20zM754 376h8v4h-8zM806 376h8v4h-8zM842 376h44v4h-44zM758 380h40v4h-40zM886 380h12v4h-12zM898 384h8v4h-8zM906 388h8v4h-8zM914 392h16v4h-16zM1026 392h16v4h-16zM1062 392h12v4h-12zM930 396h32v4h-32zM1014 396h8v4h-8zM1078 396h8v4h-8zM962 400h16v4h-16zM1006 400h8v4h-8zM1090 400h8v4h-8zM974 404h12v4h-12zM998 404h8v4h-8zM1102 404h8v4h-8zM1206 404h44v4h-44zM986 408h12v4h-12zM1110 408h12v4h-12zM1174 408h20v4h-20zM1122 412h16v4h-16zM1154 412h20v4h-20zM1134 416h20v4h-20zM306 460h8v4h-8zM302 464h4v4h-4zM306 468h8v4h-8zM1218 664h32v4h-32zM1214 668h8v4h-8zM1050 672h12v4h-12zM1174 672h40v4h-40zM1038 676h40v4h-40zM1166 676h16v4h-16zM1034 680h12v4h-12zM1070 680h12v4h-12zM1154 680h16v4h-16zM1030 684h12v4h-12zM1074 684h8v4h-8zM1146 684h16v4h-16zM1030 688h12v4h-12zM1074 688h8v4h-8zM1142 688h12v4h-12zM1030 692h16v4h-16zM1074 692h8v4h-8zM1138 692h8v4h-8zM1034 696h16v4h-16zM1066 696h12v4h-12zM1138 696h8v4h-8zM1038 700h40v4h-40zM1134 700h8v4h-8zM1042 704h36v4h-36zM1130 704h8v4h-8zM1042 708h36v4h-36zM1130 708h4v4h-4zM1046 712h32v4h-32zM1126 712h8v4h-8zM1046 716h36v4h-36zM1118 716h12v4h-12zM1042 720h44v4h-44zM1110 720h12v4h-12zM1042 724h24v4h-24zM1074 724h40v4h-40zM1038 728h16v4h-16zM1030 732h20v4h-20zM1026 736h20v4h-20zM1022 740h24v4h-24zM1022 744h20v4h-20zM1018 748h24v4h-24zM1014 752h28v4h-28zM1010 756h32v4h-32zM1002 760h40v4h-40zM994 764h52v4h-52zM986 768h64v4h-64zM982 772h72v4h-72zM978 776h96v4h-96zM974 780h92v4h-92zM1070 780h8v4h-8zM974 784h88v4h-88zM1074 784h8v4h-8zM974 788h84v4h-84zM1078 788h4v4h-4zM974 792h84v4h-84zM1078 792h4v4h-4zM974 796h84v4h-84zM1078 796h4v4h-4zM974 800h48v4h-48zM1030 800h28v4h-28zM1078 800h4v4h-4zM974 804h40v4h-40zM1042 804h16v4h-16zM1078 804h4v4h-4zM974 808h40v4h-40zM1042 808h16v4h-16zM1078 808h4v4h-4zM978 812h32v4h-32zM1046 812h12v4h-12zM1074 812h4v4h-4zM978 816h32v4h-32zM1046 816h12v4h-12zM1070 816h8v4h-8zM978 820h32v4h-32zM1046 820h16v4h-16zM1070 820h8v4h-8zM978 824h32v4h-32zM1046 824h32v4h-32zM982 828h28v4h-28zM1046 828h28v4h-28zM982 832h28v4h-28zM1046 832h28v4h-28zM982 836h28v28h-28zM1046 836h28v28h-28z"/>
<path fill="#ffc000" d="M642 104h28v28h-28zM690 104h20v28h-20zM642 132h32v4h-32zM686 132h24v4h-24zM642 136h68v4h-68zM638 140h72v4h-72zM638 144h72v4h-72zM638 148h76v4h-76zM634 152h20v4h-20zM698 152h16v4h-16zM634 156h16v4h-16zM702 156h20v4h-20zM630 160h16v4h-16zM702 160h24v4h-24zM630 164h12v4h-12zM706 164h24v4h-24zM626 168h16v4h-16zM706 168h28v4h-28zM626 172h16v4h-16zM706 172h8v4h-8zM726 172h8v4h-8zM626 176h16v4h-16zM702 176h8v4h-8zM730 176h8v4h-8zM626 180h16v4h-16zM702 180h8v4h-8zM730 180h8v4h-8zM630 184h16v4h-16zM702 184h8v4h-8zM734 184h4v4h-4zM630 188h20v4h-20zM702 188h4v4h-4zM734 188h4v4h-4zM638 192h16v4h-16zM698 192h8v4h-8zM734 192h8v4h-8zM642 196h16v4h-16zM698 196h4v4h-4zM734 196h8v4h-8zM650 200h16v4h-16zM690 200h12v4h-12zM734 200h8v4h-8zM658 204h40v4h-40zM734 204h8v4h-8zM666 208h24v4h-24zM734 208h8v4h-8zM734 212h8v4h-8zM734 216h8v4h-8zM734 220h8v4h-8zM734 224h8v4h-8zM734 228h8v4h-8zM734 232h8v4h-8zM730 236h12v4h-12zM730 240h8v4h-8zM726 244h12v4h-12zM726 248h12v4h-12zM726 252h12v4h-12zM726 256h8v4h-8zM722 260h12v4h-12zM722 264h12v4h-12zM722 268h12v4h-12zM722 272h12v4h-12zM722 276h12v4h-12zM722 280h8v4h-8zM722 284h8v4h-8zM722 288h8v4h-8zM722 292h8v4h-8zM722 296h8v4h-8zM718 300h12v4h-12zM718 304h8v4h-8zM714 308h12v4h-12zM714 312h12v4h-12zM714 316h12v4h-12zM710 320h16v4h-16zM710 324h16v4h-16zM714 328h12v4h-12zM714 332h16v4h-16zM718 336h16v4h-16zM722 340h12v4h-12zM726 344h12v4h-12zM730 348h12v4h-12zM734 352h8v4h-8zM738 356h8v4h-8zM738 360h8v4h-8zM742 364h4v4h-4zM742 368h8v4h-8zM742 372h8v4h-8zM746 376h8v4h-8zM814 376h28v4h-28zM746 380h12v4h-12zM798 380h16v4h-16zM850 380h36v4h-36zM750 384h44v4h-44zM882 384h16v4h-16zM754 388h20v4h-20zM894 388h12v4h-12zM902 392h12v4h-12zM1042 392h20v4h-20zM914 396h16v4h-16zM1022 396h8v4h-8zM1070 396h8v4h-8zM926 400h36v4h-36zM1014 400h8v4h-8zM1082 400h8v4h-8zM958 404h16v4h-16zM1006 404h8v4h-8zM1094 404h8v4h-8zM974 408h12v4h-12zM998 408h8v4h-8zM1106 408h4v4h-4zM1194 408h56v4h-56zM982 412h16v4h-16zM1114 412h8v4h-8zM1174 412h16v4h-16zM1122 416h12v4h-12zM1154 416h20v4h-20zM1134 420h24v4h-24zM314 464h4v4h-4zM1174 648h20v4h-20zM1170 652h80v4h-80zM1166 656h84v4h-84zM1166 660h84v4h-84zM1166 664h52v4h-52zM1046 668h16v4h-16zM1162 668h52v4h-52zM1034 672h16v4h-16zM1062 672h16v4h-16zM1154 672h20v4h-20zM1026 676h12v4h-12zM1078 676h8v4h-8zM1146 676h20v4h-20zM1022 680h12v4h-12zM1082 680h4v4h-4zM1138 680h16v4h-16zM1022 684h8v4h-8zM1082 684h8v4h-8zM1134 684h12v4h-12zM1022 688h8v4h-8zM1082 688h4v4h-4zM1130 688h12v4h-12zM1018 692h12v4h-12zM1082 692h4v4h-4zM1130 692h8v4h-8zM1018 696h16v4h-16zM1078 696h8v4h-8zM1130 696h8v4h-8zM1018 700h20v4h-20zM1078 700h8v4h-8zM1126 700h8v4h-8zM1018 704h24v4h-24zM1078 704h8v4h-8zM1126 704h4v4h-4zM1018 708h24v4h-24zM1078 708h8v4h-8zM1122 708h8v4h-8zM1014 712h32v4h-32zM1078 712h12v4h-12zM1118 712h8v4h-8zM1006 716h40v4h-40zM1082 716h36v4h-36zM998 720h44v4h-44zM1086 720h24v4h-24zM994 724h48v4h-48zM990 728h48v4h-48zM986 732h44v4h-44zM986 736h40v4h-40zM982 740h40v4h-40zM978 744h44v4h-44zM974 748h44v4h-44zM970 752h44v4h-44zM966 756h44v4h-44zM962 760h40v4h-40zM962 764h32v4h-32zM958 768h28v4h-28zM958 772h24v4h-24zM954 776h24v4h-24zM954 780h20v4h-20zM1066 780h4v4h-4zM954 784h20v4h-20zM1062 784h12v4h-12zM954 788h20v4h-20zM1058 788h20v4h-20zM954 792h20v4h-20zM1058 792h8v4h-8zM1074 792h4v4h-4zM954 796h20v4h-20zM1058 796h8v4h-8zM1074 796h4v4h-4zM954 800h20v4h-20zM1058 800h8v4h-8zM1074 800h4v4h-4zM954 804h20v4h-20zM1058 804h20v4h-20zM954 808h20v4h-20zM1058 808h20v4h-20zM954 812h24v4h-24zM1058 812h16v4h-16zM954 816h24v4h-24zM1058 816h12v4h-12zM954 820h24v4h-24zM1062 820h8v4h-8zM954 824h24v4h-24zM954 828h28v4h-28zM758 832h36v4h-36zM954 832h28v4h-28zM154 836h568v28h-568zM754 836h44v28h-44zM954 836h28v28h-28z"/>
<path fill="#ffb900" d="M630 104h12v28h-12zM670 104h20v28h-20zM630 132h12v4h-12zM674 132h12v4h-12zM626 136h16v4h-16zM626 140h12v4h-12zM626 144h12v4h-12zM626 148h12v4h-12zM626 152h8v4h-8zM622 156h12v4h-12zM622 160h8v4h-8zM618 164h12v4h-12zM618 168h8v4h-8zM618 172h8v4h-8zM714 172h12v4h-12zM618 176h8v4h-8zM710 176h20v4h-20zM618 180h8v4h-8zM710 180h20v4h-20zM618 184h12v4h-12zM710 184h24v4h-24zM618 188h12v4h-12zM706 188h28v4h-28zM618 192h20v4h-20zM706 192h8v4h-8zM722 192h12v4h-12zM622 196h20v4h-20zM702 196h8v4h-8zM726 196h8v4h-8zM626 200h24v4h-24zM702 200h8v4h-8zM726 200h8v4h-8zM638 204h20v4h-20zM698 204h8v4h-8zM726 204h8v4h-8zM646 208h20v4h-20zM690 208h12v4h-12zM726 208h8v4h-8zM658 212h44v4h-44zM726 212h8v4h-8zM666 216h32v4h-32zM726 216h8v4h-8zM678 220h8v4h-8zM726 220h8v4h-8zM726 224h8v4h-8zM722 228h12v4h-12zM718 232h16v4h-16zM718 236h12v4h-12zM714 240h16v4h-16zM714 244h12v4h-12zM710 248h16v4h-16zM710 252h16v4h-16zM710 256h16v4h-16zM714 260h8v4h-8zM714 264h8v4h-8zM714 268h8v4h-8zM714 272h8v4h-8zM714 276h8v4h-8zM714 280h8v4h-8zM714 284h8v4h-8zM714 288h8v4h-8zM714 292h8v4h-8zM714 296h8v4h-8zM710 300h8v4h-8zM706 304h12v4h-12zM706 308h8v4h-8zM702 312h12v4h-12zM698 316h16v4h-16zM694 320h16v4h-16zM694 324h16v4h-16zM690 328h24v4h-24zM694 332h20v4h-20zM694 336h24v4h-24zM702 340h20v4h-20zM706 344h20v4h-20zM714 348h16v4h-16zM722 352h12v4h-12zM726 356h12v4h-12zM730 360h8v4h-8zM734 364h8v4h-8zM734 368h8v4h-8zM738 372h4v4h-4zM738 376h8v4h-8zM742 380h4v4h-4zM814 380h36v4h-36zM742 384h8v4h-8zM794 384h16v4h-16zM862 384h20v4h-20zM746 388h8v4h-8zM774 388h20v4h-20zM882 388h12v4h-12zM750 392h28v4h-28zM894 392h8v4h-8zM754 396h16v4h-16zM902 396h12v4h-12zM1030 396h40v4h-40zM910 400h16v4h-16zM1022 400h4v4h-4zM1078 400h4v4h-4zM918 404h40v4h-40zM1014 404h4v4h-4zM1086 404h8v4h-8zM938 408h36v4h-36zM1006 408h8v4h-8zM1098 408h8v4h-8zM970 412h12v4h-12zM998 412h8v4h-8zM1106 412h8v4h-8zM1190 412h20v4h-20zM982 416h16v4h-16zM1114 416h8v4h-8zM1174 416h12v4h-12zM1122 420h12v4h-12zM1158 420h16v4h-16zM1134 424h24v4h-24zM302 460h4v4h-4zM1218 472h32v4h-32zM1214 476h36v4h-36zM1210 480h40v4h-40zM1210 484h40v4h-40zM1210 488h40v4h-40zM1210 492h40v4h-40zM1210 496h40v4h-40zM1214 500h36v4h-36zM1182 640h4v4h-4zM1170 644h44v4h-44zM1162 648h12v4h-12zM1194 648h56v4h-56zM1158 652h12v4h-12zM1158 656h8v4h-8zM1154 660h12v4h-12zM1150 664h16v4h-16zM1030 668h16v4h-16zM1062 668h20v4h-20zM1146 668h16v4h-16zM1022 672h12v4h-12zM1078 672h12v4h-12zM1134 672h20v4h-20zM1018 676h8v4h-8zM1086 676h8v4h-8zM1126 676h20v4h-20zM1018 680h4v4h-4zM1086 680h8v4h-8zM1126 680h12v4h-12zM1014 684h8v4h-8zM1090 684h4v4h-4zM1126 684h8v4h-8zM1014 688h8v4h-8zM1086 688h4v4h-4zM1126 688h4v4h-4zM1010 692h8v4h-8zM1086 692h4v4h-4zM1126 692h4v4h-4zM1006 696h12v4h-12zM1086 696h4v4h-4zM1126 696h4v4h-4zM1002 700h16v4h-16zM1086 700h4v4h-4zM1122 700h4v4h-4zM998 704h20v4h-20zM1086 704h8v4h-8zM1122 704h4v4h-4zM990 708h28v4h-28zM1086 708h12v4h-12zM1114 708h8v4h-8zM982 712h32v4h-32zM1090 712h28v4h-28zM974 716h32v4h-32zM970 720h28v4h-28zM966 724h28v4h-28zM966 728h24v4h-24zM962 732h24v4h-24zM962 736h24v4h-24zM958 740h24v4h-24zM954 744h24v4h-24zM954 748h20v4h-20zM950 752h20v4h-20zM894 756h8v4h-8zM950 756h16v4h-16zM946 760h16v4h-16zM942 764h20v4h-20zM942 768h16v4h-16zM942 772h16v4h-16zM938 776h16v4h-16zM938 780h16v4h-16zM938 784h16v4h-16zM938 788h16v4h-16zM938 792h16v4h-16zM1066 792h8v4h-8zM938 796h16v4h-16zM1066 796h8v4h-8zM938 800h16v4h-16zM1066 800h8v4h-8zM938 804h16v4h-16zM938 808h16v4h-16zM938 812h16v4h-16zM938 816h16v4h-16zM938 820h16v4h-16zM154 824h644v4h-644zM938 824h16v4h-16zM154 828h660v4h-660zM938 828h16v4h-16zM154 832h604v4h-604zM794 832h24v4h-24zM938 832h16v4h-16zM722 836h32v28h-32zM798 836h20v28h-20zM938 836h16v28h-16z"/>
<path fill="#ffb100" d="M618 104h12v28h-12zM618 132h12v4h-12zM618 136h8v4h-8zM618 140h8v4h-8zM618 144h8v4h-8zM618 148h8v4h-8zM618 152h8v4h-8zM614 156h8v4h-8zM614 160h8v4h-8zM614 164h4v4h-4zM614 168h4v4h-4zM610 172h8v4h-8zM610 176h8v4h-8zM610 180h8v4h-8zM610 184h8v4h-8zM610 188h8v4h-8zM610 192h8v4h-8zM714 192h8v4h-8zM610 196h12v4h-12zM710 196h16v4h-16zM610 200h16v4h-16zM710 200h16v4h-16zM614 204h24v4h-24zM706 204h20v4h-20zM618 208h28v4h-28zM702 208h24v4h-24zM622 212h36v4h-36zM702 212h24v4h-24zM634 216h32v4h-32zM698 216h28v4h-28zM646 220h32v4h-32zM686 220h40v4h-40zM658 224h68v4h-68zM666 228h56v4h-56zM670 232h48v4h-48zM678 236h40v4h-40zM682 240h32v4h-32zM690 244h24v4h-24zM694 248h16v4h-16zM698 252h12v4h-12zM698 256h12v4h-12zM702 260h12v4h-12zM702 264h12v4h-12zM706 268h8v4h-8zM706 272h8v4h-8zM614 276h8v4h-8zM706 276h8v4h-8zM606 280h24v4h-24zM706 280h8v4h-8zM606 284h24v4h-24zM706 284h8v4h-8zM606 288h24v4h-24zM706 288h8v4h-8zM606 292h24v4h-24zM706 292h8v4h-8zM610 296h20v4h-20zM706 296h8v4h-8zM702 300h8v4h-8zM698 304h8v4h-8zM694 308h12v4h-12zM686 312h16v4h-16zM678 316h20v4h-20zM670 320h24v4h-24zM666 324h28v4h-28zM666 328h24v4h-24zM666 332h28v4h-28zM670 336h24v4h-24zM674 340h28v4h-28zM678 344h28v4h-28zM686 348h28v4h-28zM690 352h32v4h-32zM706 356h20v4h-20zM718 360h12v4h-12zM722 364h12v4h-12zM726 368h8v4h-8zM730 372h8v4h-8zM734 376h4v4h-4zM734 380h8v4h-8zM738 384h4v4h-4zM810 384h52v4h-52zM738 388h8v4h-8zM794 388h12v4h-12zM866 388h16v4h-16zM742 392h8v4h-8zM778 392h16v4h-16zM882 392h12v4h-12zM746 396h8v4h-8zM770 396h16v4h-16zM890 396h12v4h-12zM746 400h32v4h-32zM898 400h12v4h-12zM1026 400h12v4h-12zM1066 400h12v4h-12zM754 404h20v4h-20zM906 404h12v4h-12zM1018 404h8v4h-8zM1082 404h4v4h-4zM758 408h16v4h-16zM914 408h24v4h-24zM1014 408h4v4h-4zM1090 408h8v4h-8zM770 412h4v4h-4zM922 412h48v4h-48zM1006 412h8v4h-8zM1098 412h8v4h-8zM1210 412h40v4h-40zM966 416h16v4h-16zM998 416h8v4h-8zM1106 416h8v4h-8zM1186 416h16v4h-16zM978 420h24v4h-24zM1114 420h8v4h-8zM1174 420h12v4h-12zM1122 424h12v4h-12zM1158 424h16v4h-16zM1130 428h28v4h-28zM314 460h4v4h-4zM1222 460h28v4h-28zM1210 464h40v4h-40zM302 468h4v4h-4zM314 468h4v4h-4zM1206 468h44v4h-44zM1206 472h12v4h-12zM1202 476h12v4h-12zM1202 480h8v4h-8zM1202 484h8v4h-8zM1202 488h8v4h-8zM1202 492h8v4h-8zM1202 496h8v4h-8zM1202 500h12v4h-12zM1206 504h44v4h-44zM1210 508h40v4h-40zM1218 512h32v4h-32zM1182 636h12v4h-12zM1166 640h16v4h-16zM1186 640h64v4h-64zM1162 644h8v4h-8zM1214 644h36v4h-36zM1158 648h4v4h-4zM1154 652h4v4h-4zM1150 656h8v4h-8zM1146 660h8v4h-8zM1030 664h48v4h-48zM1138 664h12v4h-12zM1022 668h8v4h-8zM1082 668h8v4h-8zM1126 668h20v4h-20zM1018 672h4v4h-4zM1090 672h12v4h-12zM1118 672h16v4h-16zM1014 676h4v4h-4zM1094 676h12v4h-12zM1110 676h16v4h-16zM1010 680h8v4h-8zM1094 680h8v4h-8zM1114 680h12v4h-12zM1006 684h8v4h-8zM1094 684h4v4h-4zM1118 684h8v4h-8zM1006 688h8v4h-8zM1090 688h4v4h-4zM1122 688h4v4h-4zM1002 692h8v4h-8zM1090 692h4v4h-4zM1122 692h4v4h-4zM994 696h12v4h-12zM1090 696h4v4h-4zM1122 696h4v4h-4zM990 700h12v4h-12zM1090 700h4v4h-4zM1118 700h4v4h-4zM982 704h16v4h-16zM1094 704h4v4h-4zM1114 704h8v4h-8zM974 708h16v4h-16zM1098 708h16v4h-16zM966 712h16v4h-16zM846 716h16v4h-16zM962 716h12v4h-12zM842 720h20v4h-20zM958 720h12v4h-12zM842 724h24v4h-24zM954 724h12v4h-12zM842 728h24v4h-24zM954 728h12v4h-12zM842 732h28v4h-28zM950 732h12v4h-12zM850 736h20v4h-20zM950 736h12v4h-12zM858 740h20v4h-20zM946 740h12v4h-12zM870 744h32v4h-32zM942 744h12v4h-12zM870 748h44v4h-44zM938 748h16v4h-16zM874 752h48v4h-48zM934 752h16v4h-16zM874 756h20v4h-20zM902 756h48v4h-48zM878 760h68v4h-68zM882 764h60v4h-60zM886 768h56v4h-56zM894 772h48v4h-48zM898 776h40v4h-40zM906 780h32v4h-32zM910 784h28v4h-28zM914 788h24v4h-24zM914 792h24v4h-24zM914 796h24v4h-24zM914 800h24v4h-24zM914 804h24v4h-24zM914 808h24v4h-24zM914 812h24v4h-24zM914 816h24v4h-24zM154 820h660v4h-660zM914 820h24v4h-24zM798 824h48v4h-48zM914 824h24v4h-24zM814 828h44v4h-44zM914 828h24v4h-24zM818 832h44v4h-44zM914 832h24v4h-24zM818 836h44v28h-44zM914 836h24v28h-24z"/>
<path fill="#ffaa00" d="M610 104h8v28h-8zM610 132h8v4h-8zM610 136h8v4h-8zM610 140h8v4h-8zM610 144h8v4h-8zM610 148h8v4h-8zM610 152h8v4h-8zM610 156h4v4h-4zM610 160h4v4h-4zM606 164h8v4h-8zM606 168h8v4h-8zM606 172h4v4h-4zM606 176h4v4h-4zM606 180h4v4h-4zM606 184h4v4h-4zM606 188h4v4h-4zM602 192h8v4h-8zM602 196h8v4h-8zM602 200h8v4h-8zM602 204h12v4h-12zM602 208h16v4h-16zM602 212h20v4h-20zM606 216h28v4h-28zM582 220h4v4h-4zM610 220h36v4h-36zM578 224h8v4h-8zM618 224h40v4h-40zM630 228h36v4h-36zM642 232h28v4h-28zM646 236h32v4h-32zM654 240h28v4h-28zM658 244h32v4h-32zM666 248h28v4h-28zM674 252h24v4h-24zM682 256h16v4h-16zM686 260h16v4h-16zM694 264h8v4h-8zM610 268h20v4h-20zM698 268h8v4h-8zM602 272h36v4h-36zM698 272h8v4h-8zM598 276h16v4h-16zM622 276h16v4h-16zM698 276h8v4h-8zM598 280h8v4h-8zM630 280h12v4h-12zM702 280h4v4h-4zM594 284h12v4h-12zM630 284h12v4h-12zM702 284h4v4h-4zM598 288h8v4h-8zM630 288h12v4h-12zM698 288h8v4h-8zM598 292h8v4h-8zM630 292h16v4h-16zM698 292h8v4h-8zM598 296h12v4h-12zM630 296h16v4h-16zM698 296h8v4h-8zM602 300h48v4h-48zM690 300h12v4h-12zM610 304h48v4h-48zM682 304h16v4h-16zM618 308h76v4h-76zM626 312h60v4h-60zM630 316h48v4h-48zM638 320h32v4h-32zM638 324h28v4h-28zM642 328h24v4h-24zM646 332h20v4h-20zM650 336h20v4h-20zM658 340h16v4h-16zM662 344h16v4h-16zM666 348h20v4h-20zM670 352h20v4h-20zM674 356h32v4h-32zM678 360h40v4h-40zM682 364h40v4h-40zM714 368h12v4h-12zM722 372h8v4h-8zM726 376h8v4h-8zM730 380h4v4h-4zM734 384h4v4h-4zM734 388h4v4h-4zM806 388h12v4h-12zM834 388h32v4h-32zM738 392h4v4h-4zM794 392h8v4h-8zM870 392h12v4h-12zM738 396h8v4h-8zM786 396h8v4h-8zM882 396h8v4h-8zM742 400h4v4h-4zM778 400h12v4h-12zM890 400h8v4h-8zM1038 400h28v4h-28zM746 404h8v4h-8zM774 404h12v4h-12zM898 404h8v4h-8zM1026 404h8v4h-8zM1074 404h8v4h-8zM750 408h8v4h-8zM774 408h12v4h-12zM902 408h12v4h-12zM1018 408h4v4h-4zM1086 408h4v4h-4zM754 412h16v4h-16zM774 412h12v4h-12zM906 412h16v4h-16zM1014 412h4v4h-4zM1094 412h4v4h-4zM758 416h28v4h-28zM914 416h52v4h-52zM1006 416h8v4h-8zM1102 416h4v4h-4zM1202 416h48v4h-48zM766 420h20v4h-20zM930 420h12v4h-12zM962 420h16v4h-16zM1002 420h4v4h-4zM1106 420h8v4h-8zM1186 420h16v4h-16zM978 424h24v4h-24zM1114 424h8v4h-8zM1174 424h16v4h-16zM1122 428h8v4h-8zM1158 428h20v4h-20zM1130 432h32v4h-32zM1210 456h40v4h-40zM1206 460h16v4h-16zM298 464h4v4h-4zM1202 464h8v4h-8zM1198 468h8v4h-8zM1198 472h8v4h-8zM1198 476h4v4h-4zM1198 480h4v4h-4zM1194 484h8v4h-8zM1194 488h8v4h-8zM1194 492h8v4h-8zM1194 496h8v4h-8zM1194 500h8v4h-8zM1198 504h8v4h-8zM1198 508h12v4h-12zM1202 512h16v4h-16zM1206 516h44v4h-44zM1218 520h32v4h-32zM1182 632h68v4h-68zM1166 636h16v4h-16zM1194 636h56v4h-56zM1158 640h8v4h-8zM1154 644h8v4h-8zM1150 648h8v4h-8zM1146 652h8v4h-8zM1142 656h8v4h-8zM1030 660h40v4h-40zM1134 660h12v4h-12zM1018 664h12v4h-12zM1078 664h16v4h-16zM1118 664h20v4h-20zM1014 668h8v4h-8zM1090 668h36v4h-36zM1010 672h8v4h-8zM1102 672h16v4h-16zM1006 676h8v4h-8zM1106 676h4v4h-4zM1002 680h8v4h-8zM1102 680h12v4h-12zM1002 684h4v4h-4zM1098 684h4v4h-4zM1114 684h4v4h-4zM998 688h8v4h-8zM1094 688h4v4h-4zM1118 688h4v4h-4zM990 692h12v4h-12zM1094 692h4v4h-4zM1118 692h4v4h-4zM982 696h12v4h-12zM1094 696h4v4h-4zM1118 696h4v4h-4zM974 700h16v4h-16zM1094 700h4v4h-4zM966 704h16v4h-16zM1098 704h16v4h-16zM846 708h12v4h-12zM962 708h12v4h-12zM842 712h24v4h-24zM958 712h8v4h-8zM838 716h8v4h-8zM862 716h4v4h-4zM954 716h8v4h-8zM834 720h8v4h-8zM862 720h8v4h-8zM950 720h8v4h-8zM834 724h8v4h-8zM866 724h8v4h-8zM950 724h4v4h-4zM834 728h8v4h-8zM866 728h8v4h-8zM946 728h8v4h-8zM834 732h8v4h-8zM870 732h8v4h-8zM942 732h8v4h-8zM834 736h16v4h-16zM870 736h20v4h-20zM938 736h12v4h-12zM834 740h24v4h-24zM878 740h32v4h-32zM934 740h12v4h-12zM842 744h28v4h-28zM902 744h40v4h-40zM850 748h20v4h-20zM914 748h24v4h-24zM858 752h16v4h-16zM922 752h12v4h-12zM866 756h8v4h-8zM870 760h8v4h-8zM874 764h8v4h-8zM878 768h8v4h-8zM878 772h16v4h-16zM882 776h16v4h-16zM886 780h20v4h-20zM886 784h24v4h-24zM886 788h28v4h-28zM886 792h28v4h-28zM886 796h28v4h-28zM886 800h28v4h-28zM882 804h32v4h-32zM874 808h40v4h-40zM850 812h64v4h-64zM154 816h760v4h-760zM814 820h100v4h-100zM846 824h68v4h-68zM858 828h56v4h-56zM862 832h52v4h-52zM862 836h52v28h-52z"/>
<path fill="#ffa200" d="M606 104h4v28h-4zM606 132h4v4h-4zM606 136h4v4h-4zM606 140h4v4h-4zM606 144h4v4h-4zM606 148h4v4h-4zM602 152h8v4h-8zM602 156h8v4h-8zM602 160h8v4h-8zM602 164h4v4h-4zM602 168h4v4h-4zM602 172h4v4h-4zM602 176h4v4h-4zM602 180h4v4h-4zM598 184h8v4h-8zM598 188h8v4h-8zM598 192h4v4h-4zM598 196h4v4h-4zM594 200h8v4h-8zM594 204h8v4h-8zM590 208h12v4h-12zM586 212h16v4h-16zM578 216h28v4h-28zM574 220h8v4h-8zM586 220h24v4h-24zM574 224h4v4h-4zM586 224h32v4h-32zM574 228h56v4h-56zM610 232h32v4h-32zM618 236h28v4h-28zM622 240h32v4h-32zM626 244h32v4h-32zM626 248h40v4h-40zM626 252h48v4h-48zM618 256h64v4h-64zM610 260h76v4h-76zM606 264h88v4h-88zM598 268h12v4h-12zM630 268h28v4h-28zM682 268h16v4h-16zM594 272h8v4h-8zM638 272h16v4h-16zM686 272h12v4h-12zM590 276h8v4h-8zM638 276h16v4h-16zM690 276h8v4h-8zM590 280h8v4h-8zM642 280h12v4h-12zM690 280h12v4h-12zM590 284h4v4h-4zM642 284h16v4h-16zM690 284h12v4h-12zM590 288h8v4h-8zM642 288h16v4h-16zM690 288h8v4h-8zM590 292h8v4h-8zM646 292h16v4h-16zM686 292h12v4h-12zM594 296h4v4h-4zM646 296h20v4h-20zM682 296h16v4h-16zM594 300h8v4h-8zM650 300h40v4h-40zM598 304h12v4h-12zM658 304h24v4h-24zM606 308h12v4h-12zM610 312h16v4h-16zM614 316h16v4h-16zM618 320h20v4h-20zM622 324h16v4h-16zM626 328h16v4h-16zM630 332h16v4h-16zM634 336h16v4h-16zM638 340h20v4h-20zM642 344h20v4h-20zM650 348h16v4h-16zM654 352h16v4h-16zM658 356h16v4h-16zM662 360h16v4h-16zM666 364h16v4h-16zM670 368h44v4h-44zM670 372h52v4h-52zM678 376h28v4h-28zM710 376h16v4h-16zM682 380h8v4h-8zM722 380h8v4h-8zM726 384h8v4h-8zM730 388h4v4h-4zM818 388h16v4h-16zM730 392h8v4h-8zM802 392h8v4h-8zM850 392h20v4h-20zM734 396h4v4h-4zM794 396h4v4h-4zM874 396h8v4h-8zM738 400h4v4h-4zM790 400h4v4h-4zM882 400h8v4h-8zM738 404h8v4h-8zM786 404h8v4h-8zM890 404h8v4h-8zM1034 404h16v4h-16zM1058 404h16v4h-16zM742 408h8v4h-8zM786 408h4v4h-4zM894 408h8v4h-8zM1022 408h8v4h-8zM1078 408h8v4h-8zM746 412h8v4h-8zM786 412h8v4h-8zM898 412h8v4h-8zM1018 412h4v4h-4zM1086 412h8v4h-8zM750 416h8v4h-8zM786 416h8v4h-8zM902 416h12v4h-12zM1014 416h4v4h-4zM1094 416h8v4h-8zM754 420h12v4h-12zM786 420h8v4h-8zM910 420h20v4h-20zM942 420h20v4h-20zM1006 420h8v4h-8zM1102 420h4v4h-4zM1202 420h48v4h-48zM762 424h28v4h-28zM922 424h56v4h-56zM1002 424h4v4h-4zM1106 424h8v4h-8zM1190 424h16v4h-16zM978 428h24v4h-24zM1114 428h8v4h-8zM1178 428h16v4h-16zM1122 432h8v4h-8zM1162 432h20v4h-20zM1130 436h36v4h-36zM1206 448h44v4h-44zM1202 452h48v4h-48zM306 456h8v4h-8zM1198 456h12v4h-12zM298 460h4v4h-4zM1198 460h8v4h-8zM258 464h4v4h-4zM1194 464h8v4h-8zM1194 468h4v4h-4zM1194 472h4v4h-4zM1194 476h4v4h-4zM1190 480h8v4h-8zM1190 484h4v4h-4zM1190 488h4v4h-4zM1190 492h4v4h-4zM1190 496h4v4h-4zM1190 500h4v4h-4zM1190 504h8v4h-8zM1190 508h8v4h-8zM1190 512h12v4h-12zM1194 516h12v4h-12zM1198 520h20v4h-20zM1130 524h8v4h-8zM1202 524h48v4h-48zM1110 528h36v4h-36zM1210 528h40v4h-40zM1090 532h56v4h-56zM1086 536h60v4h-60zM1086 540h60v4h-60zM1090 544h52v4h-52zM1098 548h32v4h-32zM1210 624h40v4h-40zM1190 628h60v4h-60zM1170 632h12v4h-12zM1158 636h8v4h-8zM1154 640h4v4h-4zM1150 644h4v4h-4zM1146 648h4v4h-4zM1138 652h8v4h-8zM1038 656h8v4h-8zM1130 656h12v4h-12zM1018 660h12v4h-12zM1070 660h24v4h-24zM1114 660h20v4h-20zM1014 664h4v4h-4zM1094 664h24v4h-24zM1006 668h8v4h-8zM1006 672h4v4h-4zM1002 676h4v4h-4zM998 680h4v4h-4zM994 684h8v4h-8zM1102 684h12v4h-12zM986 688h12v4h-12zM1098 688h4v4h-4zM1114 688h4v4h-4zM982 692h8v4h-8zM974 696h8v4h-8zM966 700h8v4h-8zM1098 700h4v4h-4zM1114 700h4v4h-4zM846 704h12v4h-12zM958 704h8v4h-8zM838 708h8v4h-8zM858 708h8v4h-8zM954 708h8v4h-8zM834 712h8v4h-8zM866 712h4v4h-4zM950 712h8v4h-8zM830 716h8v4h-8zM866 716h8v4h-8zM946 716h8v4h-8zM826 720h8v4h-8zM870 720h4v4h-4zM946 720h4v4h-4zM826 724h8v4h-8zM874 724h4v4h-4zM942 724h8v4h-8zM822 728h12v4h-12zM874 728h8v4h-8zM938 728h8v4h-8zM822 732h12v4h-12zM878 732h12v4h-12zM930 732h12v4h-12zM822 736h12v4h-12zM890 736h48v4h-48zM822 740h12v4h-12zM910 740h24v4h-24zM826 744h16v4h-16zM830 748h20v4h-20zM838 752h20v4h-20zM850 756h16v4h-16zM858 760h12v4h-12zM862 764h12v4h-12zM866 768h12v4h-12zM870 772h8v4h-8zM874 776h8v4h-8zM874 780h12v4h-12zM874 784h12v4h-12zM874 788h12v4h-12zM874 792h12v4h-12zM870 796h16v4h-16zM862 800h24v4h-24zM850 804h32v4h-32zM830 808h44v4h-44zM802 812h48v4h-48z"/>
<path fill="#ff9b00" d="M598 104h8v28h-8zM598 132h8v4h-8zM598 136h8v4h-8zM598 140h8v4h-8zM598 144h8v4h-8zM598 148h8v4h-8zM598 152h4v4h-4zM598 156h4v4h-4zM598 160h4v4h-4zM598 164h4v4h-4zM598 168h4v4h-4zM598 172h4v4h-4zM598 176h4v4h-4zM598 180h4v4h-4zM594 184h4v4h-4zM594 188h4v4h-4zM594 192h4v4h-4zM590 196h8v4h-8zM586 200h8v4h-8zM586 204h8v4h-8zM582 208h8v4h-8zM578 212h8v4h-8zM574 216h4v4h-4zM570 220h4v4h-4zM570 224h4v4h-4zM570 228h4v4h-4zM574 232h36v4h-36zM598 236h20v4h-20zM602 240h20v4h-20zM606 244h20v4h-20zM606 248h20v4h-20zM606 252h20v4h-20zM602 256h16v4h-16zM598 260h12v4h-12zM594 264h12v4h-12zM590 268h8v4h-8zM658 268h24v4h-24zM586 272h8v4h-8zM654 272h32v4h-32zM586 276h4v4h-4zM654 276h36v4h-36zM582 280h8v4h-8zM654 280h36v4h-36zM582 284h8v4h-8zM658 284h32v4h-32zM582 288h8v4h-8zM658 288h32v4h-32zM582 292h8v4h-8zM662 292h24v4h-24zM586 296h8v4h-8zM666 296h16v4h-16zM590 300h4v4h-4zM594 304h4v4h-4zM598 308h8v4h-8zM602 312h8v4h-8zM606 316h8v4h-8zM610 320h8v4h-8zM610 324h12v4h-12zM614 328h12v4h-12zM618 332h12v4h-12zM618 336h16v4h-16zM618 340h20v4h-20zM622 344h20v4h-20zM622 348h28v4h-28zM622 352h32v4h-32zM622 356h36v4h-36zM622 360h40v4h-40zM618 364h20v4h-20zM642 364h24v4h-24zM618 368h16v4h-16zM650 368h20v4h-20zM614 372h20v4h-20zM654 372h16v4h-16zM610 376h24v4h-24zM658 376h20v4h-20zM706 376h4v4h-4zM606 380h28v4h-28zM662 380h20v4h-20zM690 380h32v4h-32zM606 384h28v4h-28zM666 384h60v4h-60zM606 388h28v4h-28zM666 388h36v4h-36zM718 388h12v4h-12zM606 392h28v4h-28zM666 392h32v4h-32zM726 392h4v4h-4zM810 392h4v4h-4zM830 392h20v4h-20zM610 396h24v4h-24zM666 396h28v4h-28zM730 396h4v4h-4zM798 396h4v4h-4zM862 396h12v4h-12zM614 400h16v4h-16zM666 400h24v4h-24zM730 400h8v4h-8zM794 400h4v4h-4zM874 400h8v4h-8zM666 404h24v4h-24zM734 404h4v4h-4zM794 404h4v4h-4zM882 404h8v4h-8zM1050 404h8v4h-8zM662 408h28v4h-28zM738 408h4v4h-4zM790 408h4v4h-4zM890 408h4v4h-4zM1030 408h8v4h-8zM1070 408h8v4h-8zM658 412h32v4h-32zM738 412h8v4h-8zM794 412h4v4h-4zM890 412h8v4h-8zM1022 412h4v4h-4zM1082 412h4v4h-4zM662 416h24v4h-24zM742 416h8v4h-8zM794 416h4v4h-4zM894 416h8v4h-8zM1018 416h4v4h-4zM1090 416h4v4h-4zM662 420h24v4h-24zM746 420h8v4h-8zM794 420h4v4h-4zM898 420h12v4h-12zM1014 420h4v4h-4zM1094 420h8v4h-8zM666 424h16v4h-16zM754 424h8v4h-8zM790 424h4v4h-4zM906 424h16v4h-16zM1006 424h8v4h-8zM1102 424h4v4h-4zM1206 424h44v4h-44zM762 428h28v4h-28zM918 428h60v4h-60zM1002 428h8v4h-8zM1106 428h8v4h-8zM1194 428h56v4h-56zM974 432h28v4h-28zM1114 432h8v4h-8zM1182 432h28v4h-28zM1118 436h12v4h-12zM1166 436h40v4h-40zM1130 440h52v4h-52zM1186 440h64v4h-64zM1194 444h56v4h-56zM1190 448h16v4h-16zM1190 452h12v4h-12zM302 456h4v4h-4zM1190 456h8v4h-8zM1190 460h8v4h-8zM254 464h4v4h-4zM262 464h4v4h-4zM318 464h4v4h-4zM1190 464h4v4h-4zM258 468h8v4h-8zM298 468h4v4h-4zM1190 468h4v4h-4zM306 472h8v4h-8zM1190 472h4v4h-4zM1186 476h8v4h-8zM1186 480h4v4h-4zM1186 484h4v4h-4zM1186 488h4v4h-4zM1186 492h4v4h-4zM1186 496h4v4h-4zM1186 500h4v4h-4zM1182 504h8v4h-8zM1182 508h8v4h-8zM1186 512h4v4h-4zM1186 516h8v4h-8zM1122 520h32v4h-32zM1186 520h12v4h-12zM1102 524h28v4h-28zM1138 524h20v4h-20zM1186 524h16v4h-16zM1078 528h32v4h-32zM1146 528h12v4h-12zM1190 528h20v4h-20zM1074 532h16v4h-16zM1146 532h12v4h-12zM1194 532h56v4h-56zM1074 536h12v4h-12zM1146 536h12v4h-12zM1194 536h56v4h-56zM1074 540h12v4h-12zM1146 540h12v4h-12zM1202 540h48v4h-48zM1074 544h16v4h-16zM1142 544h16v4h-16zM1206 544h44v4h-44zM1082 548h16v4h-16zM1130 548h24v4h-24zM1210 548h40v4h-40zM1090 552h52v4h-52zM1214 552h36v4h-36zM1218 556h32v4h-32zM1214 616h36v4h-36zM1206 620h44v4h-44zM1194 624h16v4h-16zM1174 628h16v4h-16zM1162 632h8v4h-8zM1154 636h4v4h-4zM1146 640h8v4h-8zM1142 644h8v4h-8zM1138 648h8v4h-8zM1126 652h12v4h-12zM1018 656h20v4h-20zM1046 656h40v4h-40zM1110 656h20v4h-20zM1010 660h8v4h-8zM1094 660h20v4h-20zM1006 664h8v4h-8zM1002 668h4v4h-4zM998 672h8v4h-8zM994 676h8v4h-8zM990 680h8v4h-8zM986 684h8v4h-8zM978 688h8v4h-8zM1102 688h4v4h-4zM1110 688h4v4h-4zM970 692h12v4h-12zM1098 692h4v4h-4zM1114 692h4v4h-4zM962 696h12v4h-12zM1098 696h4v4h-4zM1114 696h4v4h-4zM846 700h12v4h-12zM954 700h12v4h-12zM1102 700h12v4h-12zM838 704h8v4h-8zM858 704h8v4h-8zM950 704h8v4h-8zM834 708h4v4h-4zM866 708h4v4h-4zM946 708h8v4h-8zM826 712h8v4h-8zM870 712h4v4h-4zM942 712h8v4h-8zM822 716h8v4h-8zM942 716h4v4h-4zM818 720h8v4h-8zM874 720h4v4h-4zM938 720h8v4h-8zM814 724h12v4h-12zM878 724h4v4h-4zM934 724h8v4h-8zM810 728h12v4h-12zM882 728h8v4h-8zM926 728h12v4h-12zM810 732h12v4h-12zM890 732h40v4h-40zM814 736h8v4h-8zM814 740h8v4h-8zM818 744h8v4h-8zM822 748h8v4h-8zM826 752h12v4h-12zM830 756h20v4h-20zM838 760h20v4h-20zM850 764h12v4h-12zM858 768h8v4h-8zM862 772h8v4h-8zM862 776h12v4h-12zM862 780h12v4h-12zM862 784h12v4h-12zM862 788h12v4h-12zM858 792h16v4h-16zM854 796h16v4h-16zM842 800h20v4h-20zM826 804h24v4h-24zM810 808h20v4h-20zM154 812h648v4h-648z"/>
<path fill="#ff9300" d="M594 104h4v28h-4zM594 132h4v4h-4zM594 136h4v4h-4zM594 140h4v4h-4zM594 144h4v4h-4zM594 148h4v4h-4zM594 152h4v4h-4zM594 156h4v4h-4zM594 160h4v4h-4zM594 164h4v4h-4zM594 168h4v4h-4zM594 172h4v4h-4zM594 176h4v4h-4zM590 180h8v4h-8zM590 184h4v4h-4zM590 188h4v4h-4zM586 192h8v4h-8zM586 196h4v4h-4zM582 200h4v4h-4zM578 204h8v4h-8zM574 208h8v4h-8zM570 212h8v4h-8zM570 216h4v4h-4zM566 220h4v4h-4zM566 224h4v4h-4zM566 228h4v4h-4zM570 232h4v4h-4zM574 236h24v4h-24zM586 240h16v4h-16zM590 244h16v4h-16zM594 248h12v4h-12zM594 252h12v4h-12zM590 256h12v4h-12zM590 260h8v4h-8zM586 264h8v4h-8zM582 268h8v4h-8zM578 272h8v4h-8zM578 276h8v4h-8zM578 280h4v4h-4zM578 284h4v4h-4zM578 288h4v4h-4zM578 292h4v4h-4zM578 296h8v4h-8zM582 300h8v4h-8zM586 304h8v4h-8zM590 308h8v4h-8zM594 312h8v4h-8zM598 316h8v4h-8zM598 320h12v4h-12zM602 324h8v4h-8zM606 328h8v4h-8zM606 332h12v4h-12zM606 336h12v4h-12zM610 340h8v4h-8zM610 344h12v4h-12zM610 348h12v4h-12zM610 352h12v4h-12zM610 356h12v4h-12zM606 360h16v4h-16zM606 364h12v4h-12zM638 364h4v4h-4zM602 368h16v4h-16zM634 368h16v4h-16zM602 372h12v4h-12zM634 372h20v4h-20zM598 376h12v4h-12zM634 376h24v4h-24zM598 380h8v4h-8zM634 380h28v4h-28zM598 384h8v4h-8zM634 384h32v4h-32zM598 388h8v4h-8zM634 388h32v4h-32zM702 388h16v4h-16zM598 392h8v4h-8zM634 392h32v4h-32zM698 392h28v4h-28zM814 392h16v4h-16zM598 396h12v4h-12zM634 396h32v4h-32zM694 396h12v4h-12zM718 396h12v4h-12zM802 396h4v4h-4zM846 396h16v4h-16zM602 400h12v4h-12zM630 400h36v4h-36zM690 400h12v4h-12zM726 400h4v4h-4zM798 400h4v4h-4zM866 400h8v4h-8zM602 404h64v4h-64zM690 404h12v4h-12zM730 404h4v4h-4zM878 404h4v4h-4zM610 408h52v4h-52zM690 408h8v4h-8zM730 408h8v4h-8zM794 408h4v4h-4zM882 408h8v4h-8zM1038 408h32v4h-32zM622 412h36v4h-36zM690 412h8v4h-8zM734 412h4v4h-4zM886 412h4v4h-4zM1026 412h8v4h-8zM1074 412h8v4h-8zM638 416h24v4h-24zM686 416h12v4h-12zM738 416h4v4h-4zM798 416h4v4h-4zM886 416h8v4h-8zM1022 416h4v4h-4zM1082 416h8v4h-8zM646 420h16v4h-16zM686 420h8v4h-8zM742 420h4v4h-4zM798 420h4v4h-4zM890 420h8v4h-8zM1018 420h4v4h-4zM1090 420h4v4h-4zM650 424h16v4h-16zM682 424h12v4h-12zM746 424h8v4h-8zM794 424h8v4h-8zM898 424h8v4h-8zM1014 424h4v4h-4zM1094 424h8v4h-8zM658 428h32v4h-32zM750 428h12v4h-12zM790 428h8v4h-8zM906 428h12v4h-12zM1010 428h4v4h-4zM1102 428h4v4h-4zM666 432h16v4h-16zM758 432h32v4h-32zM918 432h56v4h-56zM1002 432h8v4h-8zM1106 432h8v4h-8zM1210 432h40v4h-40zM974 436h28v4h-28zM1114 436h4v4h-4zM1206 436h44v4h-44zM1118 440h12v4h-12zM1182 440h4v4h-4zM1126 444h68v4h-68zM1178 448h12v4h-12zM1182 452h8v4h-8zM298 456h4v4h-4zM314 456h4v4h-4zM1182 456h8v4h-8zM258 460h8v4h-8zM318 460h4v4h-4zM1182 460h8v4h-8zM266 464h4v4h-4zM294 464h4v4h-4zM1186 464h4v4h-4zM254 468h4v4h-4zM318 468h4v4h-4zM1182 468h8v4h-8zM302 472h4v4h-4zM1182 472h8v4h-8zM1182 476h4v4h-4zM1182 480h4v4h-4zM1182 484h4v4h-4zM1178 488h8v4h-8zM1178 492h8v4h-8zM1178 496h8v4h-8zM1178 500h8v4h-8zM1174 504h8v4h-8zM1174 508h8v4h-8zM1130 512h28v4h-28zM1170 512h16v4h-16zM1122 516h64v4h-64zM1102 520h20v4h-20zM1154 520h32v4h-32zM1070 524h32v4h-32zM1158 524h28v4h-28zM1066 528h12v4h-12zM1158 528h32v4h-32zM1062 532h12v4h-12zM1158 532h36v4h-36zM1062 536h12v4h-12zM1158 536h36v4h-36zM1062 540h12v4h-12zM1158 540h44v4h-44zM1066 544h8v4h-8zM1158 544h48v4h-48zM1070 548h12v4h-12zM1154 548h56v4h-56zM1074 552h16v4h-16zM1142 552h72v4h-72zM1086 556h76v4h-76zM1178 556h40v4h-40zM1102 560h36v4h-36zM1186 560h64v4h-64zM1190 564h60v4h-60zM1194 568h56v4h-56zM1198 572h52v4h-52zM1202 576h48v4h-48zM1206 580h44v4h-44zM1210 584h40v4h-40zM1214 588h36v4h-36zM1214 592h36v4h-36zM1214 596h36v4h-36zM1214 600h36v4h-36zM1214 604h36v4h-36zM1210 608h40v4h-40zM1206 612h44v4h-44zM1202 616h12v4h-12zM1194 620h12v4h-12zM1182 624h12v4h-12zM1162 628h12v4h-12zM1154 632h8v4h-8zM1146 636h8v4h-8zM1142 640h4v4h-4zM1134 644h8v4h-8zM1126 648h12v4h-12zM1018 652h44v4h-44zM1106 652h20v4h-20zM1010 656h8v4h-8zM1086 656h24v4h-24zM1002 660h8v4h-8zM998 664h8v4h-8zM994 668h8v4h-8zM990 672h8v4h-8zM986 676h8v4h-8zM982 680h8v4h-8zM978 684h8v4h-8zM970 688h8v4h-8zM1106 688h4v4h-4zM746 692h4v4h-4zM962 692h8v4h-8zM1102 692h12v4h-12zM746 696h16v4h-16zM850 696h8v4h-8zM954 696h8v4h-8zM1102 696h12v4h-12zM746 700h24v4h-24zM838 700h8v4h-8zM858 700h8v4h-8zM950 700h4v4h-4zM750 704h24v4h-24zM830 704h8v4h-8zM866 704h4v4h-4zM946 704h4v4h-4zM754 708h20v4h-20zM822 708h12v4h-12zM870 708h4v4h-4zM942 708h4v4h-4zM762 712h8v4h-8zM814 712h12v4h-12zM874 712h4v4h-4zM938 712h4v4h-4zM806 716h16v4h-16zM874 716h4v4h-4zM934 716h8v4h-8zM798 720h20v4h-20zM878 720h4v4h-4zM930 720h8v4h-8zM798 724h16v4h-16zM882 724h8v4h-8zM922 724h12v4h-12zM802 728h8v4h-8zM890 728h36v4h-36zM802 732h8v4h-8zM806 736h8v4h-8zM806 740h8v4h-8zM810 744h8v4h-8zM814 748h8v4h-8zM818 752h8v4h-8zM822 756h8v4h-8zM830 760h8v4h-8zM834 764h16v4h-16zM846 768h12v4h-12zM850 772h12v4h-12zM850 776h12v4h-12zM854 780h8v4h-8zM854 784h8v4h-8zM850 788h12v4h-12zM846 792h12v4h-12zM838 796h16v4h-16zM826 800h16v4h-16zM814 804h12v4h-12zM154 808h612v4h-612zM790 808h20v4h-20z"/>
<path fill="#ff8c00" d="M590 104h4v28h-4zM590 132h4v4h-4zM590 136h4v4h-4zM590 140h4v4h-4zM590 144h4v4h-4zM590 148h4v4h-4zM590 152h4v4h-4zM590 156h4v4h-4zM590 160h4v4h-4zM590 164h4v4h-4zM590 168h4v4h-4zM590 172h4v4h-4zM590 176h4v4h-4zM586 180h4v4h-4zM586 184h4v4h-4zM582 188h8v4h-8zM582 192h4v4h-4zM578 196h8v4h-8zM574 200h8v4h-8zM574 204h4v4h-4zM570 208h4v4h-4zM566 212h4v4h-4zM566 216h4v4h-4zM566 232h4v4h-4zM570 236h4v4h-4zM574 240h12v4h-12zM582 244h8v4h-8zM582 248h12v4h-12zM582 252h12v4h-12zM582 256h8v4h-8zM582 260h8v4h-8zM578 264h8v4h-8zM574 268h8v4h-8zM574 272h4v4h-4zM570 276h8v4h-8zM570 280h8v4h-8zM570 284h8v4h-8zM570 288h8v4h-8zM570 292h8v4h-8zM574 296h4v4h-4zM574 300h8v4h-8zM578 304h8v4h-8zM582 308h8v4h-8zM586 312h8v4h-8zM590 316h8v4h-8zM590 320h8v4h-8zM594 324h8v4h-8zM594 328h12v4h-12zM598 332h8v4h-8zM598 336h8v4h-8zM598 340h12v4h-12zM598 344h12v4h-12zM602 348h8v4h-8zM598 352h12v4h-12zM598 356h12v4h-12zM598 360h8v4h-8zM598 364h8v4h-8zM594 368h8v4h-8zM594 372h8v4h-8zM594 376h4v4h-4zM590 380h8v4h-8zM590 384h8v4h-8zM590 388h8v4h-8zM590 392h8v4h-8zM590 396h8v4h-8zM706 396h12v4h-12zM806 396h4v4h-4zM838 396h8v4h-8zM590 400h12v4h-12zM702 400h24v4h-24zM802 400h4v4h-4zM858 400h8v4h-8zM594 404h8v4h-8zM702 404h28v4h-28zM798 404h4v4h-4zM870 404h8v4h-8zM598 408h12v4h-12zM698 408h8v4h-8zM722 408h8v4h-8zM798 408h4v4h-4zM878 408h4v4h-4zM602 412h20v4h-20zM698 412h8v4h-8zM730 412h4v4h-4zM798 412h4v4h-4zM882 412h4v4h-4zM1034 412h12v4h-12zM1062 412h12v4h-12zM614 416h24v4h-24zM698 416h4v4h-4zM734 416h4v4h-4zM802 416h4v4h-4zM882 416h4v4h-4zM1026 416h8v4h-8zM1078 416h4v4h-4zM626 420h20v4h-20zM694 420h8v4h-8zM734 420h8v4h-8zM802 420h4v4h-4zM882 420h8v4h-8zM1022 420h4v4h-4zM1082 420h8v4h-8zM638 424h12v4h-12zM694 424h4v4h-4zM738 424h8v4h-8zM802 424h4v4h-4zM886 424h12v4h-12zM1018 424h4v4h-4zM1090 424h4v4h-4zM646 428h12v4h-12zM690 428h8v4h-8zM742 428h8v4h-8zM798 428h4v4h-4zM894 428h12v4h-12zM1014 428h4v4h-4zM1094 428h8v4h-8zM650 432h16v4h-16zM682 432h12v4h-12zM750 432h8v4h-8zM790 432h8v4h-8zM906 432h12v4h-12zM1010 432h4v4h-4zM1098 432h8v4h-8zM662 436h28v4h-28zM762 436h24v4h-24zM922 436h52v4h-52zM1002 436h8v4h-8zM1106 436h8v4h-8zM970 440h32v4h-32zM1110 440h8v4h-8zM1118 444h8v4h-8zM1126 448h52v4h-52zM1138 452h44v4h-44zM1174 456h8v4h-8zM254 460h4v4h-4zM266 460h4v4h-4zM294 460h4v4h-4zM1174 460h8v4h-8zM250 464h4v4h-4zM270 464h4v4h-4zM1178 464h8v4h-8zM250 468h4v4h-4zM266 468h4v4h-4zM294 468h4v4h-4zM1178 468h4v4h-4zM314 472h4v4h-4zM1178 472h4v4h-4zM1178 476h4v4h-4zM1174 480h8v4h-8zM1174 484h8v4h-8zM1174 488h4v4h-4zM1170 492h8v4h-8zM1166 496h12v4h-12zM1142 500h36v4h-36zM1134 504h40v4h-40zM1126 508h48v4h-48zM1122 512h8v4h-8zM1158 512h12v4h-12zM1106 516h16v4h-16zM1062 520h40v4h-40zM1058 524h12v4h-12zM1058 528h8v4h-8zM1058 532h4v4h-4zM1054 536h8v4h-8zM1054 540h8v4h-8zM1054 544h12v4h-12zM1058 548h12v4h-12zM1062 552h12v4h-12zM1070 556h16v4h-16zM1162 556h16v4h-16zM1082 560h20v4h-20zM1138 560h48v4h-48zM1094 564h96v4h-96zM1182 568h12v4h-12zM1186 572h12v4h-12zM1194 576h8v4h-8zM1194 580h12v4h-12zM1198 584h12v4h-12zM1202 588h12v4h-12zM1206 592h8v4h-8zM1206 596h8v4h-8zM1206 600h8v4h-8zM1202 604h12v4h-12zM1202 608h8v4h-8zM1198 612h8v4h-8zM1194 616h8v4h-8zM1186 620h8v4h-8zM1170 624h12v4h-12zM1154 628h8v4h-8zM1146 632h8v4h-8zM1138 636h8v4h-8zM1134 640h8v4h-8zM1122 644h12v4h-12zM1014 648h40v4h-40zM1102 648h24v4h-24zM1006 652h12v4h-12zM1062 652h44v4h-44zM1002 656h8v4h-8zM994 660h8v4h-8zM990 664h8v4h-8zM990 668h4v4h-4zM986 672h4v4h-4zM978 676h8v4h-8zM718 680h20v4h-20zM974 680h8v4h-8zM722 684h28v4h-28zM966 684h12v4h-12zM726 688h32v4h-32zM958 688h12v4h-12zM730 692h16v4h-16zM750 692h16v4h-16zM950 692h12v4h-12zM738 696h8v4h-8zM762 696h12v4h-12zM838 696h12v4h-12zM858 696h8v4h-8zM946 696h8v4h-8zM742 700h4v4h-4zM770 700h8v4h-8zM830 700h8v4h-8zM866 700h4v4h-4zM942 700h8v4h-8zM742 704h8v4h-8zM774 704h12v4h-12zM818 704h12v4h-12zM870 704h4v4h-4zM938 704h8v4h-8zM746 708h8v4h-8zM774 708h48v4h-48zM874 708h4v4h-4zM934 708h8v4h-8zM750 712h12v4h-12zM770 712h44v4h-44zM878 712h4v4h-4zM930 712h8v4h-8zM758 716h48v4h-48zM878 716h8v4h-8zM926 716h8v4h-8zM774 720h24v4h-24zM882 720h8v4h-8zM922 720h8v4h-8zM786 724h12v4h-12zM890 724h32v4h-32zM790 728h12v4h-12zM794 732h8v4h-8zM798 736h8v4h-8zM802 740h4v4h-4zM806 744h4v4h-4zM806 748h8v4h-8zM810 752h8v4h-8zM818 756h4v4h-4zM822 760h8v4h-8zM826 764h8v4h-8zM834 768h12v4h-12zM838 772h12v4h-12zM842 776h8v4h-8zM842 780h12v4h-12zM842 784h12v4h-12zM838 788h12v4h-12zM834 792h12v4h-12zM826 796h12v4h-12zM818 800h8v4h-8zM806 804h8v4h-8zM766 808h24v4h-24z"/>
<path fill="#ff8100" d="M582 104h8v28h-8zM582 132h8v4h-8zM582 136h8v4h-8zM582 140h8v4h-8zM582 144h8v4h-8zM582 148h8v4h-8zM582 152h8v4h-8zM582 156h8v4h-8zM582 160h8v4h-8zM586 164h4v4h-4zM586 168h4v4h-4zM582 172h8v4h-8zM582 176h8v4h-8zM582 180h4v4h-4zM582 184h4v4h-4zM578 188h4v4h-4zM574 192h8v4h-8zM574 196h4v4h-4zM570 200h4v4h-4zM566 204h8v4h-8zM566 208h4v4h-4zM562 212h4v4h-4zM562 216h4v4h-4zM562 220h4v4h-4zM562 224h4v4h-4zM562 228h4v4h-4zM562 232h4v4h-4zM566 236h4v4h-4zM570 240h4v4h-4zM574 244h8v4h-8zM574 248h8v4h-8zM574 252h8v4h-8zM574 256h8v4h-8zM574 260h8v4h-8zM570 264h8v4h-8zM570 268h4v4h-4zM566 272h8v4h-8zM566 276h4v4h-4zM566 280h4v4h-4zM566 284h4v4h-4zM566 288h4v4h-4zM566 292h4v4h-4zM566 296h8v4h-8zM570 300h4v4h-4zM570 304h8v4h-8zM574 308h8v4h-8zM578 312h8v4h-8zM582 316h8v4h-8zM582 320h8v4h-8zM586 324h8v4h-8zM586 328h8v4h-8zM590 332h8v4h-8zM590 336h8v4h-8zM590 340h8v4h-8zM594 344h4v4h-4zM594 348h8v4h-8zM594 352h4v4h-4zM590 356h8v4h-8zM590 360h8v4h-8zM590 364h8v4h-8zM590 368h4v4h-4zM586 372h8v4h-8zM586 376h8v4h-8zM586 380h4v4h-4zM582 384h8v4h-8zM582 388h8v4h-8zM582 392h8v4h-8zM582 396h8v4h-8zM810 396h4v4h-4zM830 396h8v4h-8zM582 400h8v4h-8zM846 400h12v4h-12zM586 404h8v4h-8zM866 404h4v4h-4zM586 408h12v4h-12zM706 408h16v4h-16zM874 408h4v4h-4zM590 412h12v4h-12zM706 412h24v4h-24zM802 412h4v4h-4zM874 412h8v4h-8zM1046 412h16v4h-16zM598 416h16v4h-16zM702 416h8v4h-8zM722 416h12v4h-12zM874 416h8v4h-8zM1034 416h8v4h-8zM1070 416h8v4h-8zM610 420h16v4h-16zM702 420h4v4h-4zM730 420h4v4h-4zM806 420h4v4h-4zM878 420h4v4h-4zM1026 420h8v4h-8zM1078 420h4v4h-4zM626 424h12v4h-12zM698 424h8v4h-8zM734 424h4v4h-4zM806 424h4v4h-4zM878 424h8v4h-8zM1022 424h4v4h-4zM1082 424h8v4h-8zM634 428h12v4h-12zM698 428h4v4h-4zM738 428h4v4h-4zM802 428h4v4h-4zM886 428h8v4h-8zM1018 428h4v4h-4zM1086 428h8v4h-8zM642 432h8v4h-8zM694 432h4v4h-4zM742 432h8v4h-8zM798 432h4v4h-4zM894 432h12v4h-12zM1014 432h4v4h-4zM1090 432h8v4h-8zM650 436h12v4h-12zM690 436h8v4h-8zM750 436h12v4h-12zM786 436h8v4h-8zM910 436h12v4h-12zM1010 436h4v4h-4zM1098 436h8v4h-8zM658 440h32v4h-32zM922 440h48v4h-48zM1002 440h8v4h-8zM1102 440h8v4h-8zM674 444h8v4h-8zM966 444h40v4h-40zM1106 444h12v4h-12zM1114 448h12v4h-12zM294 452h20v4h-20zM1122 452h16v4h-16zM258 456h8v4h-8zM294 456h4v4h-4zM1130 456h44v4h-44zM250 460h4v4h-4zM270 460h4v4h-4zM290 460h4v4h-4zM1146 460h28v4h-28zM290 464h4v4h-4zM1166 464h12v4h-12zM270 468h4v4h-4zM1170 468h8v4h-8zM254 472h12v4h-12zM298 472h4v4h-4zM1170 472h8v4h-8zM1170 476h8v4h-8zM1166 480h8v4h-8zM1162 484h12v4h-12zM1142 488h32v4h-32zM1138 492h32v4h-32zM1134 496h32v4h-32zM1130 500h12v4h-12zM1126 504h8v4h-8zM1118 508h8v4h-8zM1070 512h8v4h-8zM1110 512h12v4h-12zM1058 516h48v4h-48zM1054 520h8v4h-8zM1054 524h4v4h-4zM1050 528h8v4h-8zM1050 532h8v4h-8zM1050 536h4v4h-4zM1050 540h4v4h-4zM1046 544h8v4h-8zM1046 548h12v4h-12zM1046 552h16v4h-16zM1046 556h24v4h-24zM1050 560h32v4h-32zM1066 564h28v4h-28zM1082 568h100v4h-100zM1102 572h32v4h-32zM1170 572h16v4h-16zM1182 576h12v4h-12zM1186 580h8v4h-8zM1190 584h8v4h-8zM1194 588h8v4h-8zM1198 592h8v4h-8zM1198 596h8v4h-8zM1198 600h8v4h-8zM1198 604h4v4h-4zM1194 608h8v4h-8zM1194 612h4v4h-4zM1186 616h8v4h-8zM1178 620h8v4h-8zM1158 624h12v4h-12zM1146 628h8v4h-8zM1138 632h8v4h-8zM1130 636h8v4h-8zM1114 640h20v4h-20zM1010 644h40v4h-40zM1094 644h28v4h-28zM1002 648h12v4h-12zM1054 648h48v4h-48zM998 652h8v4h-8zM994 656h8v4h-8zM990 660h4v4h-4zM986 664h4v4h-4zM982 668h8v4h-8zM722 672h8v4h-8zM978 672h8v4h-8zM714 676h28v4h-28zM970 676h8v4h-8zM714 680h4v4h-4zM738 680h12v4h-12zM966 680h8v4h-8zM714 684h8v4h-8zM750 684h12v4h-12zM958 684h8v4h-8zM718 688h8v4h-8zM758 688h12v4h-12zM950 688h8v4h-8zM722 692h8v4h-8zM766 692h8v4h-8zM838 692h28v4h-28zM942 692h8v4h-8zM730 696h8v4h-8zM774 696h8v4h-8zM826 696h12v4h-12zM866 696h4v4h-4zM938 696h8v4h-8zM734 700h8v4h-8zM778 700h20v4h-20zM810 700h20v4h-20zM870 700h4v4h-4zM934 700h8v4h-8zM738 704h4v4h-4zM786 704h32v4h-32zM874 704h4v4h-4zM930 704h8v4h-8zM742 708h4v4h-4zM878 708h4v4h-4zM926 708h8v4h-8zM746 712h4v4h-4zM882 712h4v4h-4zM922 712h8v4h-8zM750 716h8v4h-8zM886 716h4v4h-4zM918 716h8v4h-8zM758 720h16v4h-16zM890 720h32v4h-32zM770 724h16v4h-16zM782 728h8v4h-8zM786 732h8v4h-8zM790 736h8v4h-8zM794 740h8v4h-8zM798 744h8v4h-8zM802 748h4v4h-4zM806 752h4v4h-4zM810 756h8v4h-8zM814 760h8v4h-8zM822 764h4v4h-4zM826 768h8v4h-8zM830 772h8v4h-8zM830 776h12v4h-12zM834 780h8v4h-8zM830 784h12v4h-12zM830 788h8v4h-8zM826 792h8v4h-8zM818 796h8v4h-8zM810 800h8v4h-8zM154 804h616v4h-616zM790 804h16v4h-16z"/>
<path fill="#ff7500" d="M574 104h8v28h-8zM574 132h8v4h-8zM574 136h8v4h-8zM574 140h8v4h-8zM574 144h8v4h-8zM578 148h4v4h-4zM578 152h4v4h-4zM578 156h4v4h-4zM578 160h4v4h-4zM578 164h8v4h-8zM578 168h8v4h-8zM578 172h4v4h-4zM578 176h4v4h-4zM574 180h8v4h-8zM574 184h8v4h-8zM570 188h8v4h-8zM570 192h4v4h-4zM566 196h8v4h-8zM566 200h4v4h-4zM562 204h4v4h-4zM562 208h4v4h-4zM558 216h4v4h-4zM558 220h4v4h-4zM558 224h4v4h-4zM558 228h4v4h-4zM562 236h4v4h-4zM566 240h4v4h-4zM566 244h8v4h-8zM566 248h8v4h-8zM566 252h8v4h-8zM566 256h8v4h-8zM566 260h8v4h-8zM566 264h4v4h-4zM562 268h8v4h-8zM562 272h4v4h-4zM562 276h4v4h-4zM562 280h4v4h-4zM558 284h8v4h-8zM558 288h8v4h-8zM562 292h4v4h-4zM562 296h4v4h-4zM562 300h8v4h-8zM566 304h4v4h-4zM566 308h8v4h-8zM570 312h8v4h-8zM570 316h12v4h-12zM574 320h8v4h-8zM578 324h8v4h-8zM578 328h8v4h-8zM582 332h8v4h-8zM582 336h8v4h-8zM582 340h8v4h-8zM582 344h12v4h-12zM582 348h12v4h-12zM582 352h12v4h-12zM582 356h8v4h-8zM582 360h8v4h-8zM582 364h8v4h-8zM582 368h8v4h-8zM578 372h8v4h-8zM578 376h8v4h-8zM578 380h8v4h-8zM578 384h4v4h-4zM574 388h8v4h-8zM574 392h8v4h-8zM574 396h8v4h-8zM814 396h16v4h-16zM574 400h8v4h-8zM806 400h4v4h-4zM838 400h8v4h-8zM574 404h12v4h-12zM802 404h4v4h-4zM858 404h8v4h-8zM574 408h12v4h-12zM802 408h4v4h-4zM866 408h8v4h-8zM578 412h12v4h-12zM870 412h4v4h-4zM578 416h20v4h-20zM710 416h12v4h-12zM806 416h4v4h-4zM870 416h4v4h-4zM1042 416h28v4h-28zM590 420h20v4h-20zM706 420h24v4h-24zM810 420h4v4h-4zM870 420h8v4h-8zM1034 420h8v4h-8zM1070 420h8v4h-8zM606 424h20v4h-20zM706 424h8v4h-8zM722 424h12v4h-12zM810 424h4v4h-4zM870 424h8v4h-8zM1026 424h8v4h-8zM1078 424h4v4h-4zM622 428h12v4h-12zM702 428h8v4h-8zM730 428h8v4h-8zM806 428h4v4h-4zM878 428h8v4h-8zM1022 428h8v4h-8zM1082 428h4v4h-4zM634 432h8v4h-8zM698 432h8v4h-8zM734 432h8v4h-8zM802 432h4v4h-4zM886 432h8v4h-8zM1018 432h8v4h-8zM1086 432h4v4h-4zM642 436h8v4h-8zM698 436h4v4h-4zM738 436h12v4h-12zM794 436h8v4h-8zM898 436h12v4h-12zM1014 436h8v4h-8zM1090 436h8v4h-8zM646 440h12v4h-12zM690 440h8v4h-8zM746 440h44v4h-44zM910 440h12v4h-12zM1010 440h8v4h-8zM1090 440h12v4h-12zM658 444h16v4h-16zM682 444h12v4h-12zM926 444h40v4h-40zM1006 444h8v4h-8zM1094 444h12v4h-12zM278 448h24v4h-24zM670 448h12v4h-12zM962 448h44v4h-44zM1102 448h12v4h-12zM266 452h28v4h-28zM1110 452h12v4h-12zM254 456h4v4h-4zM266 456h28v4h-28zM318 456h4v4h-4zM1062 456h16v4h-16zM1118 456h12v4h-12zM274 460h16v4h-16zM1054 460h24v4h-24zM1126 460h20v4h-20zM246 464h4v4h-4zM274 464h8v4h-8zM286 464h4v4h-4zM1050 464h28v4h-28zM1130 464h36v4h-36zM246 468h4v4h-4zM274 468h4v4h-4zM290 468h4v4h-4zM1050 468h28v4h-28zM1134 468h36v4h-36zM250 472h4v4h-4zM266 472h4v4h-4zM294 472h4v4h-4zM1050 472h28v4h-28zM1138 472h32v4h-32zM1054 476h20v4h-20zM1138 476h32v4h-32zM1058 480h8v4h-8zM1134 480h32v4h-32zM1134 484h28v4h-28zM1130 488h12v4h-12zM1130 492h8v4h-8zM1126 496h8v4h-8zM1122 500h8v4h-8zM1118 504h8v4h-8zM1058 508h24v4h-24zM1110 508h8v4h-8zM1054 512h16v4h-16zM1078 512h32v4h-32zM1050 516h8v4h-8zM1050 520h4v4h-4zM1046 524h8v4h-8zM1046 528h4v4h-4zM1042 532h8v4h-8zM1042 536h8v4h-8zM1042 540h8v4h-8zM1038 544h8v4h-8zM1038 548h8v4h-8zM1030 552h16v4h-16zM1026 556h20v4h-20zM1018 560h32v4h-32zM1014 564h52v4h-52zM1010 568h72v4h-72zM1010 572h92v4h-92zM1134 572h36v4h-36zM1074 576h84v4h-84zM1162 576h20v4h-20zM1178 580h8v4h-8zM1186 584h4v4h-4zM1190 588h4v4h-4zM1194 592h4v4h-4zM1194 596h4v4h-4zM1194 600h4v4h-4zM1194 604h4v4h-4zM1190 608h4v4h-4zM1186 612h8v4h-8zM1182 616h4v4h-4zM1166 620h12v4h-12zM1150 624h8v4h-8zM1138 628h8v4h-8zM1126 632h12v4h-12zM1106 636h24v4h-24zM1006 640h44v4h-44zM1090 640h24v4h-24zM998 644h12v4h-12zM1050 644h44v4h-44zM994 648h8v4h-8zM990 652h8v4h-8zM986 656h8v4h-8zM982 660h8v4h-8zM978 664h8v4h-8zM974 668h8v4h-8zM710 672h12v4h-12zM730 672h8v4h-8zM970 672h8v4h-8zM710 676h4v4h-4zM742 676h8v4h-8zM962 676h8v4h-8zM710 680h4v4h-4zM750 680h12v4h-12zM954 680h12v4h-12zM710 684h4v4h-4zM762 684h8v4h-8zM942 684h16v4h-16zM714 688h4v4h-4zM770 688h8v4h-8zM842 688h20v4h-20zM938 688h12v4h-12zM718 692h4v4h-4zM774 692h12v4h-12zM826 692h12v4h-12zM866 692h4v4h-4zM934 692h8v4h-8zM726 696h4v4h-4zM782 696h44v4h-44zM870 696h4v4h-4zM930 696h8v4h-8zM730 700h4v4h-4zM798 700h12v4h-12zM874 700h4v4h-4zM926 700h8v4h-8zM734 704h4v4h-4zM878 704h4v4h-4zM922 704h8v4h-8zM738 708h4v4h-4zM882 708h4v4h-4zM918 708h8v4h-8zM742 712h4v4h-4zM886 712h4v4h-4zM914 712h8v4h-8zM746 716h4v4h-4zM890 716h28v4h-28zM750 720h8v4h-8zM762 724h8v4h-8zM770 728h12v4h-12zM778 732h8v4h-8zM786 736h4v4h-4zM790 740h4v4h-4zM794 744h4v4h-4zM798 748h4v4h-4zM802 752h4v4h-4zM806 756h4v4h-4zM810 760h4v4h-4zM818 764h4v4h-4zM822 768h4v4h-4zM822 772h8v4h-8zM826 776h4v4h-4zM826 780h8v4h-8zM826 784h4v4h-4zM822 788h8v4h-8zM818 792h8v4h-8zM814 796h4v4h-4zM802 800h8v4h-8zM770 804h20v4h-20z"/>
<path fill="#ff6a00" d="M566 104h8v28h-8zM566 132h8v4h-8zM566 136h8v4h-8zM566 140h8v4h-8zM566 144h8v4h-8zM570 148h8v4h-8zM570 152h8v4h-8zM570 156h8v4h-8zM570 160h8v4h-8zM570 164h8v4h-8zM570 168h8v4h-8zM570 172h8v4h-8zM570 176h8v4h-8zM570 180h4v4h-4zM566 184h8v4h-8zM566 188h4v4h-4zM562 192h8v4h-8zM562 196h4v4h-4zM558 200h8v4h-8zM558 204h4v4h-4zM558 208h4v4h-4zM554 212h8v4h-8zM554 216h4v4h-4zM554 220h4v4h-4zM554 224h4v4h-4zM554 228h4v4h-4zM558 232h4v4h-4zM558 236h4v4h-4zM558 240h8v4h-8zM558 244h8v4h-8zM562 248h4v4h-4zM562 252h4v4h-4zM558 256h8v4h-8zM558 260h8v4h-8zM558 264h8v4h-8zM558 268h4v4h-4zM554 272h8v4h-8zM554 276h8v4h-8zM554 280h8v4h-8zM554 284h4v4h-4zM554 288h4v4h-4zM554 292h8v4h-8zM554 296h8v4h-8zM558 300h4v4h-4zM558 304h8v4h-8zM558 308h8v4h-8zM562 312h8v4h-8zM562 316h8v4h-8zM566 320h8v4h-8zM566 324h12v4h-12zM570 328h8v4h-8zM570 332h12v4h-12zM574 336h8v4h-8zM574 340h8v4h-8zM574 344h8v4h-8zM574 348h8v4h-8zM574 352h8v4h-8zM574 356h8v4h-8zM574 360h8v4h-8zM574 364h8v4h-8zM574 368h8v4h-8zM570 372h8v4h-8zM570 376h8v4h-8zM570 380h8v4h-8zM570 384h8v4h-8zM566 388h8v4h-8zM566 392h8v4h-8zM566 396h8v4h-8zM566 400h8v4h-8zM834 400h4v4h-4zM566 404h8v4h-8zM846 404h12v4h-12zM562 408h12v4h-12zM862 408h4v4h-4zM562 412h16v4h-16zM806 412h4v4h-4zM862 412h8v4h-8zM562 416h16v4h-16zM810 416h4v4h-4zM862 416h8v4h-8zM566 420h24v4h-24zM814 420h4v4h-4zM862 420h8v4h-8zM1042 420h28v4h-28zM578 424h28v4h-28zM714 424h8v4h-8zM814 424h4v4h-4zM862 424h8v4h-8zM1034 424h8v4h-8zM1066 424h12v4h-12zM610 428h12v4h-12zM710 428h20v4h-20zM810 428h4v4h-4zM866 428h12v4h-12zM1030 428h4v4h-4zM1074 428h8v4h-8zM626 432h8v4h-8zM706 432h12v4h-12zM726 432h8v4h-8zM806 432h4v4h-4zM874 432h12v4h-12zM1026 432h4v4h-4zM1078 432h8v4h-8zM634 436h8v4h-8zM702 436h8v4h-8zM730 436h8v4h-8zM802 436h4v4h-4zM886 436h12v4h-12zM1022 436h8v4h-8zM1078 436h12v4h-12zM642 440h4v4h-4zM698 440h8v4h-8zM738 440h8v4h-8zM790 440h8v4h-8zM898 440h12v4h-12zM1018 440h8v4h-8zM1078 440h12v4h-12zM286 444h4v4h-4zM650 444h8v4h-8zM694 444h8v4h-8zM746 444h32v4h-32zM914 444h12v4h-12zM1014 444h8v4h-8zM1074 444h20v4h-20zM266 448h12v4h-12zM302 448h8v4h-8zM658 448h12v4h-12zM682 448h16v4h-16zM930 448h32v4h-32zM1006 448h12v4h-12zM1058 448h44v4h-44zM258 452h8v4h-8zM314 452h4v4h-4zM674 452h12v4h-12zM954 452h60v4h-60zM1050 452h60v4h-60zM250 456h4v4h-4zM1042 456h20v4h-20zM1078 456h40v4h-40zM246 460h4v4h-4zM1042 460h12v4h-12zM1078 460h16v4h-16zM1110 460h16v4h-16zM282 464h4v4h-4zM322 464h4v4h-4zM1042 464h8v4h-8zM1078 464h12v4h-12zM1118 464h12v4h-12zM278 468h12v4h-12zM1038 468h12v4h-12zM1078 468h8v4h-8zM1122 468h12v4h-12zM270 472h8v4h-8zM290 472h4v4h-4zM318 472h4v4h-4zM1042 472h8v4h-8zM1078 472h8v4h-8zM1126 472h12v4h-12zM302 476h12v4h-12zM1042 476h12v4h-12zM1074 476h8v4h-8zM1126 476h12v4h-12zM1042 480h16v4h-16zM1066 480h16v4h-16zM1126 480h8v4h-8zM1046 484h32v4h-32zM1126 484h8v4h-8zM1050 488h24v4h-24zM1122 488h8v4h-8zM1050 492h24v4h-24zM1122 492h8v4h-8zM1050 496h24v4h-24zM1118 496h8v4h-8zM1050 500h28v4h-28zM1118 500h4v4h-4zM1050 504h36v4h-36zM1110 504h8v4h-8zM1046 508h12v4h-12zM1082 508h28v4h-28zM1046 512h8v4h-8zM1042 516h8v4h-8zM1042 520h8v4h-8zM1042 524h4v4h-4zM1038 528h8v4h-8zM1038 532h4v4h-4zM1034 536h8v4h-8zM1034 540h8v4h-8zM1030 544h8v4h-8zM1026 548h12v4h-12zM1018 552h12v4h-12zM1006 556h20v4h-20zM1002 560h16v4h-16zM994 564h20v4h-20zM986 568h24v4h-24zM986 572h24v4h-24zM986 576h88v4h-88zM1158 576h4v4h-4zM990 580h188v4h-188zM998 584h24v4h-24zM1042 584h80v4h-80zM1178 584h8v4h-8zM1058 588h32v4h-32zM1186 588h4v4h-4zM1066 592h12v4h-12zM1186 592h8v4h-8zM1190 596h4v4h-4zM1190 600h4v4h-4zM1186 604h8v4h-8zM1186 608h4v4h-4zM1182 612h4v4h-4zM1174 616h8v4h-8zM1154 620h12v4h-12zM1138 624h12v4h-12zM1114 628h24v4h-24zM1002 632h24v4h-24zM1094 632h32v4h-32zM998 636h56v4h-56zM1082 636h24v4h-24zM994 640h12v4h-12zM1050 640h40v4h-40zM990 644h8v4h-8zM986 648h8v4h-8zM982 652h8v4h-8zM978 656h8v4h-8zM974 660h8v4h-8zM970 664h8v4h-8zM710 668h24v4h-24zM966 668h8v4h-8zM706 672h4v4h-4zM738 672h8v4h-8zM958 672h12v4h-12zM706 676h4v4h-4zM750 676h12v4h-12zM946 676h16v4h-16zM706 680h4v4h-4zM762 680h8v4h-8zM938 680h16v4h-16zM706 684h4v4h-4zM770 684h8v4h-8zM842 684h16v4h-16zM930 684h12v4h-12zM710 688h4v4h-4zM778 688h12v4h-12zM826 688h16v4h-16zM862 688h8v4h-8zM926 688h12v4h-12zM714 692h4v4h-4zM786 692h40v4h-40zM870 692h8v4h-8zM926 692h8v4h-8zM722 696h4v4h-4zM874 696h8v4h-8zM922 696h8v4h-8zM726 700h4v4h-4zM878 700h4v4h-4zM918 700h8v4h-8zM730 704h4v4h-4zM882 704h4v4h-4zM914 704h8v4h-8zM734 708h4v4h-4zM886 708h8v4h-8zM910 708h8v4h-8zM738 712h4v4h-4zM890 712h24v4h-24zM742 716h4v4h-4zM746 720h4v4h-4zM754 724h8v4h-8zM762 728h8v4h-8zM774 732h4v4h-4zM778 736h8v4h-8zM786 740h4v4h-4zM790 744h4v4h-4zM794 748h4v4h-4zM798 752h4v4h-4zM802 756h4v4h-4zM806 760h4v4h-4zM810 764h8v4h-8zM814 768h8v4h-8zM818 772h4v4h-4zM822 776h4v4h-4zM822 780h4v4h-4zM822 784h4v4h-4zM818 788h4v4h-4zM814 792h4v4h-4zM806 796h8v4h-8zM154 800h608v4h-608zM794 800h8v4h-8z"/>
<path fill="#ff6100" d="M558 104h8v28h-8zM558 132h8v4h-8zM558 136h8v4h-8zM558 140h8v4h-8zM558 144h8v4h-8zM558 148h12v4h-12zM558 152h12v4h-12zM558 156h12v4h-12zM562 160h8v4h-8zM562 164h8v4h-8zM562 168h8v4h-8zM562 172h8v4h-8zM562 176h8v4h-8zM558 180h12v4h-12zM558 184h8v4h-8zM558 188h8v4h-8zM554 192h8v4h-8zM554 196h8v4h-8zM554 200h4v4h-4zM554 204h4v4h-4zM550 208h8v4h-8zM550 212h4v4h-4zM550 216h4v4h-4zM550 220h4v4h-4zM550 224h4v4h-4zM550 228h4v4h-4zM550 232h8v4h-8zM554 236h4v4h-4zM554 240h4v4h-4zM554 244h4v4h-4zM554 248h8v4h-8zM554 252h8v4h-8zM554 256h4v4h-4zM550 260h8v4h-8zM550 264h8v4h-8zM550 268h8v4h-8zM550 272h4v4h-4zM550 276h4v4h-4zM550 280h4v4h-4zM546 284h8v4h-8zM546 288h8v4h-8zM550 292h4v4h-4zM550 296h4v4h-4zM550 300h8v4h-8zM550 304h8v4h-8zM550 308h8v4h-8zM554 312h8v4h-8zM554 316h8v4h-8zM554 320h12v4h-12zM558 324h8v4h-8zM558 328h12v4h-12zM562 332h8v4h-8zM562 336h12v4h-12zM562 340h12v4h-12zM562 344h12v4h-12zM562 348h12v4h-12zM566 352h8v4h-8zM566 356h8v4h-8zM562 360h12v4h-12zM562 364h12v4h-12zM562 368h12v4h-12zM562 372h8v4h-8zM562 376h8v4h-8zM562 380h8v4h-8zM558 384h12v4h-12zM558 388h8v4h-8zM558 392h8v4h-8zM558 396h8v4h-8zM554 400h12v4h-12zM810 400h4v4h-4zM830 400h4v4h-4zM554 404h12v4h-12zM806 404h4v4h-4zM842 404h4v4h-4zM550 408h12v4h-12zM806 408h4v4h-4zM850 408h12v4h-12zM550 412h12v4h-12zM858 412h4v4h-4zM550 416h12v4h-12zM814 416h4v4h-4zM854 416h8v4h-8zM550 420h16v4h-16zM818 420h4v4h-4zM854 420h8v4h-8zM554 424h24v4h-24zM818 424h4v4h-4zM850 424h12v4h-12zM1042 424h24v4h-24zM566 428h44v4h-44zM814 428h8v4h-8zM854 428h12v4h-12zM1034 428h16v4h-16zM1058 428h16v4h-16zM610 432h16v4h-16zM718 432h8v4h-8zM810 432h8v4h-8zM862 432h12v4h-12zM1030 432h12v4h-12zM1066 432h12v4h-12zM626 436h8v4h-8zM710 436h20v4h-20zM806 436h8v4h-8zM870 436h16v4h-16zM1030 436h8v4h-8zM1066 436h12v4h-12zM634 440h8v4h-8zM706 440h12v4h-12zM726 440h12v4h-12zM798 440h8v4h-8zM886 440h12v4h-12zM1026 440h12v4h-12zM1062 440h16v4h-16zM274 444h12v4h-12zM290 444h12v4h-12zM642 444h8v4h-8zM702 444h8v4h-8zM734 444h12v4h-12zM778 444h16v4h-16zM902 444h12v4h-12zM1022 444h52v4h-52zM258 448h8v4h-8zM310 448h4v4h-4zM650 448h8v4h-8zM698 448h8v4h-8zM742 448h24v4h-24zM918 448h12v4h-12zM1018 448h40v4h-40zM250 452h8v4h-8zM658 452h16v4h-16zM686 452h12v4h-12zM934 452h20v4h-20zM1014 452h36v4h-36zM246 456h4v4h-4zM674 456h12v4h-12zM950 456h92v4h-92zM242 460h4v4h-4zM322 460h4v4h-4zM966 460h20v4h-20zM1010 460h32v4h-32zM1094 460h16v4h-16zM242 464h4v4h-4zM1022 464h20v4h-20zM1090 464h28v4h-28zM242 468h4v4h-4zM322 468h4v4h-4zM1026 468h12v4h-12zM1086 468h16v4h-16zM1106 468h16v4h-16zM246 472h4v4h-4zM278 472h12v4h-12zM1030 472h12v4h-12zM1086 472h8v4h-8zM1114 472h12v4h-12zM254 476h20v4h-20zM294 476h8v4h-8zM314 476h4v4h-4zM1030 476h12v4h-12zM1082 476h8v4h-8zM1118 476h8v4h-8zM1034 480h8v4h-8zM1082 480h4v4h-4zM1118 480h8v4h-8zM1034 484h12v4h-12zM1078 484h8v4h-8zM1118 484h8v4h-8zM1034 488h16v4h-16zM1074 488h8v4h-8zM1118 488h4v4h-4zM1038 492h12v4h-12zM1074 492h12v4h-12zM1114 492h8v4h-8zM1038 496h12v4h-12zM1074 496h12v4h-12zM1114 496h4v4h-4zM1038 500h12v4h-12zM1078 500h12v4h-12zM1106 500h12v4h-12zM1038 504h12v4h-12zM1086 504h24v4h-24zM1038 508h8v4h-8zM1038 512h8v4h-8zM1034 516h8v4h-8zM1034 520h8v4h-8zM1034 524h8v4h-8zM1030 528h8v4h-8zM1030 532h8v4h-8zM1026 536h8v4h-8zM1022 540h12v4h-12zM1018 544h12v4h-12zM1010 548h16v4h-16zM1002 552h16v4h-16zM994 556h12v4h-12zM982 560h20v4h-20zM974 564h20v4h-20zM970 568h16v4h-16zM970 572h16v4h-16zM970 576h16v4h-16zM974 580h16v4h-16zM978 584h20v4h-20zM1022 584h20v4h-20zM1122 584h56v4h-56zM986 588h72v4h-72zM1090 588h44v4h-44zM1178 588h8v4h-8zM994 592h20v4h-20zM1046 592h20v4h-20zM1078 592h32v4h-32zM1182 592h4v4h-4zM1050 596h48v4h-48zM1182 596h8v4h-8zM1054 600h40v4h-40zM1186 600h4v4h-4zM1058 604h32v4h-32zM1182 604h4v4h-4zM1058 608h32v4h-32zM1178 608h8v4h-8zM1062 612h24v4h-24zM1174 612h8v4h-8zM1062 616h24v4h-24zM1158 616h16v4h-16zM1066 620h28v4h-28zM1130 620h24v4h-24zM998 624h20v4h-20zM1074 624h64v4h-64zM994 628h52v4h-52zM1066 628h48v4h-48zM990 632h12v4h-12zM1026 632h68v4h-68zM986 636h12v4h-12zM1054 636h28v4h-28zM986 640h8v4h-8zM982 644h8v4h-8zM978 648h8v4h-8zM974 652h8v4h-8zM970 656h8v4h-8zM966 660h8v4h-8zM718 664h4v4h-4zM958 664h12v4h-12zM706 668h4v4h-4zM734 668h8v4h-8zM942 668h24v4h-24zM702 672h4v4h-4zM746 672h12v4h-12zM934 672h24v4h-24zM702 676h4v4h-4zM762 676h8v4h-8zM926 676h20v4h-20zM702 680h4v4h-4zM770 680h12v4h-12zM842 680h16v4h-16zM922 680h16v4h-16zM702 684h4v4h-4zM778 684h16v4h-16zM822 684h20v4h-20zM858 684h12v4h-12zM922 684h8v4h-8zM706 688h4v4h-4zM790 688h36v4h-36zM870 688h8v4h-8zM918 688h8v4h-8zM710 692h4v4h-4zM878 692h4v4h-4zM914 692h12v4h-12zM714 696h8v4h-8zM882 696h4v4h-4zM914 696h8v4h-8zM722 700h4v4h-4zM882 700h8v4h-8zM910 700h8v4h-8zM726 704h4v4h-4zM886 704h12v4h-12zM906 704h8v4h-8zM730 708h4v4h-4zM894 708h16v4h-16zM734 712h4v4h-4zM738 716h4v4h-4zM742 720h4v4h-4zM746 724h8v4h-8zM758 728h4v4h-4zM766 732h8v4h-8zM774 736h4v4h-4zM778 740h8v4h-8zM786 744h4v4h-4zM790 748h4v4h-4zM794 752h4v4h-4zM798 756h4v4h-4zM802 760h4v4h-4zM806 764h4v4h-4zM810 768h4v4h-4zM814 772h4v4h-4zM818 776h4v4h-4zM818 780h4v4h-4zM814 784h8v4h-8zM814 788h4v4h-4zM810 792h4v4h-4zM802 796h4v4h-4zM762 800h32v4h-32z"/>
<path fill="#ff5800" d="M546 104h12v28h-12zM546 132h12v4h-12zM546 136h12v4h-12zM546 140h12v4h-12zM546 144h12v4h-12zM546 148h12v4h-12zM546 152h12v4h-12zM550 156h8v4h-8zM550 160h12v4h-12zM550 164h12v4h-12zM550 168h12v4h-12zM550 172h12v4h-12zM550 176h12v4h-12zM550 180h8v4h-8zM550 184h8v4h-8zM550 188h8v4h-8zM550 192h4v4h-4zM546 196h8v4h-8zM546 200h8v4h-8zM546 204h8v4h-8zM546 208h4v4h-4zM546 212h4v4h-4zM546 216h4v4h-4zM546 220h4v4h-4zM546 224h4v4h-4zM546 228h4v4h-4zM546 232h4v4h-4zM546 236h8v4h-8zM546 240h8v4h-8zM546 244h8v4h-8zM546 248h8v4h-8zM546 252h8v4h-8zM546 256h8v4h-8zM542 260h8v4h-8zM542 264h8v4h-8zM542 268h8v4h-8zM542 272h8v4h-8zM542 276h8v4h-8zM542 280h8v4h-8zM542 284h4v4h-4zM542 288h4v4h-4zM542 292h8v4h-8zM542 296h8v4h-8zM542 300h8v4h-8zM542 304h8v4h-8zM542 308h8v4h-8zM542 312h12v4h-12zM546 316h8v4h-8zM546 320h8v4h-8zM546 324h12v4h-12zM546 328h12v4h-12zM550 332h12v4h-12zM550 336h12v4h-12zM550 340h12v4h-12zM550 344h12v4h-12zM550 348h12v4h-12zM550 352h16v4h-16zM554 356h12v4h-12zM554 360h8v4h-8zM554 364h8v4h-8zM554 368h8v4h-8zM554 372h8v4h-8zM554 376h8v4h-8zM550 380h12v4h-12zM550 384h8v4h-8zM550 388h8v4h-8zM550 392h8v4h-8zM550 396h8v4h-8zM546 400h8v4h-8zM814 400h4v4h-4zM826 400h4v4h-4zM546 404h8v4h-8zM838 404h4v4h-4zM542 408h8v4h-8zM842 408h8v4h-8zM542 412h8v4h-8zM810 412h4v4h-4zM846 412h12v4h-12zM538 416h12v4h-12zM818 416h4v4h-4zM846 416h8v4h-8zM538 420h12v4h-12zM822 420h32v4h-32zM542 424h12v4h-12zM822 424h28v4h-28zM546 428h20v4h-20zM822 428h32v4h-32zM1050 428h8v4h-8zM558 432h52v4h-52zM818 432h8v4h-8zM846 432h16v4h-16zM1042 432h24v4h-24zM614 436h12v4h-12zM814 436h4v4h-4zM854 436h16v4h-16zM1038 436h28v4h-28zM626 440h8v4h-8zM718 440h8v4h-8zM806 440h8v4h-8zM866 440h20v4h-20zM1038 440h24v4h-24zM262 444h12v4h-12zM302 444h8v4h-8zM634 444h8v4h-8zM710 444h24v4h-24zM794 444h12v4h-12zM890 444h12v4h-12zM250 448h8v4h-8zM314 448h4v4h-4zM642 448h8v4h-8zM706 448h12v4h-12zM730 448h12v4h-12zM766 448h12v4h-12zM906 448h12v4h-12zM246 452h4v4h-4zM318 452h4v4h-4zM650 452h8v4h-8zM698 452h12v4h-12zM738 452h24v4h-24zM918 452h16v4h-16zM242 456h4v4h-4zM322 456h4v4h-4zM658 456h16v4h-16zM686 456h16v4h-16zM934 456h16v4h-16zM682 460h4v4h-4zM946 460h20v4h-20zM986 460h24v4h-24zM238 464h4v4h-4zM954 464h68v4h-68zM238 468h4v4h-4zM414 468h4v4h-4zM1010 468h16v4h-16zM1102 468h4v4h-4zM242 472h4v4h-4zM414 472h4v4h-4zM1018 472h12v4h-12zM1094 472h20v4h-20zM246 476h8v4h-8zM274 476h20v4h-20zM1018 476h12v4h-12zM1090 476h28v4h-28zM1022 480h12v4h-12zM1086 480h32v4h-32zM1022 484h12v4h-12zM1086 484h8v4h-8zM1110 484h8v4h-8zM1026 488h8v4h-8zM1082 488h12v4h-12zM1110 488h8v4h-8zM1026 492h12v4h-12zM1086 492h8v4h-8zM1106 492h8v4h-8zM1026 496h12v4h-12zM1086 496h28v4h-28zM1026 500h12v4h-12zM1090 500h16v4h-16zM1030 504h8v4h-8zM1030 508h8v4h-8zM1026 512h12v4h-12zM1026 516h8v4h-8zM1026 520h8v4h-8zM1026 524h8v4h-8zM1022 528h8v4h-8zM1018 532h12v4h-12zM1014 536h12v4h-12zM1010 540h12v4h-12zM1006 544h12v4h-12zM998 548h12v4h-12zM990 552h12v4h-12zM978 556h16v4h-16zM966 560h16v4h-16zM962 564h12v4h-12zM958 568h12v4h-12zM958 572h12v4h-12zM958 576h12v4h-12zM962 580h12v4h-12zM970 584h8v4h-8zM974 588h12v4h-12zM1134 588h44v4h-44zM982 592h12v4h-12zM1014 592h32v4h-32zM1110 592h36v4h-36zM1174 592h8v4h-8zM986 596h64v4h-64zM1098 596h36v4h-36zM1178 596h4v4h-4zM986 600h32v4h-32zM1042 600h12v4h-12zM1094 600h28v4h-28zM1178 600h8v4h-8zM990 604h28v4h-28zM1046 604h12v4h-12zM1090 604h28v4h-28zM1178 604h4v4h-4zM990 608h28v4h-28zM1046 608h12v4h-12zM1090 608h28v4h-28zM1174 608h4v4h-4zM990 612h28v4h-28zM1046 612h16v4h-16zM1086 612h44v4h-44zM1158 612h16v4h-16zM990 616h32v4h-32zM1046 616h16v4h-16zM1086 616h72v4h-72zM990 620h76v4h-76zM1094 620h36v4h-36zM986 624h12v4h-12zM1018 624h56v4h-56zM986 628h8v4h-8zM1046 628h20v4h-20zM982 632h8v4h-8zM982 636h4v4h-4zM978 640h8v4h-8zM974 644h8v4h-8zM970 648h8v4h-8zM966 652h8v4h-8zM958 656h12v4h-12zM930 660h36v4h-36zM706 664h12v4h-12zM722 664h12v4h-12zM926 664h32v4h-32zM702 668h4v4h-4zM742 668h12v4h-12zM922 668h20v4h-20zM698 672h4v4h-4zM758 672h16v4h-16zM918 672h16v4h-16zM698 676h4v4h-4zM770 676h20v4h-20zM826 676h32v4h-32zM914 676h12v4h-12zM698 680h4v4h-4zM782 680h60v4h-60zM858 680h16v4h-16zM914 680h8v4h-8zM794 684h28v4h-28zM870 684h8v4h-8zM910 684h12v4h-12zM702 688h4v4h-4zM878 688h4v4h-4zM910 688h8v4h-8zM706 692h4v4h-4zM882 692h8v4h-8zM906 692h8v4h-8zM710 696h4v4h-4zM886 696h8v4h-8zM902 696h12v4h-12zM718 700h4v4h-4zM890 700h20v4h-20zM722 704h4v4h-4zM898 704h8v4h-8zM726 708h4v4h-4zM730 712h4v4h-4zM734 716h4v4h-4zM738 720h4v4h-4zM742 724h4v4h-4zM750 728h8v4h-8zM762 732h4v4h-4zM770 736h4v4h-4zM774 740h4v4h-4zM778 744h8v4h-8zM786 748h4v4h-4zM790 752h4v4h-4zM794 756h4v4h-4zM810 772h4v4h-4zM814 776h4v4h-4zM814 780h4v4h-4zM810 784h4v4h-4zM810 788h4v4h-4zM806 792h4v4h-4zM694 796h64v4h-64zM798 796h4v4h-4z"/>
<path fill="#ff4f00" d="M522 104h24v28h-24zM522 132h24v4h-24zM526 136h20v4h-20zM530 140h16v4h-16zM530 144h16v4h-16zM534 148h12v4h-12zM534 152h12v4h-12zM538 156h12v4h-12zM538 160h12v4h-12zM542 164h8v4h-8zM542 168h8v4h-8zM542 172h8v4h-8zM542 176h8v4h-8zM542 180h8v4h-8zM542 184h8v4h-8zM542 188h8v4h-8zM542 192h8v4h-8zM542 196h4v4h-4zM538 200h8v4h-8zM538 204h8v4h-8zM538 208h8v4h-8zM538 212h8v4h-8zM538 216h8v4h-8zM538 220h8v4h-8zM538 224h8v4h-8zM538 228h8v4h-8zM538 232h8v4h-8zM538 236h8v4h-8zM538 240h8v4h-8zM538 244h8v4h-8zM538 248h8v4h-8zM538 252h8v4h-8zM534 256h12v4h-12zM534 260h8v4h-8zM534 264h8v4h-8zM534 268h8v4h-8zM534 272h8v4h-8zM534 276h8v4h-8zM530 280h12v4h-12zM530 284h12v4h-12zM530 288h12v4h-12zM530 292h12v4h-12zM530 296h12v4h-12zM530 300h12v4h-12zM530 304h12v4h-12zM530 308h12v4h-12zM530 312h12v4h-12zM534 316h12v4h-12zM534 320h12v4h-12zM534 324h12v4h-12zM534 328h12v4h-12zM534 332h16v4h-16zM538 336h12v4h-12zM538 340h12v4h-12zM538 344h12v4h-12zM538 348h12v4h-12zM542 352h8v4h-8zM542 356h12v4h-12zM542 360h12v4h-12zM542 364h12v4h-12zM542 368h12v4h-12zM542 372h12v4h-12zM542 376h12v4h-12zM542 380h8v4h-8zM542 384h8v4h-8zM542 388h8v4h-8zM542 392h8v4h-8zM542 396h8v4h-8zM538 400h8v4h-8zM818 400h8v4h-8zM538 404h8v4h-8zM810 404h4v4h-4zM834 404h4v4h-4zM534 408h8v4h-8zM810 408h4v4h-4zM838 408h4v4h-4zM530 412h12v4h-12zM814 412h4v4h-4zM838 412h8v4h-8zM530 416h8v4h-8zM822 416h24v4h-24zM530 420h8v4h-8zM530 424h12v4h-12zM154 428h28v4h-28zM534 428h12v4h-12zM154 432h32v4h-32zM542 432h16v4h-16zM826 432h20v4h-20zM154 436h32v4h-32zM558 436h56v4h-56zM818 436h36v4h-36zM154 440h32v4h-32zM278 440h28v4h-28zM622 440h4v4h-4zM814 440h12v4h-12zM842 440h24v4h-24zM258 444h4v4h-4zM310 444h4v4h-4zM630 444h4v4h-4zM806 444h12v4h-12zM850 444h40v4h-40zM246 448h4v4h-4zM638 448h4v4h-4zM718 448h12v4h-12zM778 448h16v4h-16zM894 448h12v4h-12zM242 452h4v4h-4zM642 452h8v4h-8zM710 452h28v4h-28zM762 452h8v4h-8zM910 452h8v4h-8zM238 456h4v4h-4zM650 456h8v4h-8zM702 456h56v4h-56zM918 456h16v4h-16zM238 460h4v4h-4zM658 460h24v4h-24zM686 460h28v4h-28zM930 460h16v4h-16zM234 464h4v4h-4zM414 464h4v4h-4zM938 464h16v4h-16zM234 468h4v4h-4zM410 468h4v4h-4zM418 468h4v4h-4zM946 468h64v4h-64zM238 472h4v4h-4zM322 472h4v4h-4zM410 472h4v4h-4zM418 472h4v4h-4zM954 472h64v4h-64zM242 476h4v4h-4zM318 476h4v4h-4zM966 476h8v4h-8zM1006 476h12v4h-12zM254 480h56v4h-56zM1010 480h12v4h-12zM1014 484h8v4h-8zM1094 484h16v4h-16zM1018 488h8v4h-8zM1094 488h16v4h-16zM1018 492h8v4h-8zM1094 492h12v4h-12zM1018 496h8v4h-8zM1018 500h8v4h-8zM1018 504h12v4h-12zM1018 508h12v4h-12zM1018 512h8v4h-8zM1018 516h8v4h-8zM1018 520h8v4h-8zM1014 524h12v4h-12zM1010 528h12v4h-12zM1010 532h8v4h-8zM1002 536h12v4h-12zM998 540h12v4h-12zM994 544h12v4h-12zM986 548h12v4h-12zM978 552h12v4h-12zM962 556h16v4h-16zM954 560h12v4h-12zM950 564h12v4h-12zM950 568h8v4h-8zM950 572h8v4h-8zM950 576h8v4h-8zM954 580h8v4h-8zM958 584h12v4h-12zM966 588h8v4h-8zM974 592h8v4h-8zM1146 592h28v4h-28zM978 596h8v4h-8zM1134 596h20v4h-20zM1166 596h12v4h-12zM978 600h8v4h-8zM1018 600h24v4h-24zM1122 600h28v4h-28zM1170 600h8v4h-8zM982 604h8v4h-8zM1018 604h28v4h-28zM1118 604h36v4h-36zM1166 604h12v4h-12zM982 608h8v4h-8zM1018 608h28v4h-28zM1118 608h56v4h-56zM982 612h8v4h-8zM1018 612h28v4h-28zM1130 612h28v4h-28zM982 616h8v4h-8zM1022 616h24v4h-24zM982 620h8v4h-8zM982 624h4v4h-4zM978 628h8v4h-8zM978 632h4v4h-4zM974 636h8v4h-8zM818 640h8v4h-8zM970 640h8v4h-8zM806 644h28v4h-28zM966 644h8v4h-8zM802 648h32v4h-32zM922 648h24v4h-24zM958 648h12v4h-12zM798 652h40v4h-40zM918 652h48v4h-48zM798 656h40v4h-40zM914 656h44v4h-44zM798 660h36v4h-36zM914 660h16v4h-16zM698 664h8v4h-8zM734 664h12v4h-12zM798 664h40v4h-40zM910 664h16v4h-16zM694 668h8v4h-8zM754 668h92v4h-92zM910 668h12v4h-12zM694 672h4v4h-4zM774 672h92v4h-92zM906 672h12v4h-12zM694 676h4v4h-4zM790 676h36v4h-36zM858 676h20v4h-20zM906 676h8v4h-8zM694 680h4v4h-4zM874 680h8v4h-8zM902 680h12v4h-12zM698 684h4v4h-4zM878 684h32v4h-32zM698 688h4v4h-4zM882 688h28v4h-28zM702 692h4v4h-4zM890 692h16v4h-16zM894 696h8v4h-8zM714 700h4v4h-4zM718 704h4v4h-4zM722 708h4v4h-4zM726 712h4v4h-4zM730 716h4v4h-4zM734 720h4v4h-4zM738 724h4v4h-4zM746 728h4v4h-4zM754 732h8v4h-8zM762 736h8v4h-8zM770 740h4v4h-4zM774 744h4v4h-4zM782 748h4v4h-4zM786 752h4v4h-4zM798 760h4v4h-4zM802 764h4v4h-4zM806 768h4v4h-4zM806 772h4v4h-4zM810 776h4v4h-4zM810 780h4v4h-4zM806 784h4v4h-4zM806 788h4v4h-4zM802 792h4v4h-4zM154 796h540v4h-540zM758 796h20v4h-20zM782 796h16v4h-16z"/>
<path fill="#ff4700" d="M486 104h36v28h-36zM486 132h36v4h-36zM490 136h36v4h-36zM498 140h32v4h-32zM506 144h24v4h-24zM514 148h20v4h-20zM522 152h12v4h-12zM526 156h12v4h-12zM530 160h8v4h-8zM530 164h12v4h-12zM534 168h8v4h-8zM534 172h8v4h-8zM534 176h8v4h-8zM534 180h8v4h-8zM534 184h8v4h-8zM534 188h8v4h-8zM534 192h8v4h-8zM534 196h8v4h-8zM534 200h4v4h-4zM530 204h8v4h-8zM530 208h8v4h-8zM530 212h8v4h-8zM526 216h12v4h-12zM526 220h12v4h-12zM526 224h12v4h-12zM526 228h12v4h-12zM526 232h12v4h-12zM446 236h12v4h-12zM526 236h12v4h-12zM446 240h16v4h-16zM526 240h12v4h-12zM450 244h12v4h-12zM526 244h12v4h-12zM526 248h12v4h-12zM526 252h12v4h-12zM526 256h8v4h-8zM526 260h8v4h-8zM522 264h12v4h-12zM522 268h12v4h-12zM522 272h12v4h-12zM522 276h12v4h-12zM518 280h12v4h-12zM518 284h12v4h-12zM518 288h12v4h-12zM514 292h16v4h-16zM514 296h16v4h-16zM514 300h16v4h-16zM514 304h16v4h-16zM514 308h16v4h-16zM514 312h16v4h-16zM518 316h16v4h-16zM518 320h16v4h-16zM442 324h16v4h-16zM518 324h16v4h-16zM430 328h32v4h-32zM518 328h16v4h-16zM426 332h32v4h-32zM522 332h12v4h-12zM426 336h32v4h-32zM522 336h16v4h-16zM430 340h20v4h-20zM522 340h16v4h-16zM526 344h12v4h-12zM526 348h12v4h-12zM530 352h12v4h-12zM530 356h12v4h-12zM530 360h12v4h-12zM534 364h8v4h-8zM534 368h8v4h-8zM534 372h8v4h-8zM538 376h4v4h-4zM538 380h4v4h-4zM538 384h4v4h-4zM538 388h4v4h-4zM534 392h8v4h-8zM534 396h8v4h-8zM534 400h4v4h-4zM530 404h8v4h-8zM830 404h4v4h-4zM526 408h8v4h-8zM834 408h4v4h-4zM526 412h4v4h-4zM818 412h4v4h-4zM830 412h8v4h-8zM522 416h8v4h-8zM522 420h8v4h-8zM154 424h36v4h-36zM522 424h8v4h-8zM182 428h12v4h-12zM526 428h8v4h-8zM186 432h8v4h-8zM530 432h12v4h-12zM186 436h12v4h-12zM538 436h20v4h-20zM186 440h12v4h-12zM266 440h12v4h-12zM306 440h4v4h-4zM558 440h64v4h-64zM826 440h16v4h-16zM154 444h44v4h-44zM250 444h8v4h-8zM314 444h4v4h-4zM622 444h8v4h-8zM818 444h32v4h-32zM182 448h8v4h-8zM238 448h8v4h-8zM318 448h4v4h-4zM630 448h8v4h-8zM794 448h100v4h-100zM234 452h8v4h-8zM322 452h4v4h-4zM638 452h4v4h-4zM770 452h12v4h-12zM826 452h48v4h-48zM898 452h12v4h-12zM230 456h8v4h-8zM646 456h4v4h-4zM758 456h12v4h-12zM834 456h28v4h-28zM910 456h8v4h-8zM230 460h8v4h-8zM326 460h4v4h-4zM650 460h8v4h-8zM714 460h48v4h-48zM842 460h8v4h-8zM918 460h12v4h-12zM226 464h8v4h-8zM326 464h4v4h-4zM410 464h4v4h-4zM418 464h4v4h-4zM662 464h92v4h-92zM926 464h12v4h-12zM226 468h8v4h-8zM326 468h4v4h-4zM406 468h4v4h-4zM690 468h52v4h-52zM934 468h12v4h-12zM226 472h12v4h-12zM406 472h4v4h-4zM706 472h32v4h-32zM942 472h12v4h-12zM230 476h12v4h-12zM322 476h4v4h-4zM410 476h12v4h-12zM710 476h24v4h-24zM946 476h20v4h-20zM974 476h32v4h-32zM242 480h12v4h-12zM310 480h8v4h-8zM714 480h20v4h-20zM950 480h60v4h-60zM714 484h20v4h-20zM954 484h28v4h-28zM1002 484h12v4h-12zM714 488h20v4h-20zM962 488h12v4h-12zM1006 488h12v4h-12zM718 492h16v4h-16zM1010 492h8v4h-8zM722 496h4v4h-4zM1010 496h8v4h-8zM1010 500h8v4h-8zM1010 504h8v4h-8zM1010 508h8v4h-8zM1010 512h8v4h-8zM1010 516h8v4h-8zM914 520h16v4h-16zM1006 520h12v4h-12zM914 524h24v4h-24zM1006 524h8v4h-8zM914 528h24v4h-24zM1002 528h8v4h-8zM914 532h24v4h-24zM998 532h12v4h-12zM914 536h28v4h-28zM994 536h8v4h-8zM918 540h24v4h-24zM990 540h8v4h-8zM922 544h20v4h-20zM986 544h8v4h-8zM926 548h16v4h-16zM978 548h8v4h-8zM930 552h48v4h-48zM938 556h24v4h-24zM938 560h16v4h-16zM942 564h8v4h-8zM942 568h8v4h-8zM942 572h8v4h-8zM946 576h4v4h-4zM946 580h8v4h-8zM950 584h8v4h-8zM958 588h8v4h-8zM962 592h12v4h-12zM970 596h8v4h-8zM1154 596h12v4h-12zM974 600h4v4h-4zM1150 600h20v4h-20zM974 604h8v4h-8zM1154 604h12v4h-12zM978 608h4v4h-4zM978 612h4v4h-4zM978 616h4v4h-4zM974 620h8v4h-8zM974 624h8v4h-8zM970 628h8v4h-8zM966 632h12v4h-12zM810 636h28v4h-28zM914 636h28v4h-28zM962 636h12v4h-12zM802 640h16v4h-16zM826 640h16v4h-16zM910 640h60v4h-60zM798 644h8v4h-8zM834 644h8v4h-8zM906 644h60v4h-60zM790 648h12v4h-12zM834 648h12v4h-12zM906 648h16v4h-16zM946 648h12v4h-12zM790 652h8v4h-8zM838 652h8v4h-8zM902 652h16v4h-16zM786 656h12v4h-12zM838 656h12v4h-12zM902 656h12v4h-12zM702 660h32v4h-32zM782 660h16v4h-16zM834 660h20v4h-20zM898 660h16v4h-16zM694 664h4v4h-4zM746 664h52v4h-52zM838 664h24v4h-24zM898 664h12v4h-12zM690 668h4v4h-4zM846 668h32v4h-32zM894 668h16v4h-16zM690 672h4v4h-4zM866 672h40v4h-40zM690 676h4v4h-4zM878 676h28v4h-28zM882 680h20v4h-20zM694 684h4v4h-4zM706 696h4v4h-4zM710 700h4v4h-4zM714 704h4v4h-4zM718 708h4v4h-4zM722 712h4v4h-4zM726 716h4v4h-4zM730 720h4v4h-4zM734 724h4v4h-4zM738 728h8v4h-8zM746 732h8v4h-8zM758 736h4v4h-4zM766 740h4v4h-4zM770 744h4v4h-4zM778 748h4v4h-4zM782 752h4v4h-4zM790 756h4v4h-4zM794 760h4v4h-4zM798 764h4v4h-4zM802 768h4v4h-4zM806 776h4v4h-4zM806 780h4v4h-4zM802 788h4v4h-4zM154 792h604v4h-604zM794 792h8v4h-8zM778 796h4v4h-4z"/>
<path fill="#ff3e00" d="M450 104h36v28h-36zM450 132h36v4h-36zM454 136h36v4h-36zM458 140h40v4h-40zM462 144h44v4h-44zM462 148h52v4h-52zM466 152h56v4h-56zM470 156h24v4h-24zM510 156h16v4h-16zM474 160h12v4h-12zM518 160h12v4h-12zM522 164h8v4h-8zM526 168h8v4h-8zM526 172h8v4h-8zM530 176h4v4h-4zM530 180h4v4h-4zM530 184h4v4h-4zM530 188h4v4h-4zM526 192h8v4h-8zM526 196h8v4h-8zM522 200h12v4h-12zM522 204h8v4h-8zM514 208h16v4h-16zM378 212h4v4h-4zM470 212h16v4h-16zM510 212h20v4h-20zM366 216h20v4h-20zM462 216h64v4h-64zM362 220h24v4h-24zM442 220h84v4h-84zM358 224h24v4h-24zM434 224h92v4h-92zM366 228h8v4h-8zM430 228h96v4h-96zM430 232h96v4h-96zM430 236h16v4h-16zM458 236h68v4h-68zM430 240h16v4h-16zM462 240h64v4h-64zM434 244h16v4h-16zM462 244h64v4h-64zM438 248h88v4h-88zM442 252h84v4h-84zM450 256h76v4h-76zM458 260h68v4h-68zM466 264h56v4h-56zM470 268h52v4h-52zM326 272h20v4h-20zM470 272h52v4h-52zM322 276h28v4h-28zM474 276h48v4h-48zM318 280h36v4h-36zM474 280h44v4h-44zM318 284h40v4h-40zM474 284h44v4h-44zM318 288h40v4h-40zM474 288h44v4h-44zM322 292h36v4h-36zM474 292h40v4h-40zM326 296h32v4h-32zM474 296h40v4h-40zM334 300h20v4h-20zM470 300h44v4h-44zM466 304h48v4h-48zM462 308h52v4h-52zM458 312h56v4h-56zM438 316h80v4h-80zM422 320h96v4h-96zM414 324h28v4h-28zM458 324h60v4h-60zM410 328h20v4h-20zM462 328h56v4h-56zM410 332h16v4h-16zM458 332h64v4h-64zM406 336h20v4h-20zM458 336h64v4h-64zM398 340h32v4h-32zM450 340h72v4h-72zM394 344h88v4h-88zM506 344h20v4h-20zM390 348h84v4h-84zM510 348h16v4h-16zM394 352h68v4h-68zM514 352h16v4h-16zM398 356h52v4h-52zM518 356h12v4h-12zM522 360h8v4h-8zM522 364h12v4h-12zM526 368h8v4h-8zM526 372h8v4h-8zM530 376h8v4h-8zM530 380h8v4h-8zM530 384h8v4h-8zM530 388h8v4h-8zM530 392h4v4h-4zM530 396h4v4h-4zM526 400h8v4h-8zM526 404h4v4h-4zM814 404h4v4h-4zM826 404h4v4h-4zM522 408h4v4h-4zM814 408h4v4h-4zM830 408h4v4h-4zM518 412h8v4h-8zM822 412h8v4h-8zM154 416h28v4h-28zM514 416h8v4h-8zM154 420h40v4h-40zM510 420h12v4h-12zM190 424h8v4h-8zM510 424h12v4h-12zM194 428h4v4h-4zM514 428h12v4h-12zM194 432h8v4h-8zM518 432h12v4h-12zM198 436h4v4h-4zM282 436h24v4h-24zM526 436h12v4h-12zM198 440h8v4h-8zM262 440h4v4h-4zM310 440h4v4h-4zM538 440h20v4h-20zM198 444h12v4h-12zM246 444h4v4h-4zM318 444h4v4h-4zM562 444h32v4h-32zM614 444h8v4h-8zM154 448h28v4h-28zM190 448h24v4h-24zM230 448h8v4h-8zM322 448h4v4h-4zM626 448h4v4h-4zM154 452h80v4h-80zM634 452h4v4h-4zM782 452h44v4h-44zM874 452h24v4h-24zM210 456h20v4h-20zM326 456h4v4h-4zM638 456h8v4h-8zM770 456h8v4h-8zM814 456h20v4h-20zM862 456h24v4h-24zM894 456h16v4h-16zM214 460h16v4h-16zM410 460h12v4h-12zM646 460h4v4h-4zM762 460h8v4h-8zM818 460h24v4h-24zM850 460h24v4h-24zM906 460h12v4h-12zM214 464h12v4h-12zM406 464h4v4h-4zM422 464h4v4h-4zM650 464h12v4h-12zM754 464h8v4h-8zM822 464h48v4h-48zM914 464h12v4h-12zM214 468h12v4h-12zM422 468h4v4h-4zM662 468h28v4h-28zM742 468h16v4h-16zM822 468h44v4h-44zM922 468h12v4h-12zM218 472h8v4h-8zM326 472h4v4h-4zM422 472h4v4h-4zM690 472h16v4h-16zM738 472h12v4h-12zM826 472h40v4h-40zM930 472h12v4h-12zM218 476h12v4h-12zM406 476h4v4h-4zM702 476h8v4h-8zM734 476h12v4h-12zM826 476h40v4h-40zM934 476h12v4h-12zM226 480h16v4h-16zM318 480h4v4h-4zM414 480h4v4h-4zM706 480h8v4h-8zM734 480h12v4h-12zM826 480h40v4h-40zM938 480h12v4h-12zM242 484h72v4h-72zM706 484h8v4h-8zM734 484h8v4h-8zM826 484h48v4h-48zM942 484h12v4h-12zM982 484h20v4h-20zM710 488h4v4h-4zM734 488h8v4h-8zM826 488h60v4h-60zM946 488h16v4h-16zM974 488h32v4h-32zM710 492h8v4h-8zM734 492h4v4h-4zM826 492h68v4h-68zM946 492h64v4h-64zM714 496h8v4h-8zM726 496h12v4h-12zM834 496h68v4h-68zM950 496h36v4h-36zM990 496h20v4h-20zM718 500h16v4h-16zM842 500h60v4h-60zM962 500h12v4h-12zM998 500h12v4h-12zM854 504h52v4h-52zM998 504h12v4h-12zM858 508h56v4h-56zM998 508h12v4h-12zM870 512h64v4h-64zM998 512h12v4h-12zM902 516h40v4h-40zM998 516h12v4h-12zM902 520h12v4h-12zM930 520h12v4h-12zM998 520h8v4h-8zM906 524h8v4h-8zM938 524h4v4h-4zM994 524h12v4h-12zM906 528h8v4h-8zM938 528h8v4h-8zM994 528h8v4h-8zM906 532h8v4h-8zM938 532h8v4h-8zM990 532h8v4h-8zM910 536h4v4h-4zM942 536h4v4h-4zM986 536h8v4h-8zM910 540h8v4h-8zM942 540h4v4h-4zM982 540h8v4h-8zM914 544h8v4h-8zM942 544h8v4h-8zM978 544h8v4h-8zM918 548h8v4h-8zM942 548h36v4h-36zM922 552h8v4h-8zM926 556h12v4h-12zM930 560h8v4h-8zM930 564h12v4h-12zM934 568h8v4h-8zM934 572h8v4h-8zM938 576h8v4h-8zM938 580h8v4h-8zM942 584h8v4h-8zM946 588h12v4h-12zM954 592h8v4h-8zM958 596h12v4h-12zM962 600h12v4h-12zM966 604h8v4h-8zM970 608h8v4h-8zM970 612h8v4h-8zM970 616h8v4h-8zM894 620h20v4h-20zM966 620h8v4h-8zM894 624h40v4h-40zM962 624h12v4h-12zM822 628h16v4h-16zM890 628h56v4h-56zM958 628h12v4h-12zM810 632h32v4h-32zM890 632h76v4h-76zM802 636h8v4h-8zM838 636h8v4h-8zM886 636h28v4h-28zM942 636h20v4h-20zM794 640h8v4h-8zM842 640h12v4h-12zM886 640h24v4h-24zM790 644h8v4h-8zM842 644h16v4h-16zM882 644h24v4h-24zM786 648h4v4h-4zM846 648h16v4h-16zM878 648h28v4h-28zM782 652h8v4h-8zM846 652h56v4h-56zM778 656h8v4h-8zM850 656h52v4h-52zM694 660h8v4h-8zM734 660h8v4h-8zM770 660h12v4h-12zM854 660h44v4h-44zM690 664h4v4h-4zM862 664h36v4h-36zM686 668h4v4h-4zM878 668h16v4h-16zM686 672h4v4h-4zM690 680h4v4h-4zM690 684h4v4h-4zM694 688h4v4h-4zM698 692h4v4h-4zM702 696h4v4h-4zM706 700h4v4h-4zM710 704h4v4h-4zM714 708h4v4h-4zM718 712h4v4h-4zM722 716h4v4h-4zM726 720h4v4h-4zM730 724h4v4h-4zM734 728h4v4h-4zM742 732h4v4h-4zM750 736h8v4h-8zM758 740h8v4h-8zM766 744h4v4h-4zM770 748h8v4h-8zM778 752h4v4h-4zM786 756h4v4h-4zM790 760h4v4h-4zM794 764h4v4h-4zM798 768h4v4h-4zM802 772h4v4h-4zM802 776h4v4h-4zM802 780h4v4h-4zM802 784h4v4h-4zM798 788h4v4h-4zM758 792h16v4h-16zM782 792h12v4h-12z"/>
<path fill="#ff3500" d="M430 104h20v28h-20zM434 132h16v4h-16zM434 136h20v4h-20zM438 140h20v4h-20zM442 144h20v4h-20zM446 148h16v4h-16zM450 152h16v4h-16zM454 156h16v4h-16zM494 156h16v4h-16zM458 160h16v4h-16zM486 160h32v4h-32zM462 164h36v4h-36zM510 164h12v4h-12zM462 168h32v4h-32zM518 168h8v4h-8zM466 172h24v4h-24zM522 172h4v4h-4zM466 176h24v4h-24zM522 176h8v4h-8zM466 180h24v4h-24zM522 180h8v4h-8zM466 184h24v4h-24zM522 184h8v4h-8zM466 188h24v4h-24zM522 188h8v4h-8zM462 192h28v4h-28zM518 192h8v4h-8zM406 196h4v4h-4zM462 196h32v4h-32zM514 196h12v4h-12zM394 200h24v4h-24zM458 200h64v4h-64zM382 204h40v4h-40zM454 204h68v4h-68zM362 208h64v4h-64zM446 208h68v4h-68zM354 212h24v4h-24zM382 212h88v4h-88zM486 212h24v4h-24zM350 216h16v4h-16zM386 216h76v4h-76zM350 220h12v4h-12zM386 220h56v4h-56zM346 224h12v4h-12zM382 224h20v4h-20zM414 224h20v4h-20zM346 228h20v4h-20zM374 228h16v4h-16zM418 228h12v4h-12zM346 232h36v4h-36zM422 232h8v4h-8zM350 236h20v4h-20zM422 236h8v4h-8zM230 240h28v4h-28zM422 240h8v4h-8zM230 244h32v4h-32zM426 244h8v4h-8zM230 248h36v4h-36zM426 248h12v4h-12zM234 252h32v4h-32zM330 252h20v4h-20zM430 252h12v4h-12zM242 256h20v4h-20zM326 256h24v4h-24zM434 256h16v4h-16zM322 260h32v4h-32zM442 260h16v4h-16zM318 264h40v4h-40zM454 264h12v4h-12zM314 268h48v4h-48zM458 268h12v4h-12zM306 272h20v4h-20zM346 272h20v4h-20zM462 272h8v4h-8zM302 276h20v4h-20zM350 276h20v4h-20zM466 276h8v4h-8zM302 280h16v4h-16zM354 280h24v4h-24zM466 280h8v4h-8zM302 284h16v4h-16zM358 284h24v4h-24zM466 284h8v4h-8zM302 288h16v4h-16zM358 288h32v4h-32zM466 288h8v4h-8zM302 292h20v4h-20zM358 292h36v4h-36zM466 292h8v4h-8zM306 296h20v4h-20zM358 296h40v4h-40zM466 296h8v4h-8zM306 300h28v4h-28zM354 300h44v4h-44zM462 300h8v4h-8zM314 304h88v4h-88zM458 304h8v4h-8zM318 308h88v4h-88zM450 308h12v4h-12zM326 312h132v4h-132zM330 316h108v4h-108zM334 320h88v4h-88zM338 324h76v4h-76zM338 328h72v4h-72zM338 332h72v4h-72zM338 336h68v4h-68zM338 340h60v4h-60zM334 344h60v4h-60zM482 344h24v4h-24zM334 348h56v4h-56zM474 348h36v4h-36zM334 352h60v4h-60zM462 352h52v4h-52zM334 356h64v4h-64zM450 356h68v4h-68zM338 360h156v4h-156zM502 360h20v4h-20zM338 364h136v4h-136zM510 364h12v4h-12zM338 368h20v4h-20zM378 368h72v4h-72zM514 368h12v4h-12zM346 372h4v4h-4zM394 372h28v4h-28zM518 372h8v4h-8zM522 376h8v4h-8zM522 380h8v4h-8zM522 384h8v4h-8zM522 388h8v4h-8zM522 392h8v4h-8zM522 396h8v4h-8zM518 400h8v4h-8zM518 404h8v4h-8zM818 404h8v4h-8zM510 408h12v4h-12zM818 408h12v4h-12zM502 412h16v4h-16zM182 416h12v4h-12zM498 416h16v4h-16zM194 420h4v4h-4zM490 420h20v4h-20zM198 424h4v4h-4zM494 424h16v4h-16zM198 428h4v4h-4zM498 428h16v4h-16zM202 432h4v4h-4zM294 432h4v4h-4zM506 432h12v4h-12zM202 436h4v4h-4zM270 436h12v4h-12zM306 436h8v4h-8zM518 436h8v4h-8zM206 440h4v4h-4zM254 440h8v4h-8zM314 440h4v4h-4zM526 440h12v4h-12zM210 444h8v4h-8zM238 444h8v4h-8zM322 444h4v4h-4zM542 444h20v4h-20zM594 444h20v4h-20zM214 448h16v4h-16zM570 448h12v4h-12zM622 448h4v4h-4zM326 452h4v4h-4zM410 452h12v4h-12zM630 452h4v4h-4zM154 456h56v4h-56zM406 456h20v4h-20zM634 456h4v4h-4zM778 456h36v4h-36zM886 456h8v4h-8zM154 460h60v4h-60zM330 460h4v4h-4zM402 460h8v4h-8zM422 460h4v4h-4zM638 460h8v4h-8zM770 460h4v4h-4zM806 460h12v4h-12zM874 460h32v4h-32zM198 464h16v4h-16zM330 464h4v4h-4zM402 464h4v4h-4zM646 464h4v4h-4zM762 464h8v4h-8zM810 464h12v4h-12zM870 464h16v4h-16zM902 464h12v4h-12zM202 468h12v4h-12zM330 468h4v4h-4zM402 468h4v4h-4zM426 468h4v4h-4zM654 468h8v4h-8zM758 468h8v4h-8zM814 468h8v4h-8zM866 468h16v4h-16zM910 468h12v4h-12zM206 472h12v4h-12zM330 472h4v4h-4zM402 472h4v4h-4zM670 472h20v4h-20zM750 472h12v4h-12zM814 472h12v4h-12zM866 472h16v4h-16zM914 472h16v4h-16zM206 476h12v4h-12zM326 476h4v4h-4zM402 476h4v4h-4zM422 476h4v4h-4zM690 476h12v4h-12zM746 476h12v4h-12zM814 476h12v4h-12zM866 476h16v4h-16zM918 476h16v4h-16zM210 480h16v4h-16zM322 480h4v4h-4zM406 480h8v4h-8zM418 480h4v4h-4zM698 480h8v4h-8zM746 480h8v4h-8zM814 480h12v4h-12zM866 480h28v4h-28zM922 480h16v4h-16zM218 484h24v4h-24zM314 484h8v4h-8zM702 484h4v4h-4zM742 484h12v4h-12zM814 484h12v4h-12zM874 484h36v4h-36zM926 484h16v4h-16zM238 488h76v4h-76zM702 488h8v4h-8zM742 488h8v4h-8zM810 488h16v4h-16zM886 488h28v4h-28zM930 488h16v4h-16zM706 492h4v4h-4zM738 492h12v4h-12zM810 492h16v4h-16zM894 492h24v4h-24zM930 492h16v4h-16zM710 496h4v4h-4zM738 496h8v4h-8zM810 496h24v4h-24zM902 496h48v4h-48zM986 496h4v4h-4zM710 500h8v4h-8zM734 500h8v4h-8zM814 500h28v4h-28zM902 500h60v4h-60zM974 500h24v4h-24zM714 504h24v4h-24zM818 504h36v4h-36zM906 504h92v4h-92zM722 508h12v4h-12zM822 508h36v4h-36zM914 508h84v4h-84zM830 512h40v4h-40zM934 512h20v4h-20zM982 512h16v4h-16zM838 516h64v4h-64zM942 516h8v4h-8zM986 516h12v4h-12zM842 520h60v4h-60zM942 520h8v4h-8zM986 520h12v4h-12zM846 524h36v4h-36zM886 524h20v4h-20zM942 524h8v4h-8zM986 524h8v4h-8zM850 528h24v4h-24zM898 528h8v4h-8zM946 528h4v4h-4zM982 528h12v4h-12zM854 532h12v4h-12zM902 532h4v4h-4zM946 532h4v4h-4zM982 532h8v4h-8zM902 536h8v4h-8zM946 536h8v4h-8zM978 536h8v4h-8zM906 540h4v4h-4zM946 540h12v4h-12zM974 540h8v4h-8zM910 544h4v4h-4zM950 544h28v4h-28zM910 548h8v4h-8zM914 552h8v4h-8zM918 556h8v4h-8zM922 560h8v4h-8zM926 564h4v4h-4zM926 568h8v4h-8zM930 572h4v4h-4zM930 576h8v4h-8zM930 580h8v4h-8zM934 584h8v4h-8zM934 588h12v4h-12zM938 592h16v4h-16zM942 596h16v4h-16zM950 600h12v4h-12zM890 604h20v4h-20zM954 604h12v4h-12zM882 608h40v4h-40zM958 608h12v4h-12zM878 612h56v4h-56zM958 612h12v4h-12zM878 616h68v4h-68zM954 616h16v4h-16zM874 620h20v4h-20zM914 620h52v4h-52zM822 624h20v4h-20zM874 624h20v4h-20zM934 624h28v4h-28zM810 628h12v4h-12zM838 628h16v4h-16zM870 628h20v4h-20zM946 628h12v4h-12zM802 632h8v4h-8zM842 632h48v4h-48zM794 636h8v4h-8zM846 636h40v4h-40zM790 640h4v4h-4zM854 640h32v4h-32zM782 644h8v4h-8zM858 644h24v4h-24zM778 648h8v4h-8zM862 648h16v4h-16zM774 652h8v4h-8zM690 656h36v4h-36zM770 656h8v4h-8zM686 660h8v4h-8zM742 660h28v4h-28zM686 664h4v4h-4zM686 676h4v4h-4zM686 680h4v4h-4zM690 688h4v4h-4zM694 692h4v4h-4zM698 696h4v4h-4zM702 700h4v4h-4zM706 704h4v4h-4zM710 708h4v4h-4zM714 712h4v4h-4zM718 716h4v4h-4zM722 720h4v4h-4zM722 724h8v4h-8zM726 728h8v4h-8zM734 732h8v4h-8zM742 736h8v4h-8zM754 740h4v4h-4zM762 744h4v4h-4zM766 748h4v4h-4zM774 752h4v4h-4zM782 756h4v4h-4zM798 772h4v4h-4zM798 776h4v4h-4zM798 780h4v4h-4zM798 784h4v4h-4zM154 788h612v4h-612zM790 788h8v4h-8zM774 792h8v4h-8z"/>
<path fill="#ff2c00" d="M362 104h28v28h-28zM418 104h12v28h-12zM366 132h20v4h-20zM418 132h16v4h-16zM366 136h20v4h-20zM418 136h16v4h-16zM418 140h20v4h-20zM422 144h20v4h-20zM422 148h24v4h-24zM430 152h20v4h-20zM438 156h16v4h-16zM446 160h12v4h-12zM454 164h8v4h-8zM498 164h12v4h-12zM454 168h8v4h-8zM494 168h24v4h-24zM458 172h8v4h-8zM490 172h32v4h-32zM458 176h8v4h-8zM490 176h32v4h-32zM406 180h8v4h-8zM458 180h8v4h-8zM490 180h12v4h-12zM510 180h12v4h-12zM402 184h16v4h-16zM458 184h8v4h-8zM490 184h12v4h-12zM510 184h12v4h-12zM254 188h12v4h-12zM398 188h20v4h-20zM458 188h8v4h-8zM490 188h32v4h-32zM254 192h16v4h-16zM394 192h28v4h-28zM454 192h8v4h-8zM490 192h28v4h-28zM254 196h12v4h-12zM390 196h16v4h-16zM410 196h16v4h-16zM450 196h12v4h-12zM494 196h20v4h-20zM378 200h16v4h-16zM418 200h40v4h-40zM358 204h24v4h-24zM422 204h32v4h-32zM350 208h12v4h-12zM426 208h20v4h-20zM346 212h8v4h-8zM342 216h8v4h-8zM338 220h12v4h-12zM230 224h28v4h-28zM334 224h12v4h-12zM402 224h12v4h-12zM222 228h44v4h-44zM330 228h16v4h-16zM390 228h28v4h-28zM218 232h52v4h-52zM330 232h16v4h-16zM382 232h40v4h-40zM214 236h60v4h-60zM326 236h24v4h-24zM370 236h16v4h-16zM414 236h8v4h-8zM210 240h20v4h-20zM258 240h20v4h-20zM322 240h60v4h-60zM418 240h4v4h-4zM206 244h24v4h-24zM262 244h20v4h-20zM318 244h56v4h-56zM418 244h8v4h-8zM206 248h24v4h-24zM266 248h16v4h-16zM318 248h52v4h-52zM422 248h4v4h-4zM210 252h24v4h-24zM266 252h20v4h-20zM314 252h16v4h-16zM350 252h20v4h-20zM422 252h8v4h-8zM214 256h28v4h-28zM262 256h24v4h-24zM310 256h16v4h-16zM350 256h20v4h-20zM426 256h8v4h-8zM218 260h104v4h-104zM354 260h16v4h-16zM430 260h12v4h-12zM226 264h92v4h-92zM358 264h16v4h-16zM442 264h12v4h-12zM238 268h76v4h-76zM362 268h16v4h-16zM450 268h8v4h-8zM254 272h52v4h-52zM366 272h20v4h-20zM458 272h4v4h-4zM266 276h36v4h-36zM370 276h24v4h-24zM458 276h8v4h-8zM274 280h28v4h-28zM378 280h24v4h-24zM458 280h8v4h-8zM278 284h24v4h-24zM382 284h20v4h-20zM462 284h4v4h-4zM278 288h24v4h-24zM390 288h16v4h-16zM462 288h4v4h-4zM282 292h20v4h-20zM394 292h16v4h-16zM458 292h8v4h-8zM286 296h20v4h-20zM398 296h12v4h-12zM458 296h8v4h-8zM286 300h20v4h-20zM398 300h16v4h-16zM454 300h8v4h-8zM290 304h24v4h-24zM402 304h20v4h-20zM446 304h12v4h-12zM298 308h20v4h-20zM406 308h44v4h-44zM302 312h24v4h-24zM306 316h24v4h-24zM310 320h24v4h-24zM314 324h24v4h-24zM314 328h24v4h-24zM318 332h20v4h-20zM318 336h20v4h-20zM318 340h20v4h-20zM318 344h16v4h-16zM318 348h16v4h-16zM318 352h16v4h-16zM322 356h12v4h-12zM322 360h16v4h-16zM494 360h8v4h-8zM322 364h16v4h-16zM474 364h36v4h-36zM326 368h12v4h-12zM358 368h20v4h-20zM450 368h64v4h-64zM326 372h20v4h-20zM350 372h44v4h-44zM422 372h72v4h-72zM502 372h16v4h-16zM330 376h148v4h-148zM510 376h12v4h-12zM330 380h116v4h-116zM514 380h8v4h-8zM334 384h28v4h-28zM398 384h20v4h-20zM514 384h8v4h-8zM338 388h16v4h-16zM514 388h8v4h-8zM514 392h8v4h-8zM514 396h8v4h-8zM510 400h8v4h-8zM506 404h12v4h-12zM450 408h60v4h-60zM154 412h40v4h-40zM438 412h64v4h-64zM194 416h8v4h-8zM434 416h64v4h-64zM198 420h4v4h-4zM430 420h60v4h-60zM202 424h4v4h-4zM430 424h64v4h-64zM202 428h4v4h-4zM426 428h72v4h-72zM206 432h4v4h-4zM282 432h12v4h-12zM298 432h12v4h-12zM426 432h80v4h-80zM206 436h4v4h-4zM266 436h4v4h-4zM314 436h4v4h-4zM422 436h40v4h-40zM498 436h20v4h-20zM210 440h8v4h-8zM246 440h8v4h-8zM318 440h4v4h-4zM410 440h44v4h-44zM514 440h12v4h-12zM218 444h20v4h-20zM326 444h4v4h-4zM402 444h40v4h-40zM530 444h12v4h-12zM326 448h4v4h-4zM398 448h40v4h-40zM546 448h24v4h-24zM582 448h40v4h-40zM330 452h4v4h-4zM398 452h12v4h-12zM422 452h12v4h-12zM622 452h8v4h-8zM330 456h4v4h-4zM394 456h12v4h-12zM426 456h8v4h-8zM630 456h4v4h-4zM362 460h8v4h-8zM394 460h8v4h-8zM426 460h8v4h-8zM634 460h4v4h-4zM774 460h32v4h-32zM154 464h44v4h-44zM362 464h8v4h-8zM394 464h8v4h-8zM426 464h4v4h-4zM638 464h8v4h-8zM770 464h8v4h-8zM802 464h8v4h-8zM886 464h16v4h-16zM154 468h48v4h-48zM394 468h8v4h-8zM646 468h8v4h-8zM766 468h4v4h-4zM806 468h8v4h-8zM882 468h28v4h-28zM154 472h52v4h-52zM394 472h8v4h-8zM426 472h4v4h-4zM654 472h16v4h-16zM762 472h8v4h-8zM806 472h8v4h-8zM882 472h32v4h-32zM186 476h20v4h-20zM330 476h4v4h-4zM394 476h8v4h-8zM426 476h4v4h-4zM678 476h12v4h-12zM758 476h8v4h-8zM806 476h8v4h-8zM882 476h36v4h-36zM190 480h20v4h-20zM326 480h8v4h-8zM394 480h12v4h-12zM422 480h4v4h-4zM690 480h8v4h-8zM754 480h12v4h-12zM806 480h8v4h-8zM894 480h28v4h-28zM194 484h24v4h-24zM322 484h12v4h-12zM394 484h28v4h-28zM698 484h4v4h-4zM754 484h8v4h-8zM802 484h12v4h-12zM910 484h16v4h-16zM202 488h36v4h-36zM314 488h16v4h-16zM394 488h16v4h-16zM750 488h12v4h-12zM802 488h8v4h-8zM914 488h16v4h-16zM214 492h108v4h-108zM702 492h4v4h-4zM750 492h8v4h-8zM798 492h12v4h-12zM918 492h12v4h-12zM706 496h4v4h-4zM746 496h8v4h-8zM798 496h12v4h-12zM706 500h4v4h-4zM742 500h8v4h-8zM798 500h16v4h-16zM710 504h4v4h-4zM738 504h8v4h-8zM802 504h16v4h-16zM714 508h8v4h-8zM734 508h8v4h-8zM806 508h16v4h-16zM722 512h12v4h-12zM810 512h20v4h-20zM954 512h28v4h-28zM818 516h20v4h-20zM950 516h36v4h-36zM826 520h16v4h-16zM950 520h12v4h-12zM974 520h12v4h-12zM834 524h12v4h-12zM882 524h4v4h-4zM950 524h8v4h-8zM974 524h12v4h-12zM838 528h12v4h-12zM874 528h24v4h-24zM950 528h8v4h-8zM974 528h8v4h-8zM842 532h12v4h-12zM866 532h36v4h-36zM950 532h12v4h-12zM970 532h12v4h-12zM842 536h40v4h-40zM890 536h12v4h-12zM954 536h24v4h-24zM846 540h28v4h-28zM898 540h8v4h-8zM958 540h16v4h-16zM846 544h28v4h-28zM902 544h8v4h-8zM850 548h20v4h-20zM906 548h4v4h-4zM854 552h12v4h-12zM910 552h4v4h-4zM910 556h8v4h-8zM914 560h8v4h-8zM918 564h8v4h-8zM530 568h8v4h-8zM918 568h8v4h-8zM534 572h4v4h-4zM922 572h8v4h-8zM922 576h8v4h-8zM922 580h8v4h-8zM922 584h12v4h-12zM922 588h12v4h-12zM918 592h20v4h-20zM878 596h64v4h-64zM870 600h80v4h-80zM866 604h24v4h-24zM910 604h44v4h-44zM866 608h16v4h-16zM922 608h36v4h-36zM862 612h16v4h-16zM934 612h24v4h-24zM854 616h24v4h-24zM946 616h8v4h-8zM822 620h52v4h-52zM814 624h8v4h-8zM842 624h32v4h-32zM802 628h8v4h-8zM854 628h16v4h-16zM794 632h8v4h-8zM790 636h4v4h-4zM782 640h8v4h-8zM778 644h4v4h-4zM774 648h4v4h-4zM690 652h12v4h-12zM770 652h4v4h-4zM682 656h8v4h-8zM726 656h12v4h-12zM762 656h8v4h-8zM682 660h4v4h-4zM682 664h4v4h-4zM682 668h4v4h-4zM682 672h4v4h-4zM682 676h4v4h-4zM682 680h4v4h-4zM686 684h4v4h-4zM694 696h4v4h-4zM698 700h4v4h-4zM702 704h4v4h-4zM706 708h4v4h-4zM710 712h4v4h-4zM714 716h4v4h-4zM714 720h8v4h-8zM718 724h4v4h-4zM722 728h4v4h-4zM726 732h8v4h-8zM734 736h8v4h-8zM746 740h8v4h-8zM754 744h8v4h-8zM762 748h4v4h-4zM766 752h8v4h-8zM778 756h4v4h-4zM786 760h4v4h-4zM790 764h4v4h-4zM794 768h4v4h-4zM794 772h4v4h-4zM794 776h4v4h-4zM794 780h4v4h-4zM154 784h604v4h-604zM790 784h8v4h-8zM766 788h24v4h-24z"/>
<path fill="#ff2300" d="M354 104h8v28h-8zM390 104h28v28h-28zM354 132h12v4h-12zM386 132h32v4h-32zM354 136h12v4h-12zM386 136h32v4h-32zM358 140h60v4h-60zM362 144h60v4h-60zM370 148h52v4h-52zM386 152h44v4h-44zM390 156h48v4h-48zM394 160h52v4h-52zM394 164h60v4h-60zM398 168h28v4h-28zM442 168h12v4h-12zM394 172h32v4h-32zM446 172h12v4h-12zM254 176h16v4h-16zM394 176h32v4h-32zM450 176h8v4h-8zM246 180h28v4h-28zM394 180h12v4h-12zM414 180h12v4h-12zM450 180h8v4h-8zM502 180h8v4h-8zM242 184h36v4h-36zM394 184h8v4h-8zM418 184h8v4h-8zM450 184h8v4h-8zM502 184h8v4h-8zM242 188h12v4h-12zM266 188h16v4h-16zM390 188h8v4h-8zM418 188h12v4h-12zM446 188h12v4h-12zM238 192h16v4h-16zM270 192h12v4h-12zM386 192h8v4h-8zM422 192h32v4h-32zM234 196h20v4h-20zM266 196h16v4h-16zM378 196h12v4h-12zM426 196h24v4h-24zM234 200h44v4h-44zM358 200h20v4h-20zM230 204h48v4h-48zM342 204h16v4h-16zM226 208h52v4h-52zM334 208h16v4h-16zM222 212h56v4h-56zM330 212h16v4h-16zM218 216h60v4h-60zM326 216h16v4h-16zM214 220h64v4h-64zM322 220h16v4h-16zM210 224h20v4h-20zM258 224h24v4h-24zM318 224h16v4h-16zM206 228h16v4h-16zM266 228h20v4h-20zM318 228h12v4h-12zM198 232h20v4h-20zM270 232h16v4h-16zM314 232h16v4h-16zM182 236h32v4h-32zM274 236h20v4h-20zM310 236h16v4h-16zM386 236h28v4h-28zM154 240h56v4h-56zM278 240h44v4h-44zM382 240h36v4h-36zM154 244h52v4h-52zM282 244h36v4h-36zM374 244h16v4h-16zM410 244h8v4h-8zM154 248h52v4h-52zM282 248h36v4h-36zM370 248h16v4h-16zM410 248h12v4h-12zM154 252h56v4h-56zM286 252h28v4h-28zM370 252h16v4h-16zM414 252h8v4h-8zM154 256h60v4h-60zM286 256h24v4h-24zM370 256h16v4h-16zM414 256h12v4h-12zM198 260h20v4h-20zM370 260h16v4h-16zM418 260h12v4h-12zM206 264h20v4h-20zM374 264h16v4h-16zM422 264h20v4h-20zM218 268h20v4h-20zM378 268h24v4h-24zM438 268h12v4h-12zM226 272h28v4h-28zM386 272h20v4h-20zM450 272h8v4h-8zM234 276h32v4h-32zM394 276h16v4h-16zM454 276h4v4h-4zM242 280h32v4h-32zM402 280h12v4h-12zM454 280h4v4h-4zM250 284h28v4h-28zM402 284h12v4h-12zM454 284h8v4h-8zM258 288h20v4h-20zM406 288h8v4h-8zM454 288h8v4h-8zM262 292h20v4h-20zM410 292h8v4h-8zM454 292h4v4h-4zM266 296h20v4h-20zM410 296h12v4h-12zM454 296h4v4h-4zM266 300h20v4h-20zM414 300h12v4h-12zM446 300h8v4h-8zM270 304h20v4h-20zM422 304h24v4h-24zM274 308h24v4h-24zM278 312h24v4h-24zM282 316h24v4h-24zM286 320h24v4h-24zM294 324h20v4h-20zM298 328h16v4h-16zM298 332h20v4h-20zM302 336h16v4h-16zM302 340h16v4h-16zM306 344h12v4h-12zM306 348h12v4h-12zM310 352h8v4h-8zM310 356h12v4h-12zM314 360h8v4h-8zM314 364h8v4h-8zM318 368h8v4h-8zM318 372h8v4h-8zM494 372h8v4h-8zM322 376h8v4h-8zM478 376h32v4h-32zM322 380h8v4h-8zM446 380h68v4h-68zM326 384h8v4h-8zM362 384h36v4h-36zM418 384h96v4h-96zM326 388h12v4h-12zM354 388h160v4h-160zM330 392h184v4h-184zM334 396h180v4h-180zM342 400h168v4h-168zM350 404h44v4h-44zM410 404h96v4h-96zM154 408h40v4h-40zM358 408h36v4h-36zM414 408h36v4h-36zM194 412h8v4h-8zM358 412h32v4h-32zM414 412h24v4h-24zM202 416h4v4h-4zM362 416h28v4h-28zM414 416h20v4h-20zM202 420h4v4h-4zM362 420h28v4h-28zM414 420h16v4h-16zM206 424h4v4h-4zM366 424h28v4h-28zM410 424h20v4h-20zM206 428h4v4h-4zM282 428h28v4h-28zM370 428h24v4h-24zM402 428h24v4h-24zM210 432h4v4h-4zM270 432h12v4h-12zM310 432h8v4h-8zM378 432h48v4h-48zM210 436h4v4h-4zM258 436h8v4h-8zM318 436h4v4h-4zM386 436h36v4h-36zM462 436h36v4h-36zM218 440h4v4h-4zM242 440h4v4h-4zM322 440h4v4h-4zM390 440h20v4h-20zM454 440h60v4h-60zM330 444h4v4h-4zM390 444h12v4h-12zM442 444h24v4h-24zM514 444h16v4h-16zM330 448h8v4h-8zM390 448h8v4h-8zM438 448h16v4h-16zM534 448h12v4h-12zM334 452h4v4h-4zM390 452h8v4h-8zM434 452h16v4h-16zM550 452h48v4h-48zM614 452h8v4h-8zM334 456h4v4h-4zM362 456h8v4h-8zM390 456h4v4h-4zM434 456h12v4h-12zM626 456h4v4h-4zM334 460h4v4h-4zM390 460h4v4h-4zM434 460h8v4h-8zM630 460h4v4h-4zM334 464h4v4h-4zM390 464h4v4h-4zM430 464h8v4h-8zM634 464h4v4h-4zM778 464h24v4h-24zM334 468h8v4h-8zM362 468h8v4h-8zM390 468h4v4h-4zM430 468h8v4h-8zM638 468h8v4h-8zM770 468h12v4h-12zM798 468h8v4h-8zM334 472h8v4h-8zM390 472h4v4h-4zM430 472h4v4h-4zM646 472h8v4h-8zM770 472h4v4h-4zM802 472h4v4h-4zM154 476h32v4h-32zM334 476h8v4h-8zM386 476h8v4h-8zM430 476h4v4h-4zM654 476h24v4h-24zM766 476h8v4h-8zM802 476h4v4h-4zM154 480h36v4h-36zM334 480h8v4h-8zM386 480h8v4h-8zM426 480h4v4h-4zM682 480h8v4h-8zM766 480h8v4h-8zM798 480h8v4h-8zM154 484h40v4h-40zM334 484h12v4h-12zM382 484h12v4h-12zM422 484h4v4h-4zM694 484h4v4h-4zM762 484h16v4h-16zM790 484h12v4h-12zM154 488h48v4h-48zM330 488h20v4h-20zM378 488h16v4h-16zM410 488h12v4h-12zM698 488h4v4h-4zM762 488h40v4h-40zM154 492h60v4h-60zM322 492h96v4h-96zM698 492h4v4h-4zM758 492h40v4h-40zM154 496h260v4h-260zM702 496h4v4h-4zM754 496h44v4h-44zM154 500h256v4h-256zM702 500h4v4h-4zM750 500h48v4h-48zM154 504h72v4h-72zM318 504h92v4h-92zM706 504h4v4h-4zM746 504h56v4h-56zM154 508h56v4h-56zM326 508h80v4h-80zM706 508h8v4h-8zM742 508h16v4h-16zM782 508h24v4h-24zM154 512h36v4h-36zM334 512h68v4h-68zM710 512h12v4h-12zM734 512h16v4h-16zM790 512h20v4h-20zM346 516h52v4h-52zM722 516h16v4h-16zM798 516h20v4h-20zM806 520h20v4h-20zM962 520h12v4h-12zM814 524h20v4h-20zM958 524h16v4h-16zM822 528h16v4h-16zM958 528h16v4h-16zM830 532h12v4h-12zM962 532h8v4h-8zM834 536h8v4h-8zM882 536h8v4h-8zM838 540h8v4h-8zM874 540h24v4h-24zM838 544h8v4h-8zM874 544h28v4h-28zM842 548h8v4h-8zM870 548h12v4h-12zM898 548h8v4h-8zM842 552h12v4h-12zM866 552h12v4h-12zM902 552h8v4h-8zM846 556h28v4h-28zM906 556h4v4h-4zM530 560h8v4h-8zM846 560h28v4h-28zM910 560h4v4h-4zM522 564h24v4h-24zM846 564h28v4h-28zM910 564h8v4h-8zM518 568h12v4h-12zM538 568h8v4h-8zM850 568h20v4h-20zM914 568h4v4h-4zM522 572h12v4h-12zM538 572h8v4h-8zM850 572h20v4h-20zM914 572h8v4h-8zM526 576h20v4h-20zM850 576h24v4h-24zM914 576h8v4h-8zM854 580h20v4h-20zM914 580h8v4h-8zM854 584h24v4h-24zM910 584h12v4h-12zM854 588h68v4h-68zM854 592h64v4h-64zM854 596h24v4h-24zM850 600h20v4h-20zM850 604h16v4h-16zM842 608h24v4h-24zM830 612h32v4h-32zM822 616h32v4h-32zM814 620h8v4h-8zM806 624h8v4h-8zM798 628h4v4h-4zM790 632h4v4h-4zM782 636h8v4h-8zM778 640h4v4h-4zM774 644h4v4h-4zM682 648h16v4h-16zM770 648h4v4h-4zM678 652h12v4h-12zM702 652h16v4h-16zM766 652h4v4h-4zM678 656h4v4h-4zM738 656h24v4h-24zM678 660h4v4h-4zM678 664h4v4h-4zM678 668h4v4h-4zM686 688h4v4h-4zM690 692h4v4h-4zM694 700h4v4h-4zM698 704h4v4h-4zM702 708h4v4h-4zM706 712h4v4h-4zM706 716h8v4h-8zM710 720h4v4h-4zM714 724h4v4h-4zM714 728h8v4h-8zM718 732h8v4h-8zM722 736h12v4h-12zM730 740h16v4h-16zM742 744h12v4h-12zM754 748h8v4h-8zM758 752h8v4h-8zM774 756h4v4h-4zM782 760h4v4h-4zM790 768h4v4h-4zM154 780h600v4h-600zM790 780h4v4h-4zM758 784h16v4h-16zM782 784h8v4h-8z"/>
<path fill="#ff1b00" d="M346 104h8v28h-8zM346 132h8v4h-8zM346 136h8v4h-8zM350 140h8v4h-8zM350 144h12v4h-12zM354 148h16v4h-16zM362 152h24v4h-24zM374 156h16v4h-16zM382 160h12v4h-12zM386 164h8v4h-8zM390 168h8v4h-8zM426 168h16v4h-16zM242 172h32v4h-32zM390 172h4v4h-4zM426 172h20v4h-20zM154 176h28v4h-28zM234 176h20v4h-20zM270 176h12v4h-12zM390 176h4v4h-4zM426 176h24v4h-24zM154 180h44v4h-44zM230 180h16v4h-16zM274 180h12v4h-12zM390 180h4v4h-4zM426 180h24v4h-24zM154 184h56v4h-56zM222 184h20v4h-20zM278 184h8v4h-8zM386 184h8v4h-8zM426 184h24v4h-24zM154 188h88v4h-88zM282 188h8v4h-8zM382 188h8v4h-8zM430 188h16v4h-16zM182 192h56v4h-56zM282 192h8v4h-8zM378 192h8v4h-8zM198 196h36v4h-36zM282 196h8v4h-8zM358 196h20v4h-20zM202 200h32v4h-32zM278 200h12v4h-12zM330 200h28v4h-28zM202 204h28v4h-28zM278 204h12v4h-12zM322 204h20v4h-20zM202 208h24v4h-24zM278 208h16v4h-16zM318 208h16v4h-16zM198 212h24v4h-24zM278 212h16v4h-16zM310 212h20v4h-20zM194 216h24v4h-24zM278 216h48v4h-48zM186 220h28v4h-28zM278 220h44v4h-44zM154 224h56v4h-56zM282 224h36v4h-36zM154 228h52v4h-52zM286 228h32v4h-32zM154 232h44v4h-44zM286 232h28v4h-28zM154 236h28v4h-28zM294 236h16v4h-16zM390 244h20v4h-20zM386 248h24v4h-24zM386 252h28v4h-28zM386 256h28v4h-28zM154 260h44v4h-44zM386 260h32v4h-32zM154 264h52v4h-52zM390 264h32v4h-32zM194 268h24v4h-24zM402 268h36v4h-36zM206 272h20v4h-20zM406 272h20v4h-20zM438 272h12v4h-12zM214 276h20v4h-20zM410 276h12v4h-12zM446 276h8v4h-8zM222 280h20v4h-20zM414 280h8v4h-8zM450 280h4v4h-4zM230 284h20v4h-20zM414 284h8v4h-8zM450 284h4v4h-4zM234 288h24v4h-24zM414 288h8v4h-8zM450 288h4v4h-4zM238 292h24v4h-24zM418 292h8v4h-8zM450 292h4v4h-4zM246 296h20v4h-20zM422 296h8v4h-8zM442 296h12v4h-12zM246 300h20v4h-20zM426 300h20v4h-20zM250 304h20v4h-20zM254 308h20v4h-20zM254 312h24v4h-24zM258 316h24v4h-24zM266 320h20v4h-20zM270 324h24v4h-24zM274 328h24v4h-24zM282 332h16v4h-16zM286 336h16v4h-16zM286 340h16v4h-16zM290 344h16v4h-16zM294 348h12v4h-12zM298 352h12v4h-12zM302 356h8v4h-8zM302 360h12v4h-12zM306 364h8v4h-8zM310 368h8v4h-8zM314 372h4v4h-4zM314 376h8v4h-8zM318 380h4v4h-4zM318 384h8v4h-8zM318 388h8v4h-8zM322 392h8v4h-8zM322 396h12v4h-12zM326 400h16v4h-16zM154 404h36v4h-36zM330 404h20v4h-20zM394 404h16v4h-16zM194 408h8v4h-8zM338 408h20v4h-20zM394 408h20v4h-20zM202 412h4v4h-4zM346 412h12v4h-12zM390 412h24v4h-24zM206 416h4v4h-4zM350 416h12v4h-12zM390 416h24v4h-24zM206 420h4v4h-4zM294 420h16v4h-16zM354 420h8v4h-8zM390 420h24v4h-24zM282 424h32v4h-32zM354 424h12v4h-12zM394 424h16v4h-16zM210 428h4v4h-4zM274 428h8v4h-8zM310 428h8v4h-8zM358 428h12v4h-12zM394 428h8v4h-8zM266 432h4v4h-4zM318 432h4v4h-4zM358 432h20v4h-20zM214 436h4v4h-4zM250 436h8v4h-8zM322 436h4v4h-4zM362 436h24v4h-24zM222 440h20v4h-20zM326 440h8v4h-8zM370 440h20v4h-20zM334 444h4v4h-4zM378 444h12v4h-12zM466 444h48v4h-48zM338 448h4v4h-4zM382 448h8v4h-8zM454 448h20v4h-20zM518 448h16v4h-16zM338 452h4v4h-4zM362 452h8v4h-8zM386 452h4v4h-4zM450 452h12v4h-12zM534 452h16v4h-16zM598 452h16v4h-16zM338 456h4v4h-4zM358 456h4v4h-4zM370 456h4v4h-4zM386 456h4v4h-4zM446 456h12v4h-12zM550 456h44v4h-44zM618 456h8v4h-8zM338 460h4v4h-4zM358 460h4v4h-4zM370 460h4v4h-4zM386 460h4v4h-4zM442 460h12v4h-12zM626 460h4v4h-4zM338 464h8v4h-8zM358 464h4v4h-4zM370 464h4v4h-4zM386 464h4v4h-4zM438 464h12v4h-12zM630 464h4v4h-4zM342 468h4v4h-4zM358 468h4v4h-4zM370 468h4v4h-4zM386 468h4v4h-4zM438 468h8v4h-8zM634 468h4v4h-4zM782 468h16v4h-16zM342 472h4v4h-4zM362 472h8v4h-8zM382 472h8v4h-8zM434 472h8v4h-8zM638 472h8v4h-8zM774 472h28v4h-28zM342 476h8v4h-8zM382 476h4v4h-4zM434 476h4v4h-4zM646 476h8v4h-8zM774 476h28v4h-28zM342 480h12v4h-12zM378 480h8v4h-8zM430 480h8v4h-8zM658 480h24v4h-24zM774 480h24v4h-24zM346 484h36v4h-36zM426 484h8v4h-8zM686 484h8v4h-8zM778 484h12v4h-12zM350 488h28v4h-28zM422 488h8v4h-8zM690 488h8v4h-8zM418 492h8v4h-8zM694 492h4v4h-4zM414 496h12v4h-12zM698 496h4v4h-4zM410 500h12v4h-12zM698 500h4v4h-4zM226 504h92v4h-92zM410 504h12v4h-12zM702 504h4v4h-4zM210 508h116v4h-116zM406 508h12v4h-12zM702 508h4v4h-4zM758 508h24v4h-24zM190 512h144v4h-144zM402 512h16v4h-16zM706 512h4v4h-4zM750 512h40v4h-40zM154 516h192v4h-192zM398 516h20v4h-20zM710 516h12v4h-12zM738 516h60v4h-60zM154 520h264v4h-264zM722 520h28v4h-28zM774 520h32v4h-32zM154 524h260v4h-260zM790 524h24v4h-24zM154 528h260v4h-260zM798 528h24v4h-24zM154 532h252v4h-252zM810 532h20v4h-20zM818 536h16v4h-16zM826 540h12v4h-12zM830 544h8v4h-8zM834 548h8v4h-8zM882 548h16v4h-16zM834 552h8v4h-8zM878 552h24v4h-24zM526 556h12v4h-12zM838 556h8v4h-8zM874 556h12v4h-12zM894 556h12v4h-12zM514 560h16v4h-16zM538 560h8v4h-8zM838 560h8v4h-8zM874 560h8v4h-8zM902 560h8v4h-8zM510 564h12v4h-12zM546 564h4v4h-4zM842 564h4v4h-4zM874 564h8v4h-8zM902 564h8v4h-8zM510 568h8v4h-8zM546 568h8v4h-8zM842 568h8v4h-8zM870 568h12v4h-12zM902 568h12v4h-12zM510 572h12v4h-12zM546 572h8v4h-8zM842 572h8v4h-8zM870 572h12v4h-12zM902 572h12v4h-12zM514 576h12v4h-12zM546 576h4v4h-4zM842 576h8v4h-8zM874 576h12v4h-12zM902 576h12v4h-12zM522 580h24v4h-24zM842 580h12v4h-12zM874 580h40v4h-40zM842 584h12v4h-12zM878 584h32v4h-32zM842 588h12v4h-12zM842 592h12v4h-12zM838 596h16v4h-16zM838 600h12v4h-12zM834 604h16v4h-16zM826 608h16v4h-16zM822 612h8v4h-8zM814 616h8v4h-8zM810 620h4v4h-4zM802 624h4v4h-4zM794 628h4v4h-4zM786 632h4v4h-4zM778 636h4v4h-4zM682 640h4v4h-4zM774 640h4v4h-4zM678 644h20v4h-20zM770 644h4v4h-4zM674 648h8v4h-8zM698 648h8v4h-8zM766 648h4v4h-4zM674 652h4v4h-4zM718 652h16v4h-16zM758 652h8v4h-8zM674 656h4v4h-4zM674 660h4v4h-4zM678 672h4v4h-4zM678 676h4v4h-4zM678 680h4v4h-4zM682 684h4v4h-4zM690 696h4v4h-4zM694 704h4v4h-4zM698 708h4v4h-4zM702 712h4v4h-4zM702 716h4v4h-4zM706 720h4v4h-4zM706 724h8v4h-8zM706 728h8v4h-8zM706 732h12v4h-12zM706 736h16v4h-16zM706 740h24v4h-24zM710 744h32v4h-32zM154 748h544v4h-544zM738 748h16v4h-16zM154 752h544v4h-544zM750 752h8v4h-8zM154 756h540v4h-540zM758 756h16v4h-16zM654 760h32v4h-32zM786 764h4v4h-4zM790 772h4v4h-4zM154 776h604v4h-604zM790 776h4v4h-4zM754 780h16v4h-16zM786 780h4v4h-4zM774 784h8v4h-8z"/>
<path fill="#ff1200" d="M338 104h8v28h-8zM338 132h8v4h-8zM338 136h8v4h-8zM338 140h12v4h-12zM342 144h8v4h-8zM342 148h12v4h-12zM342 152h20v4h-20zM154 156h44v4h-44zM350 156h24v4h-24zM154 160h56v4h-56zM370 160h12v4h-12zM154 164h68v4h-68zM250 164h4v4h-4zM378 164h8v4h-8zM154 168h124v4h-124zM382 168h8v4h-8zM154 172h88v4h-88zM274 172h12v4h-12zM382 172h8v4h-8zM182 176h52v4h-52zM282 176h8v4h-8zM382 176h8v4h-8zM198 180h32v4h-32zM286 180h8v4h-8zM382 180h8v4h-8zM210 184h12v4h-12zM286 184h12v4h-12zM382 184h4v4h-4zM290 188h12v4h-12zM322 188h16v4h-16zM374 188h8v4h-8zM154 192h28v4h-28zM290 192h16v4h-16zM314 192h64v4h-64zM154 196h44v4h-44zM290 196h68v4h-68zM154 200h48v4h-48zM290 200h40v4h-40zM154 204h48v4h-48zM290 204h32v4h-32zM154 208h48v4h-48zM294 208h24v4h-24zM154 212h44v4h-44zM294 212h16v4h-16zM154 216h40v4h-40zM154 220h32v4h-32zM154 268h40v4h-40zM154 272h52v4h-52zM426 272h12v4h-12zM186 276h28v4h-28zM422 276h24v4h-24zM202 280h20v4h-20zM422 280h28v4h-28zM206 284h24v4h-24zM422 284h12v4h-12zM438 284h12v4h-12zM214 288h20v4h-20zM422 288h28v4h-28zM218 292h20v4h-20zM426 292h24v4h-24zM222 296h24v4h-24zM430 296h12v4h-12zM226 300h20v4h-20zM226 304h24v4h-24zM230 308h24v4h-24zM234 312h20v4h-20zM238 316h20v4h-20zM242 320h24v4h-24zM250 324h20v4h-20zM254 328h20v4h-20zM262 332h20v4h-20zM266 336h20v4h-20zM274 340h12v4h-12zM278 344h12v4h-12zM282 348h12v4h-12zM286 352h12v4h-12zM286 356h16v4h-16zM290 360h12v4h-12zM294 364h12v4h-12zM298 368h12v4h-12zM302 372h12v4h-12zM306 376h8v4h-8zM310 380h8v4h-8zM310 384h8v4h-8zM314 388h4v4h-4zM314 392h8v4h-8zM314 396h8v4h-8zM154 400h36v4h-36zM314 400h12v4h-12zM190 404h12v4h-12zM314 404h16v4h-16zM202 408h4v4h-4zM314 408h24v4h-24zM206 412h4v4h-4zM302 412h44v4h-44zM210 416h4v4h-4zM290 416h32v4h-32zM338 416h12v4h-12zM210 420h4v4h-4zM282 420h12v4h-12zM310 420h12v4h-12zM342 420h12v4h-12zM210 424h4v4h-4zM274 424h8v4h-8zM314 424h8v4h-8zM346 424h8v4h-8zM214 428h4v4h-4zM266 428h8v4h-8zM318 428h8v4h-8zM350 428h8v4h-8zM214 432h4v4h-4zM258 432h8v4h-8zM322 432h8v4h-8zM350 432h8v4h-8zM218 436h8v4h-8zM242 436h8v4h-8zM326 436h12v4h-12zM350 436h12v4h-12zM334 440h36v4h-36zM338 444h40v4h-40zM342 448h40v4h-40zM474 448h44v4h-44zM342 452h12v4h-12zM358 452h4v4h-4zM370 452h16v4h-16zM462 452h20v4h-20zM522 452h12v4h-12zM342 456h8v4h-8zM354 456h4v4h-4zM374 456h12v4h-12zM458 456h12v4h-12zM534 456h16v4h-16zM594 456h24v4h-24zM342 460h8v4h-8zM354 460h4v4h-4zM374 460h12v4h-12zM454 460h12v4h-12zM554 460h40v4h-40zM618 460h8v4h-8zM346 464h12v4h-12zM374 464h12v4h-12zM450 464h12v4h-12zM626 464h4v4h-4zM346 468h12v4h-12zM374 468h12v4h-12zM446 468h12v4h-12zM630 468h4v4h-4zM346 472h16v4h-16zM370 472h12v4h-12zM442 472h12v4h-12zM634 472h4v4h-4zM350 476h32v4h-32zM438 476h12v4h-12zM638 476h8v4h-8zM354 480h24v4h-24zM438 480h8v4h-8zM642 480h16v4h-16zM434 484h8v4h-8zM674 484h12v4h-12zM430 488h8v4h-8zM686 488h4v4h-4zM426 492h12v4h-12zM690 492h4v4h-4zM426 496h8v4h-8zM694 496h4v4h-4zM422 500h12v4h-12zM422 504h8v4h-8zM698 504h4v4h-4zM418 508h12v4h-12zM418 512h12v4h-12zM702 512h4v4h-4zM418 516h12v4h-12zM706 516h4v4h-4zM418 520h12v4h-12zM710 520h12v4h-12zM750 520h24v4h-24zM414 524h16v4h-16zM722 524h68v4h-68zM414 528h16v4h-16zM750 528h48v4h-48zM406 532h24v4h-24zM762 532h48v4h-48zM154 536h276v4h-276zM770 536h48v4h-48zM154 540h272v4h-272zM778 540h48v4h-48zM154 544h272v4h-272zM778 544h52v4h-52zM154 548h264v4h-264zM778 548h56v4h-56zM218 552h104v4h-104zM394 552h4v4h-4zM778 552h32v4h-32zM826 552h8v4h-8zM506 556h20v4h-20zM538 556h8v4h-8zM778 556h28v4h-28zM830 556h8v4h-8zM886 556h8v4h-8zM498 560h16v4h-16zM546 560h8v4h-8zM782 560h24v4h-24zM830 560h8v4h-8zM882 560h20v4h-20zM498 564h12v4h-12zM550 564h4v4h-4zM786 564h12v4h-12zM834 564h8v4h-8zM882 564h20v4h-20zM498 568h12v4h-12zM554 568h4v4h-4zM834 568h8v4h-8zM882 568h20v4h-20zM502 572h8v4h-8zM554 572h4v4h-4zM834 572h8v4h-8zM882 572h20v4h-20zM506 576h8v4h-8zM550 576h4v4h-4zM834 576h8v4h-8zM886 576h16v4h-16zM514 580h8v4h-8zM546 580h8v4h-8zM834 580h8v4h-8zM526 584h20v4h-20zM834 584h8v4h-8zM834 588h8v4h-8zM834 592h8v4h-8zM830 596h8v4h-8zM826 600h12v4h-12zM822 604h12v4h-12zM818 608h8v4h-8zM814 612h8v4h-8zM810 616h4v4h-4zM806 620h4v4h-4zM794 624h8v4h-8zM786 628h8v4h-8zM778 632h8v4h-8zM674 636h16v4h-16zM774 636h4v4h-4zM670 640h12v4h-12zM686 640h12v4h-12zM770 640h4v4h-4zM670 644h8v4h-8zM698 644h4v4h-4zM766 644h4v4h-4zM670 648h4v4h-4zM706 648h12v4h-12zM762 648h4v4h-4zM670 652h4v4h-4zM734 652h24v4h-24zM670 656h4v4h-4zM670 660h4v4h-4zM674 664h4v4h-4zM674 668h4v4h-4zM678 684h4v4h-4zM682 688h4v4h-4zM686 692h4v4h-4zM690 700h4v4h-4zM690 704h4v4h-4zM694 708h4v4h-4zM694 712h8v4h-8zM698 716h4v4h-4zM698 720h8v4h-8zM698 724h8v4h-8zM698 728h8v4h-8zM690 732h16v4h-16zM154 736h552v4h-552zM154 740h552v4h-552zM154 744h556v4h-556zM698 748h40v4h-40zM698 752h52v4h-52zM694 756h64v4h-64zM154 760h500v4h-500zM686 760h52v4h-52zM742 760h40v4h-40zM154 764h580v4h-580zM746 764h16v4h-16zM782 764h4v4h-4zM154 768h604v4h-604zM786 768h4v4h-4zM154 772h608v4h-608zM786 772h4v4h-4zM758 776h8v4h-8zM786 776h4v4h-4zM770 780h16v4h-16z"/>
<path fill="#ff0900" d="M154 104h60v28h-60zM330 104h8v28h-8zM154 132h60v4h-60zM330 132h8v4h-8zM154 136h64v4h-64zM330 136h8v4h-8zM154 140h64v4h-64zM330 140h8v4h-8zM154 144h68v4h-68zM330 144h12v4h-12zM154 148h72v4h-72zM330 148h12v4h-12zM154 152h76v4h-76zM330 152h12v4h-12zM198 156h40v4h-40zM330 156h20v4h-20zM210 160h48v4h-48zM330 160h40v4h-40zM222 164h28v4h-28zM254 164h28v4h-28zM326 164h52v4h-52zM278 168h12v4h-12zM322 168h24v4h-24zM374 168h8v4h-8zM286 172h12v4h-12zM318 172h28v4h-28zM378 172h4v4h-4zM290 176h56v4h-56zM378 176h4v4h-4zM294 180h56v4h-56zM374 180h8v4h-8zM298 184h56v4h-56zM370 184h12v4h-12zM302 188h20v4h-20zM338 188h36v4h-36zM306 192h8v4h-8zM154 276h32v4h-32zM154 280h48v4h-48zM154 284h52v4h-52zM434 284h4v4h-4zM154 288h60v4h-60zM154 292h64v4h-64zM154 296h68v4h-68zM154 300h72v4h-72zM154 304h72v4h-72zM154 308h76v4h-76zM154 312h80v4h-80zM154 316h84v4h-84zM154 320h88v4h-88zM154 324h96v4h-96zM154 328h100v4h-100zM154 332h60v4h-60zM238 332h24v4h-24zM154 336h52v4h-52zM246 336h20v4h-20zM154 340h48v4h-48zM254 340h20v4h-20zM154 344h40v4h-40zM258 344h20v4h-20zM154 348h28v4h-28zM266 348h16v4h-16zM270 352h16v4h-16zM274 356h12v4h-12zM278 360h12v4h-12zM282 364h12v4h-12zM286 368h12v4h-12zM294 372h8v4h-8zM298 376h8v4h-8zM302 380h8v4h-8zM302 384h8v4h-8zM306 388h8v4h-8zM306 392h8v4h-8zM154 396h44v4h-44zM306 396h8v4h-8zM190 400h16v4h-16zM302 400h12v4h-12zM202 404h8v4h-8zM298 404h16v4h-16zM206 408h8v4h-8zM290 408h24v4h-24zM210 412h4v4h-4zM282 412h20v4h-20zM278 416h12v4h-12zM322 416h16v4h-16zM214 420h4v4h-4zM274 420h8v4h-8zM322 420h20v4h-20zM214 424h4v4h-4zM266 424h8v4h-8zM322 424h24v4h-24zM218 428h4v4h-4zM258 428h8v4h-8zM326 428h24v4h-24zM218 432h8v4h-8zM250 432h8v4h-8zM330 432h20v4h-20zM226 436h16v4h-16zM338 436h12v4h-12zM354 452h4v4h-4zM482 452h40v4h-40zM350 456h4v4h-4zM470 456h20v4h-20zM518 456h16v4h-16zM350 460h4v4h-4zM466 460h12v4h-12zM534 460h20v4h-20zM594 460h24v4h-24zM462 464h12v4h-12zM550 464h44v4h-44zM618 464h8v4h-8zM458 468h12v4h-12zM622 468h8v4h-8zM454 472h12v4h-12zM626 472h8v4h-8zM450 476h12v4h-12zM630 476h8v4h-8zM446 480h16v4h-16zM634 480h8v4h-8zM442 484h16v4h-16zM642 484h32v4h-32zM438 488h16v4h-16zM678 488h8v4h-8zM438 492h16v4h-16zM686 492h4v4h-4zM434 496h16v4h-16zM690 496h4v4h-4zM434 500h12v4h-12zM694 500h4v4h-4zM430 504h16v4h-16zM694 504h4v4h-4zM430 508h16v4h-16zM698 508h4v4h-4zM430 512h16v4h-16zM698 512h4v4h-4zM430 516h16v4h-16zM702 516h4v4h-4zM430 520h16v4h-16zM706 520h4v4h-4zM430 524h20v4h-20zM710 524h12v4h-12zM430 528h20v4h-20zM722 528h28v4h-28zM430 532h20v4h-20zM738 532h24v4h-24zM430 536h20v4h-20zM750 536h20v4h-20zM426 540h28v4h-28zM758 540h20v4h-20zM426 544h28v4h-28zM762 544h16v4h-16zM418 548h36v4h-36zM766 548h12v4h-12zM154 552h64v4h-64zM322 552h72v4h-72zM398 552h56v4h-56zM498 552h48v4h-48zM770 552h8v4h-8zM810 552h16v4h-16zM154 556h300v4h-300zM486 556h20v4h-20zM546 556h8v4h-8zM770 556h8v4h-8zM806 556h24v4h-24zM154 560h296v4h-296zM482 560h16v4h-16zM554 560h4v4h-4zM774 560h8v4h-8zM806 560h24v4h-24zM154 564h208v4h-208zM370 564h52v4h-52zM482 564h16v4h-16zM554 564h4v4h-4zM774 564h12v4h-12zM798 564h36v4h-36zM486 568h12v4h-12zM778 568h32v4h-32zM822 568h12v4h-12zM490 572h12v4h-12zM786 572h20v4h-20zM826 572h8v4h-8zM494 576h12v4h-12zM554 576h4v4h-4zM826 576h8v4h-8zM502 580h12v4h-12zM554 580h4v4h-4zM826 580h8v4h-8zM514 584h12v4h-12zM546 584h8v4h-8zM826 584h8v4h-8zM826 588h8v4h-8zM826 592h8v4h-8zM822 596h8v4h-8zM822 600h4v4h-4zM818 604h4v4h-4zM814 608h4v4h-4zM810 612h4v4h-4zM806 616h4v4h-4zM798 620h8v4h-8zM790 624h4v4h-4zM670 628h20v4h-20zM782 628h4v4h-4zM670 632h24v4h-24zM774 632h4v4h-4zM670 636h4v4h-4zM690 636h8v4h-8zM770 636h4v4h-4zM666 640h4v4h-4zM698 640h4v4h-4zM766 640h4v4h-4zM666 644h4v4h-4zM702 644h8v4h-8zM762 644h4v4h-4zM666 648h4v4h-4zM718 648h16v4h-16zM754 648h8v4h-8zM666 652h4v4h-4zM666 656h4v4h-4zM670 664h4v4h-4zM674 672h4v4h-4zM686 696h4v4h-4zM686 700h4v4h-4zM686 704h4v4h-4zM686 708h8v4h-8zM690 712h4v4h-4zM690 716h8v4h-8zM690 720h8v4h-8zM686 724h12v4h-12zM154 728h544v4h-544zM154 732h536v4h-536zM738 760h4v4h-4zM734 764h12v4h-12zM762 764h8v4h-8zM758 768h8v4h-8zM782 768h4v4h-4zM762 772h8v4h-8zM782 772h4v4h-4zM766 776h20v4h-20z"/>
<path fill="#ff0000" d="M214 104h16v28h-16zM322 104h8v28h-8zM214 132h20v4h-20zM322 132h8v4h-8zM218 136h16v4h-16zM322 136h8v4h-8zM218 140h16v4h-16zM318 140h12v4h-12zM222 144h16v4h-16zM318 144h12v4h-12zM226 148h16v4h-16zM318 148h12v4h-12zM230 152h16v4h-16zM318 152h12v4h-12zM238 156h20v4h-20zM314 156h16v4h-16zM258 160h28v4h-28zM310 160h20v4h-20zM282 164h44v4h-44zM290 168h32v4h-32zM346 168h28v4h-28zM298 172h20v4h-20zM346 172h32v4h-32zM346 176h32v4h-32zM350 180h24v4h-24zM354 184h16v4h-16zM214 332h24v4h-24zM206 336h40v4h-40zM202 340h52v4h-52zM194 344h64v4h-64zM182 348h36v4h-36zM242 348h24v4h-24zM154 352h60v4h-60zM250 352h20v4h-20zM154 356h56v4h-56zM254 356h20v4h-20zM154 360h56v4h-56zM258 360h20v4h-20zM154 364h52v4h-52zM262 364h20v4h-20zM154 368h44v4h-44zM266 368h20v4h-20zM270 372h24v4h-24zM278 376h20v4h-20zM286 380h16v4h-16zM290 384h12v4h-12zM154 388h52v4h-52zM294 388h12v4h-12zM154 392h60v4h-60zM294 392h12v4h-12zM198 396h16v4h-16zM290 396h16v4h-16zM206 400h12v4h-12zM286 400h16v4h-16zM210 404h8v4h-8zM278 404h20v4h-20zM214 408h4v4h-4zM274 408h16v4h-16zM214 412h4v4h-4zM270 412h12v4h-12zM214 416h4v4h-4zM266 416h12v4h-12zM218 420h4v4h-4zM262 420h12v4h-12zM218 424h4v4h-4zM258 424h8v4h-8zM222 428h4v4h-4zM250 428h8v4h-8zM226 432h8v4h-8zM242 432h8v4h-8zM490 456h28v4h-28zM478 460h20v4h-20zM514 460h20v4h-20zM474 464h16v4h-16zM530 464h20v4h-20zM594 464h24v4h-24zM470 468h12v4h-12zM546 468h52v4h-52zM614 468h8v4h-8zM466 472h12v4h-12zM566 472h16v4h-16zM622 472h4v4h-4zM462 476h16v4h-16zM626 476h4v4h-4zM462 480h16v4h-16zM630 480h4v4h-4zM458 484h20v4h-20zM634 484h8v4h-8zM454 488h20v4h-20zM638 488h40v4h-40zM454 492h20v4h-20zM678 492h8v4h-8zM450 496h24v4h-24zM686 496h4v4h-4zM446 500h28v4h-28zM690 500h4v4h-4zM446 504h28v4h-28zM690 504h4v4h-4zM446 508h28v4h-28zM694 508h4v4h-4zM446 512h28v4h-28zM694 512h4v4h-4zM446 516h28v4h-28zM698 516h4v4h-4zM446 520h24v4h-24zM698 520h8v4h-8zM450 524h24v4h-24zM702 524h8v4h-8zM450 528h24v4h-24zM710 528h12v4h-12zM450 532h24v4h-24zM722 532h16v4h-16zM450 536h24v4h-24zM734 536h16v4h-16zM454 540h24v4h-24zM742 540h16v4h-16zM454 544h32v4h-32zM750 544h12v4h-12zM454 548h80v4h-80zM754 548h12v4h-12zM454 552h44v4h-44zM546 552h4v4h-4zM758 552h12v4h-12zM454 556h32v4h-32zM554 556h4v4h-4zM762 556h8v4h-8zM450 560h32v4h-32zM766 560h8v4h-8zM362 564h8v4h-8zM422 564h60v4h-60zM558 564h4v4h-4zM770 564h4v4h-4zM154 568h332v4h-332zM558 568h4v4h-4zM770 568h8v4h-8zM810 568h12v4h-12zM154 572h336v4h-336zM558 572h4v4h-4zM774 572h12v4h-12zM806 572h20v4h-20zM478 576h16v4h-16zM558 576h4v4h-4zM782 576h44v4h-44zM486 580h16v4h-16zM558 580h4v4h-4zM810 580h16v4h-16zM498 584h16v4h-16zM554 584h4v4h-4zM814 584h12v4h-12zM518 588h32v4h-32zM818 588h8v4h-8zM818 592h8v4h-8zM818 596h4v4h-4zM814 600h8v4h-8zM814 604h4v4h-4zM810 608h4v4h-4zM806 612h4v4h-4zM802 616h4v4h-4zM670 620h16v4h-16zM794 620h4v4h-4zM666 624h24v4h-24zM782 624h8v4h-8zM666 628h4v4h-4zM690 628h4v4h-4zM774 628h8v4h-8zM666 632h4v4h-4zM694 632h4v4h-4zM770 632h4v4h-4zM666 636h4v4h-4zM698 636h4v4h-4zM766 636h4v4h-4zM702 640h8v4h-8zM762 640h4v4h-4zM710 644h12v4h-12zM754 644h8v4h-8zM734 648h20v4h-20zM666 660h4v4h-4zM666 664h4v4h-4zM670 668h4v4h-4zM674 676h4v4h-4zM674 680h4v4h-4zM674 684h4v4h-4zM674 688h8v4h-8zM682 692h4v4h-4zM682 704h4v4h-4zM682 708h4v4h-4zM678 712h12v4h-12zM678 716h12v4h-12zM154 720h536v4h-536zM154 724h532v4h-532zM770 764h12v4h-12zM766 768h8v4h-8zM778 768h4v4h-4zM770 772h12v4h-12z"/>
<path fill="#f20000" d="M230 104h12v28h-12zM310 104h12v28h-12zM234 132h8v4h-8zM310 132h12v4h-12zM234 136h8v4h-8zM310 136h12v4h-12zM234 140h12v4h-12zM310 140h8v4h-8zM238 144h8v4h-8zM306 144h12v4h-12zM242 148h8v4h-8zM306 148h12v4h-12zM246 152h16v4h-16zM298 152h20v4h-20zM258 156h56v4h-56zM286 160h24v4h-24zM218 348h24v4h-24zM214 352h36v4h-36zM210 356h44v4h-44zM210 360h48v4h-48zM206 364h56v4h-56zM198 368h68v4h-68zM154 372h116v4h-116zM154 376h124v4h-124zM154 380h132v4h-132zM154 384h136v4h-136zM206 388h88v4h-88zM214 392h80v4h-80zM214 396h76v4h-76zM218 400h16v4h-16zM246 400h40v4h-40zM218 404h12v4h-12zM254 404h24v4h-24zM218 408h8v4h-8zM258 408h16v4h-16zM218 412h8v4h-8zM258 412h12v4h-12zM218 416h8v4h-8zM258 416h8v4h-8zM222 420h4v4h-4zM254 420h8v4h-8zM222 424h4v4h-4zM250 424h8v4h-8zM226 428h8v4h-8zM242 428h8v4h-8zM234 432h8v4h-8zM498 460h16v4h-16zM490 464h40v4h-40zM482 468h20v4h-20zM522 468h24v4h-24zM598 468h16v4h-16zM478 472h16v4h-16zM538 472h28v4h-28zM582 472h40v4h-40zM478 476h16v4h-16zM554 476h36v4h-36zM618 476h8v4h-8zM478 480h12v4h-12zM622 480h8v4h-8zM478 484h16v4h-16zM622 484h12v4h-12zM474 488h20v4h-20zM626 488h12v4h-12zM474 492h20v4h-20zM634 492h44v4h-44zM474 496h20v4h-20zM674 496h12v4h-12zM474 500h20v4h-20zM682 500h8v4h-8zM474 504h16v4h-16zM686 504h4v4h-4zM474 508h16v4h-16zM690 508h4v4h-4zM474 512h16v4h-16zM690 512h4v4h-4zM474 516h16v4h-16zM690 516h8v4h-8zM470 520h20v4h-20zM694 520h4v4h-4zM474 524h16v4h-16zM694 524h8v4h-8zM474 528h16v4h-16zM698 528h12v4h-12zM474 532h20v4h-20zM706 532h16v4h-16zM474 536h24v4h-24zM718 536h16v4h-16zM478 540h28v4h-28zM730 540h12v4h-12zM486 544h40v4h-40zM738 544h12v4h-12zM534 548h12v4h-12zM746 548h8v4h-8zM550 552h8v4h-8zM750 552h8v4h-8zM558 556h4v4h-4zM754 556h8v4h-8zM558 560h4v4h-4zM758 560h8v4h-8zM562 564h4v4h-4zM762 564h8v4h-8zM562 568h4v4h-4zM766 568h4v4h-4zM562 572h4v4h-4zM766 572h8v4h-8zM154 576h324v4h-324zM562 576h4v4h-4zM770 576h12v4h-12zM154 580h332v4h-332zM562 580h4v4h-4zM782 580h28v4h-28zM478 584h20v4h-20zM558 584h4v4h-4zM798 584h16v4h-16zM498 588h20v4h-20zM550 588h8v4h-8zM810 588h8v4h-8zM522 592h28v4h-28zM810 592h8v4h-8zM810 596h8v4h-8zM810 600h4v4h-4zM810 604h4v4h-4zM674 608h8v4h-8zM806 608h4v4h-4zM670 612h16v4h-16zM802 612h4v4h-4zM666 616h24v4h-24zM798 616h4v4h-4zM662 620h8v4h-8zM686 620h8v4h-8zM786 620h8v4h-8zM662 624h4v4h-4zM690 624h8v4h-8zM778 624h4v4h-4zM658 628h8v4h-8zM694 628h4v4h-4zM770 628h4v4h-4zM658 632h8v4h-8zM698 632h4v4h-4zM766 632h4v4h-4zM662 636h4v4h-4zM702 636h4v4h-4zM762 636h4v4h-4zM662 640h4v4h-4zM710 640h4v4h-4zM758 640h4v4h-4zM662 644h4v4h-4zM722 644h12v4h-12zM746 644h8v4h-8zM662 648h4v4h-4zM662 652h4v4h-4zM662 656h4v4h-4zM662 660h4v4h-4zM662 664h4v4h-4zM670 672h4v4h-4zM654 684h8v4h-8zM670 684h4v4h-4zM654 688h20v4h-20zM654 692h28v4h-28zM654 696h24v4h-24zM682 696h4v4h-4zM654 700h24v4h-24zM682 700h4v4h-4zM154 704h472v4h-472zM646 704h36v4h-36zM154 708h528v4h-528zM154 712h524v4h-524zM154 716h524v4h-524zM774 768h4v4h-4z"/>
<path fill="#e50000" d="M242 104h4v28h-4zM298 104h12v28h-12zM242 132h8v4h-8zM298 132h12v4h-12zM242 136h8v4h-8zM298 136h12v4h-12zM246 140h8v4h-8zM294 140h16v4h-16zM246 144h12v4h-12zM290 144h16v4h-16zM250 148h24v4h-24zM278 148h28v4h-28zM262 152h36v4h-36zM234 400h12v4h-12zM230 404h24v4h-24zM226 408h32v4h-32zM226 412h8v4h-8zM246 412h12v4h-12zM226 416h8v4h-8zM246 416h12v4h-12zM226 420h8v4h-8zM246 420h8v4h-8zM226 424h24v4h-24zM234 428h8v4h-8zM502 468h20v4h-20zM494 472h44v4h-44zM494 476h60v4h-60zM590 476h28v4h-28zM490 480h132v4h-132zM494 484h20v4h-20zM558 484h36v4h-36zM606 484h16v4h-16zM494 488h20v4h-20zM614 488h12v4h-12zM494 492h16v4h-16zM618 492h16v4h-16zM494 496h16v4h-16zM622 496h52v4h-52zM494 500h16v4h-16zM634 500h32v4h-32zM670 500h12v4h-12zM490 504h16v4h-16zM678 504h8v4h-8zM490 508h16v4h-16zM682 508h8v4h-8zM490 512h16v4h-16zM682 512h8v4h-8zM490 516h12v4h-12zM686 516h4v4h-4zM490 520h12v4h-12zM686 520h8v4h-8zM490 524h12v4h-12zM686 524h8v4h-8zM490 528h12v4h-12zM686 528h12v4h-12zM494 532h12v4h-12zM690 532h16v4h-16zM498 536h16v4h-16zM694 536h24v4h-24zM506 540h20v4h-20zM710 540h20v4h-20zM526 544h20v4h-20zM726 544h12v4h-12zM546 548h8v4h-8zM734 548h12v4h-12zM558 552h4v4h-4zM742 552h8v4h-8zM562 556h4v4h-4zM746 556h8v4h-8zM562 560h4v4h-4zM750 560h8v4h-8zM754 564h8v4h-8zM566 568h4v4h-4zM758 568h8v4h-8zM566 572h4v4h-4zM758 572h8v4h-8zM566 576h4v4h-4zM762 576h8v4h-8zM566 580h4v4h-4zM770 580h12v4h-12zM154 584h324v4h-324zM562 584h4v4h-4zM782 584h16v4h-16zM426 588h32v4h-32zM462 588h36v4h-36zM558 588h8v4h-8zM798 588h12v4h-12zM494 592h28v4h-28zM550 592h12v4h-12zM806 592h4v4h-4zM522 596h28v4h-28zM806 596h4v4h-4zM670 600h16v4h-16zM806 600h4v4h-4zM666 604h24v4h-24zM806 604h4v4h-4zM662 608h12v4h-12zM682 608h12v4h-12zM802 608h4v4h-4zM662 612h8v4h-8zM686 612h8v4h-8zM798 612h4v4h-4zM658 616h8v4h-8zM690 616h8v4h-8zM790 616h8v4h-8zM654 620h8v4h-8zM694 620h4v4h-4zM782 620h4v4h-4zM654 624h8v4h-8zM698 624h4v4h-4zM770 624h8v4h-8zM654 628h4v4h-4zM698 628h4v4h-4zM766 628h4v4h-4zM154 632h340v4h-340zM558 632h56v4h-56zM654 632h4v4h-4zM702 632h4v4h-4zM762 632h4v4h-4zM154 636h472v4h-472zM658 636h4v4h-4zM706 636h8v4h-8zM758 636h4v4h-4zM154 640h476v4h-476zM658 640h4v4h-4zM714 640h12v4h-12zM750 640h8v4h-8zM154 644h476v4h-476zM734 644h12v4h-12zM154 648h480v4h-480zM154 652h480v4h-480zM154 656h480v4h-480zM154 660h480v4h-480zM154 664h476v4h-476zM658 664h4v4h-4zM154 668h476v4h-476zM646 668h24v4h-24zM154 672h476v4h-476zM642 672h24v4h-24zM154 676h476v4h-476zM642 676h20v4h-20zM670 676h4v4h-4zM154 680h480v4h-480zM642 680h24v4h-24zM670 680h4v4h-4zM154 684h500v4h-500zM662 684h8v4h-8zM154 688h500v4h-500zM154 692h500v4h-500zM154 696h500v4h-500zM678 696h4v4h-4zM154 700h500v4h-500zM678 700h4v4h-4zM626 704h20v4h-20z"/>
<path fill="#d80000" d="M246 104h8v28h-8zM286 104h12v28h-12zM250 132h8v4h-8zM286 132h12v4h-12zM250 136h8v4h-8zM286 136h12v4h-12zM254 140h12v4h-12zM278 140h16v4h-16zM258 144h32v4h-32zM274 148h4v4h-4zM234 412h12v4h-12zM234 416h12v4h-12zM234 420h12v4h-12zM514 484h44v4h-44zM594 484h12v4h-12zM514 488h100v4h-100zM510 492h108v4h-108zM510 496h24v4h-24zM594 496h28v4h-28zM510 500h16v4h-16zM602 500h32v4h-32zM666 500h4v4h-4zM506 504h16v4h-16zM610 504h68v4h-68zM506 508h12v4h-12zM618 508h16v4h-16zM670 508h12v4h-12zM506 512h12v4h-12zM674 512h8v4h-8zM502 516h12v4h-12zM678 516h8v4h-8zM502 520h12v4h-12zM678 520h8v4h-8zM502 524h12v4h-12zM678 524h8v4h-8zM502 528h16v4h-16zM678 528h8v4h-8zM506 532h16v4h-16zM678 532h12v4h-12zM514 536h16v4h-16zM678 536h16v4h-16zM526 540h16v4h-16zM678 540h32v4h-32zM546 544h8v4h-8zM682 544h44v4h-44zM554 548h8v4h-8zM686 548h16v4h-16zM722 548h12v4h-12zM562 552h4v4h-4zM730 552h12v4h-12zM566 556h4v4h-4zM738 556h8v4h-8zM566 560h4v4h-4zM742 560h8v4h-8zM566 564h4v4h-4zM746 564h8v4h-8zM750 568h8v4h-8zM570 572h4v4h-4zM750 572h8v4h-8zM570 576h4v4h-4zM754 576h8v4h-8zM570 580h4v4h-4zM758 580h12v4h-12zM566 584h4v4h-4zM678 584h4v4h-4zM762 584h20v4h-20zM154 588h272v4h-272zM458 588h4v4h-4zM566 588h4v4h-4zM670 588h16v4h-16zM786 588h12v4h-12zM154 592h340v4h-340zM562 592h8v4h-8zM666 592h24v4h-24zM798 592h8v4h-8zM414 596h108v4h-108zM550 596h16v4h-16zM662 596h32v4h-32zM798 596h8v4h-8zM506 600h52v4h-52zM658 600h12v4h-12zM686 600h8v4h-8zM802 600h4v4h-4zM654 604h12v4h-12zM690 604h8v4h-8zM798 604h8v4h-8zM654 608h8v4h-8zM694 608h4v4h-4zM798 608h4v4h-4zM650 612h12v4h-12zM694 612h4v4h-4zM790 612h8v4h-8zM570 616h24v4h-24zM650 616h8v4h-8zM698 616h4v4h-4zM782 616h8v4h-8zM562 620h44v4h-44zM650 620h4v4h-4zM698 620h4v4h-4zM770 620h12v4h-12zM154 624h368v4h-368zM550 624h76v4h-76zM650 624h4v4h-4zM702 624h4v4h-4zM762 624h8v4h-8zM154 628h476v4h-476zM650 628h4v4h-4zM702 628h4v4h-4zM758 628h8v4h-8zM494 632h64v4h-64zM614 632h16v4h-16zM650 632h4v4h-4zM706 632h8v4h-8zM754 632h8v4h-8zM626 636h8v4h-8zM650 636h8v4h-8zM714 636h8v4h-8zM750 636h8v4h-8zM630 640h8v4h-8zM654 640h4v4h-4zM726 640h24v4h-24zM630 644h16v4h-16zM658 644h4v4h-4zM634 648h12v4h-12zM658 648h4v4h-4zM634 652h12v4h-12zM634 656h12v4h-12zM658 656h4v4h-4zM634 660h16v4h-16zM658 660h4v4h-4zM630 664h28v4h-28zM630 668h16v4h-16zM630 672h12v4h-12zM666 672h4v4h-4zM630 676h12v4h-12zM662 676h8v4h-8zM634 680h8v4h-8zM666 680h4v4h-4z"/>
<path fill="#ca0000" d="M254 104h32v28h-32zM258 132h28v4h-28zM258 136h28v4h-28zM266 140h12v4h-12zM534 496h60v4h-60zM526 500h76v4h-76zM522 504h20v4h-20zM582 504h28v4h-28zM518 508h16v4h-16zM590 508h28v4h-28zM634 508h36v4h-36zM518 512h12v4h-12zM594 512h80v4h-80zM514 516h12v4h-12zM598 516h40v4h-40zM658 516h20v4h-20zM514 520h12v4h-12zM602 520h24v4h-24zM662 520h16v4h-16zM514 524h12v4h-12zM666 524h12v4h-12zM518 528h8v4h-8zM666 528h12v4h-12zM522 532h12v4h-12zM670 532h8v4h-8zM530 536h12v4h-12zM670 536h8v4h-8zM542 540h12v4h-12zM670 540h8v4h-8zM554 544h8v4h-8zM670 544h12v4h-12zM562 548h4v4h-4zM670 548h16v4h-16zM702 548h20v4h-20zM566 552h4v4h-4zM670 552h60v4h-60zM570 556h4v4h-4zM670 556h36v4h-36zM726 556h12v4h-12zM570 560h4v4h-4zM670 560h32v4h-32zM734 560h8v4h-8zM570 564h4v4h-4zM670 564h28v4h-28zM738 564h8v4h-8zM570 568h8v4h-8zM670 568h28v4h-28zM742 568h8v4h-8zM574 572h4v4h-4zM670 572h24v4h-24zM742 572h8v4h-8zM574 576h4v4h-4zM666 576h28v4h-28zM746 576h8v4h-8zM574 580h4v4h-4zM666 580h28v4h-28zM746 580h12v4h-12zM570 584h8v4h-8zM662 584h16v4h-16zM682 584h12v4h-12zM750 584h12v4h-12zM570 588h8v4h-8zM658 588h12v4h-12zM686 588h12v4h-12zM754 588h32v4h-32zM570 592h8v4h-8zM654 592h12v4h-12zM690 592h8v4h-8zM758 592h12v4h-12zM782 592h16v4h-16zM154 596h260v4h-260zM566 596h16v4h-16zM650 596h12v4h-12zM694 596h4v4h-4zM794 596h4v4h-4zM154 600h352v4h-352zM558 600h28v4h-28zM646 600h12v4h-12zM694 600h4v4h-4zM794 600h8v4h-8zM154 604h440v4h-440zM642 604h12v4h-12zM698 604h4v4h-4zM794 604h4v4h-4zM154 608h448v4h-448zM642 608h12v4h-12zM698 608h4v4h-4zM790 608h8v4h-8zM154 612h372v4h-372zM546 612h84v4h-84zM642 612h8v4h-8zM698 612h4v4h-4zM782 612h8v4h-8zM154 616h380v4h-380zM538 616h32v4h-32zM594 616h40v4h-40zM646 616h4v4h-4zM702 616h4v4h-4zM762 616h20v4h-20zM154 620h408v4h-408zM606 620h28v4h-28zM646 620h4v4h-4zM702 620h4v4h-4zM758 620h12v4h-12zM522 624h28v4h-28zM626 624h8v4h-8zM646 624h4v4h-4zM706 624h4v4h-4zM754 624h8v4h-8zM630 628h4v4h-4zM646 628h4v4h-4zM706 628h8v4h-8zM750 628h8v4h-8zM630 632h4v4h-4zM646 632h4v4h-4zM714 632h4v4h-4zM746 632h8v4h-8zM634 636h4v4h-4zM642 636h8v4h-8zM722 636h28v4h-28zM638 640h16v4h-16zM646 644h12v4h-12zM646 648h4v4h-4zM646 652h4v4h-4zM658 652h4v4h-4zM646 656h12v4h-12zM650 660h8v4h-8z"/>
<path fill="#bd0000" d="M542 504h40v4h-40zM534 508h56v4h-56zM530 512h24v4h-24zM566 512h28v4h-28zM526 516h16v4h-16zM578 516h20v4h-20zM638 516h20v4h-20zM526 520h12v4h-12zM582 520h20v4h-20zM626 520h36v4h-36zM526 524h12v4h-12zM586 524h80v4h-80zM526 528h16v4h-16zM590 528h44v4h-44zM654 528h12v4h-12zM534 532h16v4h-16zM594 532h36v4h-36zM658 532h12v4h-12zM542 536h20v4h-20zM598 536h28v4h-28zM658 536h12v4h-12zM554 540h12v4h-12zM602 540h20v4h-20zM662 540h8v4h-8zM562 544h12v4h-12zM606 544h12v4h-12zM662 544h8v4h-8zM566 548h8v4h-8zM662 548h8v4h-8zM570 552h8v4h-8zM662 552h8v4h-8zM574 556h4v4h-4zM662 556h8v4h-8zM706 556h20v4h-20zM574 560h8v4h-8zM662 560h8v4h-8zM702 560h32v4h-32zM574 564h8v4h-8zM662 564h8v4h-8zM698 564h16v4h-16zM722 564h16v4h-16zM578 568h4v4h-4zM658 568h12v4h-12zM698 568h8v4h-8zM730 568h12v4h-12zM578 572h4v4h-4zM658 572h12v4h-12zM694 572h12v4h-12zM734 572h8v4h-8zM578 576h8v4h-8zM654 576h12v4h-12zM694 576h8v4h-8zM738 576h8v4h-8zM578 580h8v4h-8zM650 580h16v4h-16zM694 580h8v4h-8zM738 580h8v4h-8zM578 584h12v4h-12zM646 584h16v4h-16zM694 584h8v4h-8zM742 584h8v4h-8zM578 588h16v4h-16zM638 588h20v4h-20zM698 588h4v4h-4zM742 588h12v4h-12zM578 592h24v4h-24zM630 592h24v4h-24zM698 592h4v4h-4zM742 592h16v4h-16zM770 592h12v4h-12zM582 596h68v4h-68zM698 596h4v4h-4zM742 596h52v4h-52zM586 600h60v4h-60zM698 600h8v4h-8zM742 600h52v4h-52zM594 604h48v4h-48zM702 604h4v4h-4zM746 604h48v4h-48zM602 608h40v4h-40zM702 608h4v4h-4zM746 608h44v4h-44zM526 612h20v4h-20zM630 612h12v4h-12zM702 612h8v4h-8zM746 612h36v4h-36zM534 616h4v4h-4zM634 616h12v4h-12zM706 616h4v4h-4zM746 616h16v4h-16zM634 620h4v4h-4zM642 620h4v4h-4zM706 620h8v4h-8zM746 620h12v4h-12zM634 624h4v4h-4zM642 624h4v4h-4zM710 624h8v4h-8zM746 624h8v4h-8zM634 628h4v4h-4zM714 628h8v4h-8zM742 628h8v4h-8zM634 632h12v4h-12zM718 632h28v4h-28zM638 636h4v4h-4zM650 648h8v4h-8zM650 652h8v4h-8z"/>
<path fill="#b00000" d="M554 512h12v4h-12zM542 516h36v4h-36zM538 520h44v4h-44zM538 524h48v4h-48zM542 528h48v4h-48zM634 528h20v4h-20zM550 532h44v4h-44zM630 532h28v4h-28zM562 536h36v4h-36zM626 536h32v4h-32zM566 540h36v4h-36zM622 540h40v4h-40zM574 544h32v4h-32zM618 544h44v4h-44zM574 548h88v4h-88zM578 552h84v4h-84zM578 556h84v4h-84zM582 560h80v4h-80zM582 564h80v4h-80zM714 564h8v4h-8zM582 568h76v4h-76zM706 568h24v4h-24zM582 572h76v4h-76zM706 572h28v4h-28zM586 576h68v4h-68zM702 576h16v4h-16zM722 576h16v4h-16zM586 580h64v4h-64zM702 580h12v4h-12zM730 580h8v4h-8zM590 584h56v4h-56zM702 584h8v4h-8zM730 584h12v4h-12zM594 588h44v4h-44zM702 588h8v4h-8zM734 588h8v4h-8zM602 592h28v4h-28zM702 592h8v4h-8zM734 592h8v4h-8zM702 596h8v4h-8zM734 596h8v4h-8zM706 600h4v4h-4zM734 600h8v4h-8zM706 604h8v4h-8zM734 604h12v4h-12zM706 608h8v4h-8zM734 608h12v4h-12zM710 612h8v4h-8zM734 612h12v4h-12zM710 616h8v4h-8zM734 616h12v4h-12zM638 620h4v4h-4zM714 620h8v4h-8zM734 620h12v4h-12zM638 624h4v4h-4zM718 624h28v4h-28zM638 628h8v4h-8zM722 628h20v4h-20z"/>
<path fill="#a30000" d="M718 576h4v4h-4zM714 580h16v4h-16zM710 584h20v4h-20zM710 588h24v4h-24zM710 592h24v4h-24zM710 596h24v4h-24zM710 600h24v4h-24zM714 604h20v4h-20zM714 608h20v4h-20zM718 612h16v4h-16zM718 616h16v4h-16zM722 620h12v4h-12z"/>
</g>
</g>
<path fill="#fff" d="M185.0 270.1h23.6v6.3h-23.6zM202.5 276.2h12.0v6.3h-12.0zM202.5 282.2h12.0v6.3h-12.0zM237.5 282.2h41.2v6.3h-41.2zM202.5 288.3h12.0v6.3h-12.0zM237.5 288.3h41.2v6.3h-41.2zM243.3 294.3h35.3v6.3h-35.3zM177.2 437.6h8.1v6.2h-8.1zM177.2 443.5h8.1v6.2h-8.1zM177.2 449.5h31.4v6.2h-31.4zM177.2 455.4h37.2v6.2h-37.2zM177.2 461.3h43.1v6.2h-43.1zM177.2 467.2h43.1v6.2h-43.1zM313.4 467.2h47.0v6.2h-47.0zM371.8 467.2h17.8v6.2h-17.8zM177.2 473.1h95.6v6.2h-95.6zM307.5 473.1h52.8v6.2h-52.8zM371.8 473.1h17.8v6.2h-17.8zM177.2 479.0h107.3v6.2h-107.3zM295.9 479.0h58.7v6.2h-58.7zM365.9 479.0h23.7v6.2h-23.7zM177.2 484.9h206.5v6.2h-206.5zM177.2 490.8h206.5v6.2h-206.5zM177.2 496.7h218.2v6.2h-218.2zM177.2 502.6h218.2v6.2h-218.2zM177.2 508.5h218.2v6.2h-218.2zM177.2 514.3h224.0v6.2h-224.0zM177.2 520.2h241.6v6.2h-241.6zM177.2 526.1h253.2v6.2h-253.2zM177.2 532.0h259.1v6.2h-259.1zM177.2 537.8h264.9v6.2h-264.9zM177.2 543.7h270.7v6.2h-270.7zM177.2 549.6h270.7v6.2h-270.7zM177.2 555.5h276.6v6.2h-276.6zM177.2 561.3h282.4v6.2h-282.4zM177.2 567.2h294.1v6.2h-294.1zM177.2 573.0h299.9v6.2h-299.9zM177.2 578.9h323.3v6.2h-323.3zM506.0 578.9h41.2v6.2h-41.2zM177.2 584.8h381.7v6.2h-381.7zM177.2 590.6h399.2v6.2h-399.2zM177.2 596.5h405.0v6.2h-405.0zM177.2 602.3h416.7v6.2h-416.7zM177.2 608.2h422.5v6.2h-422.5zM177.2 614.0h428.4v6.1h-428.4zM177.2 619.9h440.0v6.1h-440.0zM177.2 625.7h445.9v6.1h-445.9zM177.2 631.6h445.9v6.1h-445.9zM177.2 637.4h445.9v6.1h-445.9zM177.2 643.3h445.9v6.1h-445.9zM177.2 649.1h445.9v6.1h-445.9zM177.2 655.0h451.7v6.1h-451.7zM177.2 660.8h451.7v6.1h-451.7zM177.2 666.6h463.4v6.1h-463.4zM177.2 672.5h463.4v6.1h-463.4zM177.2 678.3h469.2v6.1h-469.2zM177.2 684.2h469.2v6.1h-469.2zM177.2 690.0h469.2v6.1h-469.2zM177.2 695.8h469.2v6.1h-469.2zM177.2 701.7h469.2v6.1h-469.2zM177.2 707.5h469.2v6.1h-469.2zM177.2 713.3h475.1v6.1h-475.1zM177.2 719.2h486.7v6.1h-486.7zM177.2 725.0h504.2v6.1h-504.2zM177.2 730.9h504.2v6.1h-504.2zM692.8 730.9h12.0v6.1h-12.0zM177.2 736.7h550.9v6.1h-550.9zM177.2 742.5h562.6v6.1h-562.6zM177.2 748.4h580.1v6.1h-580.1zM177.2 754.2h591.8v6.1h-591.8zM177.2 760.0h597.6v6.1h-597.6zM177.2 765.9h597.6v6.1h-597.6zM177.2 771.7h597.6v6.1h-597.6zM177.2 777.6h638.5v6.1h-638.5zM177.2 783.4h661.9v6.1h-661.9zM856.3 783.4h23.7v6.1h-23.7zM177.2 789.2h714.4v6.1h-714.4zM177.2 795.1h720.2v6.1h-720.2zM177.2 800.9h731.9v6.1h-731.9zM177.2 806.8h737.7v6.1h-737.7zM177.2 812.6h743.6v6.1h-743.6zM177.2 818.5h749.4v6.1h-749.4zM177.2 824.3h761.1v6.1h-761.1zM177.2 830.2h766.9v6.2h-766.9zM177.2 836.0h766.9v2.2h-766.9z"/>
<rect x="943" y="835.9" width="36" height="1.2" fill="#fff"/>
<g fill="#808080" stroke="#000" stroke-width="1.2" stroke-linejoin="round">
<polygon points="176.2,442.1 178.5,442.1 182.0,451.9 191.2,452.4 202.7,454.5 212.5,459.8 215.7,470.4 219.2,477.2 232.0,476.1 246.1,475.4 255.0,474.0 265.6,474.0 270.0,479.8 281.5,483.7 292.1,485.5 303.6,481.6 316.0,471.7 358.1,471.7 339.9,475.8 355.5,493.1 362.9,491.3 370.0,494.3 386.3,499.3 390.3,511.4 387.0,524.3 403.2,521.0 415.4,528.1 429.6,537.5 441.1,545.8 444.1,555.2 443.4,563.5 452.2,562.3 463.2,570.3 472.0,576.5 478.8,583.5 489.7,585.3 503.9,585.3 514.5,583.5 526.9,583.5 539.3,586.2 554.3,591.2 567.6,595.9 578.2,601.2 588.8,609.2 603.0,618.1 611.9,626.0 619.3,633.9 619.8,647.5 627.8,663.5 631.3,678.5 644.6,681.2 643.4,698.8 633.1,711.2 616.3,725.9 612.7,736.9 610.4,750.7 624.2,745.4 629.2,760.3 632.2,746.6 634.0,731.6 642.8,726.3 656.1,727.7 667.6,725.9 680.0,729.5 677.0,744.0 672.9,755.5 677.7,758.1 682.7,745.8 686.2,741.3 695.0,737.4 706.5,737.4 719.8,744.9 734.0,749.3 748.1,753.0 752.3,760.6 764.2,756.8 768.4,767.6 773.6,776.7 770.4,787.7 783.4,784.2 795.2,778.1 805.8,779.9 817.9,786.1 830.3,786.1 841.8,792.1 854.2,792.1 864.8,788.2 877.2,788.2 892.2,798.0 910.8,811.2 926.7,827.2 938.2,832.5 943.2,836.9 943.2,838.9 176.2,838.9"/>
<polygon points="370.9,472.2 386.3,470.4 386.3,481.9 380.6,486.9 367.3,487.6 374.4,483.7 375.0,474.0"/>
<polygon points="176.2,257.3 178.4,257.3 181.9,264.6 195.2,265.5 186.8,271.0 205.4,275.0 214.7,285.1 207.0,294.7 199.2,286.5 187.7,286.5 178.4,289.1 176.2,289.1"/>
<polygon points="242.1,285.1 269.6,285.1 277.1,290.9 271.8,296.6 262.9,297.5 252.3,299.1 242.1,296.6"/>
<polygon points="366.4,339.2 372.6,341.0 374.6,335.2 378.4,341.2 372.6,341.0 368.6,346.8"/>
<polygon points="382.0,373.0 386.5,376.4 390.2,381.4 385.7,377.9"/>
<polygon points="196.0,431.9 200.5,434.9 203.9,438.6 199.7,435.7"/>
</g>
<g stroke="#000" stroke-width="1.15" fill="none">
<line stroke-dasharray="1 3" x1="339.65" y1="130.00" x2="339.65" y2="837.00"/>
<line stroke-dasharray="1 3" x1="549.80" y1="130.00" x2="549.80" y2="837.00"/>
<line stroke-dasharray="1 3" x1="759.95" y1="130.00" x2="759.95" y2="837.00"/>
<line stroke-dasharray="1 3" x1="970.10" y1="130.00" x2="970.10" y2="837.00"/>
<line stroke-dasharray="1 3" x1="1180.25" y1="130.00" x2="1180.25" y2="837.00"/>
<line stroke-width="1" stroke-dasharray="1 3" x1="180.00" y1="150.50" x2="1224.00" y2="150.50"/>
<line stroke-width="1" stroke-dasharray="1 3" x1="180.00" y1="297.50" x2="1224.00" y2="297.50"/>
<line stroke-width="1" stroke-dasharray="1 3" x1="180.00" y1="440.50" x2="1224.00" y2="440.50"/>
<line stroke-width="1" stroke-dasharray="1 3" x1="180.00" y1="581.50" x2="1224.00" y2="581.50"/>
<line stroke-width="1" stroke-dasharray="1 3" x1="180.00" y1="722.50" x2="1224.00" y2="722.50"/>
</g>
</g>
<g stroke="#000" stroke-width="4.2" fill="none">
<line x1="339.6" y1="125.9" x2="339.6" y2="136.2"/>
<line x1="339.6" y1="839.0" x2="339.6" y2="828.7"/>
<line x1="549.8" y1="125.9" x2="549.8" y2="136.2"/>
<line x1="549.8" y1="839.0" x2="549.8" y2="828.7"/>
<line x1="760.0" y1="125.9" x2="760.0" y2="136.2"/>
<line x1="760.0" y1="839.0" x2="760.0" y2="828.7"/>
<line x1="970.1" y1="125.9" x2="970.1" y2="136.2"/>
<line x1="970.1" y1="839.0" x2="970.1" y2="828.7"/>
<line x1="1180.2" y1="125.9" x2="1180.2" y2="136.2"/>
<line x1="1180.2" y1="839.0" x2="1180.2" y2="828.7"/>
<line x1="176.2" y1="150.8" x2="186.5" y2="150.8"/>
<line x1="1226.7" y1="150.8" x2="1216.4" y2="150.8"/>
<line x1="176.2" y1="297.1" x2="186.5" y2="297.1"/>
<line x1="1226.7" y1="297.1" x2="1216.4" y2="297.1"/>
<line x1="176.2" y1="440.5" x2="186.5" y2="440.5"/>
<line x1="1226.7" y1="440.5" x2="1216.4" y2="440.5"/>
<line x1="176.2" y1="581.8" x2="186.5" y2="581.8"/>
<line x1="1226.7" y1="581.8" x2="1216.4" y2="581.8"/>
<line x1="176.2" y1="722.1" x2="186.5" y2="722.1"/>
<line x1="1226.7" y1="722.1" x2="1216.4" y2="722.1"/>
</g>
<rect x="176.2" y="125.9" width="1050.5" height="713.1" fill="none" stroke="#000" stroke-width="4.2" stroke-linejoin="round"/>
<g opacity="0.999">
<text x="705.9" y="76" font-size="31.5" font-weight="bold" text-anchor="middle" textLength="497.5" lengthAdjust="spacingAndGlyphs">AVHRR Sea Surface Temperature</text>
<text x="702.1" y="115.3" font-size="24" font-weight="bold" text-anchor="middle" textLength="127.2" lengthAdjust="spacingAndGlyphs">2016-07-28</text>
<text x="340.6" y="860.9" font-size="16.5" text-anchor="middle" textLength="43.6" lengthAdjust="spacingAndGlyphs">63<tspan font-size="12.5" dy="-7.9">o</tspan><tspan dy="7.9">W</tspan></text>
<text x="550.8" y="860.9" font-size="16.5" text-anchor="middle" textLength="43.6" lengthAdjust="spacingAndGlyphs">54<tspan font-size="12.5" dy="-7.9">o</tspan><tspan dy="7.9">W</tspan></text>
<text x="761.0" y="860.9" font-size="16.5" text-anchor="middle" textLength="43.6" lengthAdjust="spacingAndGlyphs">45<tspan font-size="12.5" dy="-7.9">o</tspan><tspan dy="7.9">W</tspan></text>
<text x="971.1" y="860.9" font-size="16.5" text-anchor="middle" textLength="43.6" lengthAdjust="spacingAndGlyphs">36<tspan font-size="12.5" dy="-7.9">o</tspan><tspan dy="7.9">W</tspan></text>
<text x="1181.2" y="860.9" font-size="16.5" text-anchor="middle" textLength="43.6" lengthAdjust="spacingAndGlyphs">27<tspan font-size="12.5" dy="-7.9">o</tspan><tspan dy="7.9">W</tspan></text>
<text x="171.2" y="159.6" font-size="16.5" text-anchor="end" textLength="38.2" lengthAdjust="spacingAndGlyphs">24<tspan font-size="12.5" dy="-7.9">o</tspan><tspan dy="7.9">N</tspan></text>
<text x="171.2" y="305.9" font-size="16.5" text-anchor="end" textLength="38.2" lengthAdjust="spacingAndGlyphs">18<tspan font-size="12.5" dy="-7.9">o</tspan><tspan dy="7.9">N</tspan></text>
<text x="171.2" y="449.3" font-size="16.5" text-anchor="end" textLength="38.2" lengthAdjust="spacingAndGlyphs">12<tspan font-size="12.5" dy="-7.9">o</tspan><tspan dy="7.9">N</tspan></text>
<text x="171.2" y="590.6" font-size="16.5" text-anchor="end" textLength="30.6" lengthAdjust="spacingAndGlyphs">6<tspan font-size="12.5" dy="-7.9">o</tspan><tspan dy="7.9">N</tspan></text>
<text x="165.4" y="730.9" font-size="16.5" text-anchor="end" textLength="17.2" lengthAdjust="spacingAndGlyphs">0<tspan font-size="12.5" dy="-7.9">o</tspan></text>
</g>
<g shape-rendering="crispEdges">
<rect x="177.30" y="880.4" width="11.13" height="19.4" fill="#b187ce"/>
<rect x="187.93" y="880.4" width="11.13" height="19.4" fill="#a879c7"/>
<rect x="198.55" y="880.4" width="11.13" height="19.4" fill="#9f6abf"/>
<rect x="209.18" y="880.4" width="11.13" height="19.4" fill="#965cb8"/>
<rect x="219.80" y="880.4" width="11.13" height="19.4" fill="#8d4eb0"/>
<rect x="230.43" y="880.4" width="11.13" height="19.4" fill="#8340a9"/>
<rect x="241.06" y="880.4" width="11.13" height="19.4" fill="#7a32a1"/>
<rect x="251.68" y="880.4" width="11.13" height="19.4" fill="#71249a"/>
<rect x="262.31" y="880.4" width="11.13" height="19.4" fill="#681592"/>
<rect x="272.93" y="880.4" width="11.13" height="19.4" fill="#5f078b"/>
<rect x="283.56" y="880.4" width="11.13" height="19.4" fill="#57008b"/>
<rect x="294.19" y="880.4" width="11.13" height="19.4" fill="#510093"/>
<rect x="304.81" y="880.4" width="11.13" height="19.4" fill="#4b009b"/>
<rect x="315.44" y="880.4" width="11.13" height="19.4" fill="#4500a3"/>
<rect x="326.06" y="880.4" width="11.13" height="19.4" fill="#3f00ab"/>
<rect x="336.69" y="880.4" width="11.13" height="19.4" fill="#3900b3"/>
<rect x="347.32" y="880.4" width="11.13" height="19.4" fill="#3300bb"/>
<rect x="357.94" y="880.4" width="11.13" height="19.4" fill="#2d00c3"/>
<rect x="368.57" y="880.4" width="11.13" height="19.4" fill="#2700cb"/>
<rect x="379.19" y="880.4" width="11.13" height="19.4" fill="#2100d3"/>
<rect x="389.82" y="880.4" width="11.13" height="19.4" fill="#1b00db"/>
<rect x="400.45" y="880.4" width="11.13" height="19.4" fill="#1500e3"/>
<rect x="411.07" y="880.4" width="11.13" height="19.4" fill="#0f00eb"/>
<rect x="421.70" y="880.4" width="11.13" height="19.4" fill="#0900f3"/>
<rect x="432.32" y="880.4" width="11.13" height="19.4" fill="#0300fb"/>
<rect x="442.95" y="880.4" width="11.13" height="19.4" fill="#0106f7"/>
<rect x="453.58" y="880.4" width="11.13" height="19.4" fill="#0211e7"/>
<rect x="464.20" y="880.4" width="11.13" height="19.4" fill="#031cd8"/>
<rect x="474.83" y="880.4" width="11.13" height="19.4" fill="#0427c8"/>
<rect x="485.45" y="880.4" width="11.13" height="19.4" fill="#0532b8"/>
<rect x="496.08" y="880.4" width="11.13" height="19.4" fill="#063ea9"/>
<rect x="506.71" y="880.4" width="11.13" height="19.4" fill="#074a9c"/>
<rect x="517.33" y="880.4" width="11.13" height="19.4" fill="#08568e"/>
<rect x="527.96" y="880.4" width="11.13" height="19.4" fill="#096280"/>
<rect x="538.58" y="880.4" width="11.13" height="19.4" fill="#0a6e73"/>
<rect x="549.21" y="880.4" width="11.13" height="19.4" fill="#0a7865"/>
<rect x="559.84" y="880.4" width="11.13" height="19.4" fill="#0b8158"/>
<rect x="570.46" y="880.4" width="11.13" height="19.4" fill="#0c894b"/>
<rect x="581.09" y="880.4" width="11.13" height="19.4" fill="#0d923e"/>
<rect x="591.71" y="880.4" width="11.13" height="19.4" fill="#0e9b31"/>
<rect x="602.34" y="880.4" width="11.13" height="19.4" fill="#0fa324"/>
<rect x="612.97" y="880.4" width="11.13" height="19.4" fill="#10ac17"/>
<rect x="623.59" y="880.4" width="11.13" height="19.4" fill="#17b210"/>
<rect x="634.22" y="880.4" width="11.13" height="19.4" fill="#24b610"/>
<rect x="644.84" y="880.4" width="11.13" height="19.4" fill="#31ba0f"/>
<rect x="655.47" y="880.4" width="11.13" height="19.4" fill="#3ebe0f"/>
<rect x="666.10" y="880.4" width="11.13" height="19.4" fill="#4cc20f"/>
<rect x="676.72" y="880.4" width="11.13" height="19.4" fill="#59c60f"/>
<rect x="687.35" y="880.4" width="11.13" height="19.4" fill="#66ca0e"/>
<rect x="697.97" y="880.4" width="11.13" height="19.4" fill="#73ce0e"/>
<rect x="708.60" y="880.4" width="11.13" height="19.4" fill="#81d30d"/>
<rect x="719.23" y="880.4" width="11.13" height="19.4" fill="#90d80c"/>
<rect x="729.85" y="880.4" width="11.13" height="19.4" fill="#9fdd0a"/>
<rect x="740.48" y="880.4" width="11.13" height="19.4" fill="#aee209"/>
<rect x="751.10" y="880.4" width="11.13" height="19.4" fill="#bce807"/>
<rect x="761.73" y="880.4" width="11.13" height="19.4" fill="#cbed05"/>
<rect x="772.36" y="880.4" width="11.13" height="19.4" fill="#daf204"/>
<rect x="782.98" y="880.4" width="11.13" height="19.4" fill="#e9f702"/>
<rect x="793.61" y="880.4" width="11.13" height="19.4" fill="#f8fc01"/>
<rect x="804.23" y="880.4" width="11.13" height="19.4" fill="#fffc00"/>
<rect x="814.86" y="880.4" width="11.13" height="19.4" fill="#fff600"/>
<rect x="825.49" y="880.4" width="11.13" height="19.4" fill="#fff100"/>
<rect x="836.11" y="880.4" width="11.13" height="19.4" fill="#ffeb00"/>
<rect x="846.74" y="880.4" width="11.13" height="19.4" fill="#ffe500"/>
<rect x="857.36" y="880.4" width="11.13" height="19.4" fill="#ffe000"/>
<rect x="867.99" y="880.4" width="11.13" height="19.4" fill="#ffda00"/>
<rect x="878.62" y="880.4" width="11.13" height="19.4" fill="#ffd400"/>
<rect x="889.24" y="880.4" width="11.13" height="19.4" fill="#ffce00"/>
<rect x="899.87" y="880.4" width="11.13" height="19.4" fill="#ffc900"/>
<rect x="910.49" y="880.4" width="11.13" height="19.4" fill="#ffc300"/>
<rect x="921.12" y="880.4" width="11.13" height="19.4" fill="#ffbc00"/>
<rect x="931.75" y="880.4" width="11.13" height="19.4" fill="#ffb500"/>
<rect x="942.37" y="880.4" width="11.13" height="19.4" fill="#ffad00"/>
<rect x="953.00" y="880.4" width="11.13" height="19.4" fill="#ffa600"/>
<rect x="963.62" y="880.4" width="11.13" height="19.4" fill="#ff9f00"/>
<rect x="974.25" y="880.4" width="11.13" height="19.4" fill="#ff9700"/>
<rect x="984.88" y="880.4" width="11.13" height="19.4" fill="#ff9000"/>
<rect x="995.50" y="880.4" width="11.13" height="19.4" fill="#ff8600"/>
<rect x="1006.13" y="880.4" width="11.13" height="19.4" fill="#ff7b00"/>
<rect x="1016.75" y="880.4" width="11.13" height="19.4" fill="#ff7000"/>
<rect x="1027.38" y="880.4" width="11.13" height="19.4" fill="#ff6600"/>
<rect x="1038.01" y="880.4" width="11.13" height="19.4" fill="#ff5d00"/>
<rect x="1048.63" y="880.4" width="11.13" height="19.4" fill="#ff5400"/>
<rect x="1059.26" y="880.4" width="11.13" height="19.4" fill="#ff4b00"/>
<rect x="1069.88" y="880.4" width="11.13" height="19.4" fill="#ff4200"/>
<rect x="1080.51" y="880.4" width="11.13" height="19.4" fill="#ff3900"/>
<rect x="1091.14" y="880.4" width="11.13" height="19.4" fill="#ff3100"/>
<rect x="1101.76" y="880.4" width="11.13" height="19.4" fill="#ff2800"/>
<rect x="1112.39" y="880.4" width="11.13" height="19.4" fill="#ff1f00"/>
<rect x="1123.01" y="880.4" width="11.13" height="19.4" fill="#ff1600"/>
<rect x="1133.64" y="880.4" width="11.13" height="19.4" fill="#ff0d00"/>
<rect x="1144.27" y="880.4" width="11.13" height="19.4" fill="#ff0400"/>
<rect x="1154.89" y="880.4" width="11.13" height="19.4" fill="#f80000"/>
<rect x="1165.52" y="880.4" width="11.13" height="19.4" fill="#eb0000"/>
<rect x="1176.14" y="880.4" width="11.13" height="19.4" fill="#de0000"/>
<rect x="1186.77" y="880.4" width="11.13" height="19.4" fill="#d10000"/>
<rect x="1197.40" y="880.4" width="11.13" height="19.4" fill="#c40000"/>
<rect x="1208.02" y="880.4" width="11.13" height="19.4" fill="#b70000"/>
<rect x="1218.65" y="880.4" width="11.13" height="19.4" fill="#aa0000"/>
<rect x="1229.27" y="880.4" width="10.63" height="19.4" fill="#9d0000"/>
</g>
<g stroke="#262626" stroke-width="1" fill="none">
<rect x="177.3" y="880.4" width="1062.6" height="19.4"/>
<line x1="283.6" y1="899.8" x2="283.6" y2="889.2"/>
<line x1="389.8" y1="899.8" x2="389.8" y2="889.2"/>
<line x1="496.1" y1="899.8" x2="496.1" y2="889.2"/>
<line x1="602.3" y1="899.8" x2="602.3" y2="889.2"/>
<line x1="708.6" y1="899.8" x2="708.6" y2="889.2"/>
<line x1="814.9" y1="899.8" x2="814.9" y2="889.2"/>
<line x1="921.1" y1="899.8" x2="921.1" y2="889.2"/>
<line x1="1027.4" y1="899.8" x2="1027.4" y2="889.2"/>
<line x1="1133.6" y1="899.8" x2="1133.6" y2="889.2"/>
</g>
<g fill="#262626" font-size="16.2" text-anchor="middle" opacity="0.999">
<text x="177.3" y="924.2">20</text>
<text x="283.6" y="924.2">21</text>
<text x="389.8" y="924.2">22</text>
<text x="496.1" y="924.2">23</text>
<text x="602.3" y="924.2">24</text>
<text x="708.6" y="924.2">25</text>
<text x="814.9" y="924.2">26</text>
<text x="921.1" y="924.2">27</text>
<text x="1027.4" y="924.2">28</text>
<text x="1133.6" y="924.2">29</text>
<text x="1239.9" y="924.2">30</text>
<text x="708.6" y="948">°C</text>
</g>
</svg></body></html>
